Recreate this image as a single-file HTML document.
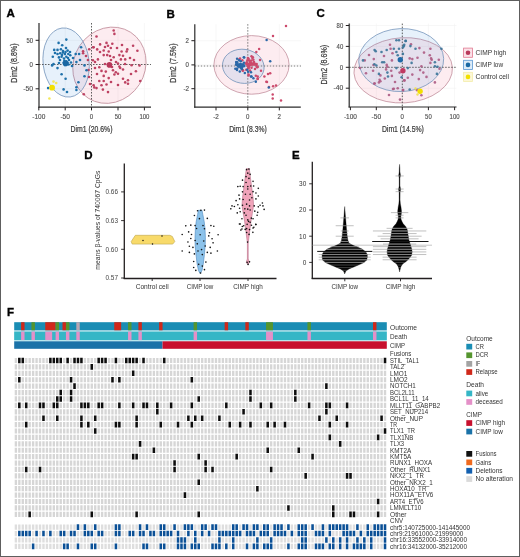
<!DOCTYPE html>
<html><head><meta charset="utf-8"><style>
html,body{margin:0;padding:0;background:#fff;}
svg{display:block;font-family:"Liberation Sans", sans-serif;will-change:transform;}
</style></head><body>
<svg width="520" height="557" viewBox="0 0 520 557">
<rect width="520" height="557" fill="#fff"/>
<text x="6.60" y="16.80" font-size="11.5" fill="#000" text-anchor="start" font-weight="bold" stroke="#000" stroke-width="0.35">A</text>
<text x="166.50" y="17.80" font-size="11.5" fill="#000" text-anchor="start" font-weight="bold" stroke="#000" stroke-width="0.35">B</text>
<text x="316.40" y="16.60" font-size="11.5" fill="#000" text-anchor="start" font-weight="bold" stroke="#000" stroke-width="0.35">C</text>
<text x="84.20" y="158.70" font-size="11.5" fill="#000" text-anchor="start" font-weight="bold" stroke="#000" stroke-width="0.35">D</text>
<text x="292.10" y="158.70" font-size="11.5" fill="#000" text-anchor="start" font-weight="bold" stroke="#000" stroke-width="0.35">E</text>
<text x="6.90" y="315.80" font-size="11.5" fill="#000" text-anchor="start" font-weight="bold" stroke="#000" stroke-width="0.35">F</text>
<line x1="38.80" y1="23.00" x2="38.80" y2="107.20" stroke="#f1f1f1" stroke-width="0.6"/>
<line x1="65.20" y1="23.00" x2="65.20" y2="107.20" stroke="#f1f1f1" stroke-width="0.6"/>
<line x1="91.50" y1="23.00" x2="91.50" y2="107.20" stroke="#f1f1f1" stroke-width="0.6"/>
<line x1="118.00" y1="23.00" x2="118.00" y2="107.20" stroke="#f1f1f1" stroke-width="0.6"/>
<line x1="144.40" y1="23.00" x2="144.40" y2="107.20" stroke="#f1f1f1" stroke-width="0.6"/>
<line x1="39.00" y1="40.30" x2="151.00" y2="40.30" stroke="#f1f1f1" stroke-width="0.6"/>
<line x1="39.00" y1="64.50" x2="151.00" y2="64.50" stroke="#f1f1f1" stroke-width="0.6"/>
<line x1="39.00" y1="88.80" x2="151.00" y2="88.80" stroke="#f1f1f1" stroke-width="0.6"/>
<ellipse cx="109.43" cy="65.24" rx="35.56" ry="39.18" transform="rotate(32.9 109.43 65.24)" fill="#ec5078" fill-opacity="0.11" stroke="#bf8a98" stroke-width="0.75"/>
<ellipse cx="66.09" cy="62.5" rx="22.99" ry="34.72" transform="rotate(-6.8 66.09 62.5)" fill="#3c8cdc" fill-opacity="0.12" stroke="#7090b8" stroke-width="0.75"/>
<line x1="39.00" y1="64.50" x2="151.00" y2="64.50" stroke="#3a3a3a" stroke-width="0.8" stroke-dasharray="1.5 1.5"/>
<line x1="91.50" y1="23.00" x2="91.50" y2="107.20" stroke="#3a3a3a" stroke-width="0.8" stroke-dasharray="1.5 1.5"/>
<circle cx="113.70" cy="30.50" r="1.30" fill="#bd4262"/>
<circle cx="114.40" cy="33.90" r="1.30" fill="#bd4262"/>
<circle cx="96.50" cy="36.50" r="1.30" fill="#bd4262"/>
<circle cx="106.50" cy="42.90" r="1.30" fill="#bd4262"/>
<circle cx="112.30" cy="43.70" r="1.30" fill="#bd4262"/>
<circle cx="100.10" cy="44.40" r="1.30" fill="#bd4262"/>
<circle cx="108.00" cy="45.80" r="1.30" fill="#bd4262"/>
<circle cx="110.80" cy="48.00" r="1.30" fill="#bd4262"/>
<circle cx="133.10" cy="45.80" r="1.30" fill="#bd4262"/>
<circle cx="93.60" cy="47.20" r="1.30" fill="#bd4262"/>
<circle cx="97.20" cy="49.40" r="1.30" fill="#bd4262"/>
<circle cx="103.70" cy="50.50" r="1.30" fill="#bd4262"/>
<circle cx="127.30" cy="49.40" r="1.30" fill="#bd4262"/>
<circle cx="126.60" cy="51.50" r="1.30" fill="#bd4262"/>
<circle cx="137.40" cy="50.80" r="1.30" fill="#bd4262"/>
<circle cx="108.70" cy="51.50" r="1.30" fill="#bd4262"/>
<circle cx="121.60" cy="51.50" r="1.30" fill="#bd4262"/>
<circle cx="103.70" cy="55.10" r="1.30" fill="#bd4262"/>
<circle cx="107.20" cy="55.10" r="1.30" fill="#bd4262"/>
<circle cx="119.40" cy="55.10" r="1.30" fill="#bd4262"/>
<circle cx="123.00" cy="55.80" r="1.30" fill="#bd4262"/>
<circle cx="113.70" cy="57.30" r="1.30" fill="#bd4262"/>
<circle cx="97.90" cy="59.40" r="1.30" fill="#bd4262"/>
<circle cx="120.90" cy="59.40" r="1.30" fill="#bd4262"/>
<circle cx="125.20" cy="59.40" r="1.30" fill="#bd4262"/>
<circle cx="92.90" cy="60.20" r="1.30" fill="#bd4262"/>
<circle cx="118.00" cy="63.50" r="1.30" fill="#bd4262"/>
<circle cx="131.60" cy="65.20" r="1.30" fill="#bd4262"/>
<circle cx="139.50" cy="65.50" r="1.30" fill="#bd4262"/>
<circle cx="119.40" cy="66.60" r="1.30" fill="#bd4262"/>
<circle cx="99.30" cy="67.30" r="1.30" fill="#bd4262"/>
<circle cx="95.00" cy="68.00" r="1.30" fill="#bd4262"/>
<circle cx="120.20" cy="68.00" r="1.30" fill="#bd4262"/>
<circle cx="123.00" cy="69.50" r="1.30" fill="#bd4262"/>
<circle cx="113.00" cy="70.20" r="1.30" fill="#bd4262"/>
<circle cx="101.50" cy="70.90" r="1.30" fill="#bd4262"/>
<circle cx="105.80" cy="71.60" r="1.30" fill="#bd4262"/>
<circle cx="135.90" cy="71.20" r="1.30" fill="#bd4262"/>
<circle cx="115.80" cy="72.30" r="1.30" fill="#bd4262"/>
<circle cx="118.00" cy="73.80" r="1.30" fill="#bd4262"/>
<circle cx="114.40" cy="74.50" r="1.30" fill="#bd4262"/>
<circle cx="103.70" cy="75.90" r="1.30" fill="#bd4262"/>
<circle cx="108.70" cy="78.10" r="1.30" fill="#bd4262"/>
<circle cx="123.00" cy="78.80" r="1.30" fill="#bd4262"/>
<circle cx="128.00" cy="80.20" r="1.30" fill="#bd4262"/>
<circle cx="140.20" cy="81.00" r="1.30" fill="#bd4262"/>
<circle cx="99.30" cy="81.00" r="1.30" fill="#bd4262"/>
<circle cx="103.70" cy="81.00" r="1.30" fill="#bd4262"/>
<circle cx="125.20" cy="82.40" r="1.30" fill="#bd4262"/>
<circle cx="128.00" cy="83.80" r="1.30" fill="#bd4262"/>
<circle cx="93.60" cy="85.30" r="1.30" fill="#bd4262"/>
<circle cx="101.50" cy="85.30" r="1.30" fill="#bd4262"/>
<circle cx="106.50" cy="84.50" r="1.30" fill="#bd4262"/>
<circle cx="94.30" cy="87.40" r="1.30" fill="#bd4262"/>
<circle cx="96.50" cy="88.10" r="1.30" fill="#bd4262"/>
<circle cx="102.90" cy="89.60" r="1.30" fill="#bd4262"/>
<circle cx="108.00" cy="92.10" r="1.30" fill="#bd4262"/>
<circle cx="83.10" cy="51.30" r="1.30" fill="#bd4262"/>
<circle cx="83.10" cy="53.30" r="1.30" fill="#bd4262"/>
<circle cx="87.90" cy="60.00" r="1.30" fill="#bd4262"/>
<circle cx="89.20" cy="49.30" r="1.30" fill="#bd4262"/>
<circle cx="93.20" cy="47.20" r="1.30" fill="#bd4262"/>
<circle cx="88.50" cy="70.00" r="1.30" fill="#bd4262"/>
<circle cx="86.00" cy="56.00" r="1.30" fill="#bd4262"/>
<circle cx="89.00" cy="77.00" r="1.30" fill="#bd4262"/>
<circle cx="95.00" cy="62.00" r="1.30" fill="#bd4262"/>
<circle cx="111.00" cy="60.00" r="1.30" fill="#bd4262"/>
<circle cx="116.00" cy="62.00" r="1.30" fill="#bd4262"/>
<circle cx="105.00" cy="64.00" r="1.30" fill="#bd4262"/>
<circle cx="112.00" cy="67.00" r="1.30" fill="#bd4262"/>
<circle cx="110.00" cy="56.00" r="1.30" fill="#bd4262"/>
<circle cx="125.00" cy="64.00" r="1.30" fill="#bd4262"/>
<circle cx="130.00" cy="58.00" r="1.30" fill="#bd4262"/>
<circle cx="117.00" cy="48.00" r="1.30" fill="#bd4262"/>
<circle cx="122.00" cy="45.00" r="1.30" fill="#bd4262"/>
<circle cx="100.00" cy="52.00" r="1.30" fill="#bd4262"/>
<circle cx="97.00" cy="74.00" r="1.30" fill="#bd4262"/>
<circle cx="111.00" cy="82.00" r="1.30" fill="#bd4262"/>
<circle cx="118.00" cy="85.00" r="1.30" fill="#bd4262"/>
<circle cx="131.00" cy="74.00" r="1.30" fill="#bd4262"/>
<circle cx="134.00" cy="60.00" r="1.30" fill="#bd4262"/>
<circle cx="105.00" cy="47.00" r="1.30" fill="#bd4262"/>
<circle cx="90.00" cy="84.00" r="1.30" fill="#bd4262"/>
<circle cx="83.80" cy="94.30" r="1.30" fill="#bd4262"/>
<circle cx="66.30" cy="39.60" r="1.30" fill="#1f71aa"/>
<circle cx="58.60" cy="42.90" r="1.30" fill="#1f71aa"/>
<circle cx="62.20" cy="45.20" r="1.30" fill="#1f71aa"/>
<circle cx="54.20" cy="49.90" r="1.30" fill="#1f71aa"/>
<circle cx="57.50" cy="49.90" r="1.30" fill="#1f71aa"/>
<circle cx="60.90" cy="49.30" r="1.30" fill="#1f71aa"/>
<circle cx="67.60" cy="50.60" r="1.30" fill="#1f71aa"/>
<circle cx="57.50" cy="54.00" r="1.30" fill="#1f71aa"/>
<circle cx="60.20" cy="53.30" r="1.30" fill="#1f71aa"/>
<circle cx="62.90" cy="52.60" r="1.30" fill="#1f71aa"/>
<circle cx="64.90" cy="54.00" r="1.30" fill="#1f71aa"/>
<circle cx="68.30" cy="54.00" r="1.30" fill="#1f71aa"/>
<circle cx="70.30" cy="55.30" r="1.30" fill="#1f71aa"/>
<circle cx="52.80" cy="56.70" r="1.30" fill="#1f71aa"/>
<circle cx="58.90" cy="57.40" r="1.30" fill="#1f71aa"/>
<circle cx="61.60" cy="56.70" r="1.30" fill="#1f71aa"/>
<circle cx="66.30" cy="56.70" r="1.30" fill="#1f71aa"/>
<circle cx="75.70" cy="54.00" r="1.30" fill="#1f71aa"/>
<circle cx="79.10" cy="54.00" r="1.30" fill="#1f71aa"/>
<circle cx="81.10" cy="47.20" r="1.30" fill="#1f71aa"/>
<circle cx="64.30" cy="60.70" r="1.30" fill="#1f71aa"/>
<circle cx="66.30" cy="61.40" r="1.30" fill="#1f71aa"/>
<circle cx="67.60" cy="62.70" r="1.30" fill="#1f71aa"/>
<circle cx="63.60" cy="62.70" r="1.30" fill="#1f71aa"/>
<circle cx="71.00" cy="62.50" r="1.30" fill="#1f71aa"/>
<circle cx="76.40" cy="62.10" r="1.30" fill="#1f71aa"/>
<circle cx="53.50" cy="64.10" r="1.30" fill="#1f71aa"/>
<circle cx="52.10" cy="65.40" r="1.30" fill="#1f71aa"/>
<circle cx="57.50" cy="68.10" r="1.30" fill="#1f71aa"/>
<circle cx="84.50" cy="65.40" r="1.30" fill="#1f71aa"/>
<circle cx="86.50" cy="70.20" r="1.30" fill="#1f71aa"/>
<circle cx="61.60" cy="74.20" r="1.30" fill="#1f71aa"/>
<circle cx="84.50" cy="76.20" r="1.30" fill="#1f71aa"/>
<circle cx="65.60" cy="78.70" r="1.30" fill="#1f71aa"/>
<circle cx="78.40" cy="82.30" r="1.30" fill="#1f71aa"/>
<circle cx="48.10" cy="88.10" r="1.30" fill="#1f71aa"/>
<circle cx="63.60" cy="89.40" r="1.30" fill="#1f71aa"/>
<circle cx="67.00" cy="92.00" r="1.30" fill="#1f71aa"/>
<circle cx="76.40" cy="87.30" r="1.30" fill="#1f71aa"/>
<circle cx="76.40" cy="90.00" r="1.30" fill="#1f71aa"/>
<circle cx="63.00" cy="51.00" r="1.30" fill="#1f71aa"/>
<circle cx="65.50" cy="52.00" r="1.30" fill="#1f71aa"/>
<circle cx="68.00" cy="58.00" r="1.30" fill="#1f71aa"/>
<circle cx="64.00" cy="58.50" r="1.30" fill="#1f71aa"/>
<circle cx="60.00" cy="60.00" r="1.30" fill="#1f71aa"/>
<circle cx="69.00" cy="60.00" r="1.30" fill="#1f71aa"/>
<circle cx="62.00" cy="55.00" r="1.30" fill="#1f71aa"/>
<circle cx="66.00" cy="48.00" r="1.30" fill="#1f71aa"/>
<circle cx="70.00" cy="52.00" r="1.30" fill="#1f71aa"/>
<circle cx="73.00" cy="58.00" r="1.30" fill="#1f71aa"/>
<circle cx="55.00" cy="53.00" r="1.30" fill="#1f71aa"/>
<circle cx="59.00" cy="63.00" r="1.30" fill="#1f71aa"/>
<circle cx="68.50" cy="64.50" r="1.30" fill="#1f71aa"/>
<circle cx="65.00" cy="65.00" r="1.30" fill="#1f71aa"/>
<circle cx="72.00" cy="66.00" r="1.30" fill="#1f71aa"/>
<circle cx="80.00" cy="60.00" r="1.30" fill="#1f71aa"/>
<circle cx="109.40" cy="64.90" r="2.80" fill="#b8385a"/>
<circle cx="65.60" cy="63.40" r="2.80" fill="#1a68a3"/>
<circle cx="53.50" cy="81.60" r="1.30" fill="#f3e85a"/>
<circle cx="56.20" cy="83.00" r="1.30" fill="#f3e85a"/>
<circle cx="49.40" cy="98.50" r="1.30" fill="#f3e85a"/>
<circle cx="52.10" cy="87.70" r="2.90" fill="#f2e000"/>
<line x1="39.00" y1="23.00" x2="39.00" y2="107.80" stroke="#2b2b2b" stroke-width="1.2"/>
<line x1="38.40" y1="107.20" x2="151.00" y2="107.20" stroke="#2b2b2b" stroke-width="1.2"/>
<line x1="38.80" y1="107.20" x2="38.80" y2="110.40" stroke="#231f20" stroke-width="1.0"/>
<text x="38.80" y="119.00" font-size="7.0" fill="#505050" text-anchor="middle" textLength="13.00" lengthAdjust="spacingAndGlyphs" stroke="#505050" stroke-width="0.15">-100</text>
<line x1="65.20" y1="107.20" x2="65.20" y2="110.40" stroke="#231f20" stroke-width="1.0"/>
<text x="65.20" y="119.00" font-size="7.0" fill="#505050" text-anchor="middle" textLength="9.60" lengthAdjust="spacingAndGlyphs" stroke="#505050" stroke-width="0.15">-50</text>
<line x1="91.50" y1="107.20" x2="91.50" y2="110.40" stroke="#231f20" stroke-width="1.0"/>
<text x="91.50" y="119.00" font-size="7.0" fill="#505050" text-anchor="middle" textLength="3.40" lengthAdjust="spacingAndGlyphs" stroke="#505050" stroke-width="0.15">0</text>
<line x1="118.00" y1="107.20" x2="118.00" y2="110.40" stroke="#231f20" stroke-width="1.0"/>
<text x="118.00" y="119.00" font-size="7.0" fill="#505050" text-anchor="middle" textLength="6.60" lengthAdjust="spacingAndGlyphs" stroke="#505050" stroke-width="0.15">50</text>
<line x1="144.40" y1="107.20" x2="144.40" y2="110.40" stroke="#231f20" stroke-width="1.0"/>
<text x="144.40" y="119.00" font-size="7.0" fill="#505050" text-anchor="middle" textLength="10.00" lengthAdjust="spacingAndGlyphs" stroke="#505050" stroke-width="0.15">100</text>
<line x1="35.60" y1="40.30" x2="39.00" y2="40.30" stroke="#231f20" stroke-width="1.0"/>
<text x="33.00" y="42.50" font-size="7.0" fill="#505050" text-anchor="end" textLength="6.60" lengthAdjust="spacingAndGlyphs" stroke="#505050" stroke-width="0.15">50</text>
<line x1="35.60" y1="64.50" x2="39.00" y2="64.50" stroke="#231f20" stroke-width="1.0"/>
<text x="33.00" y="66.70" font-size="7.0" fill="#505050" text-anchor="end" textLength="3.40" lengthAdjust="spacingAndGlyphs" stroke="#505050" stroke-width="0.15">0</text>
<line x1="35.60" y1="88.80" x2="39.00" y2="88.80" stroke="#231f20" stroke-width="1.0"/>
<text x="33.00" y="91.00" font-size="7.0" fill="#505050" text-anchor="end" textLength="9.80" lengthAdjust="spacingAndGlyphs" stroke="#505050" stroke-width="0.15">-50</text>
<text x="91.50" y="131.60" font-size="8.8" fill="#3a3a3a" text-anchor="middle" textLength="42.00" lengthAdjust="spacingAndGlyphs" stroke="#3a3a3a" stroke-width="0.22">Dim1 (20.6%)</text>
<text x="17.00" y="63.10" font-size="8.8" fill="#3a3a3a" text-anchor="middle" textLength="39.20" lengthAdjust="spacingAndGlyphs" transform="rotate(-90 17.00 63.10)" stroke="#3a3a3a" stroke-width="0.22">Dim2 (8.8%)</text>
<line x1="216.00" y1="24.20" x2="216.00" y2="107.20" stroke="#f1f1f1" stroke-width="0.6"/>
<line x1="247.80" y1="24.20" x2="247.80" y2="107.20" stroke="#f1f1f1" stroke-width="0.6"/>
<line x1="279.30" y1="24.20" x2="279.30" y2="107.20" stroke="#f1f1f1" stroke-width="0.6"/>
<line x1="194.80" y1="40.70" x2="300.80" y2="40.70" stroke="#f1f1f1" stroke-width="0.6"/>
<line x1="194.80" y1="64.90" x2="300.80" y2="64.90" stroke="#f1f1f1" stroke-width="0.6"/>
<line x1="194.80" y1="88.70" x2="300.80" y2="88.70" stroke="#f1f1f1" stroke-width="0.6"/>
<ellipse cx="251.5" cy="64.9" rx="37.6" ry="29.3" fill="#ec5078" fill-opacity="0.11" stroke="#bf8a98" stroke-width="0.75"/>
<ellipse cx="243.3" cy="66.3" rx="20.9" ry="17.0" transform="rotate(9 243.3 66.3)" fill="#3c8cdc" fill-opacity="0.12" stroke="#7090b8" stroke-width="0.75"/>
<line x1="194.80" y1="66.00" x2="301.00" y2="66.00" stroke="#6a6a6a" stroke-width="0.9" stroke-dasharray="1.4 1.6"/>
<line x1="247.80" y1="24.20" x2="247.80" y2="107.20" stroke="#6a6a6a" stroke-width="0.9" stroke-dasharray="1.4 1.6"/>
<circle cx="286.00" cy="26.00" r="1.25" fill="#cc4a6c"/>
<circle cx="273.00" cy="36.00" r="1.25" fill="#cc4a6c"/>
<circle cx="259.10" cy="49.10" r="1.25" fill="#cc4a6c"/>
<circle cx="256.30" cy="52.00" r="1.25" fill="#cc4a6c"/>
<circle cx="252.90" cy="57.30" r="1.25" fill="#cc4a6c"/>
<circle cx="248.60" cy="58.80" r="1.25" fill="#cc4a6c"/>
<circle cx="239.40" cy="59.20" r="1.25" fill="#cc4a6c"/>
<circle cx="256.70" cy="64.00" r="1.25" fill="#cc4a6c"/>
<circle cx="257.70" cy="66.90" r="1.25" fill="#cc4a6c"/>
<circle cx="261.00" cy="70.80" r="1.25" fill="#cc4a6c"/>
<circle cx="270.20" cy="73.20" r="1.25" fill="#cc4a6c"/>
<circle cx="264.40" cy="76.50" r="1.25" fill="#cc4a6c"/>
<circle cx="266.30" cy="81.80" r="1.25" fill="#cc4a6c"/>
<circle cx="257.70" cy="76.50" r="1.25" fill="#cc4a6c"/>
<circle cx="257.70" cy="78.50" r="1.25" fill="#cc4a6c"/>
<circle cx="248.60" cy="75.60" r="1.25" fill="#cc4a6c"/>
<circle cx="242.80" cy="70.80" r="1.25" fill="#cc4a6c"/>
<circle cx="246.20" cy="69.80" r="1.25" fill="#cc4a6c"/>
<circle cx="273.10" cy="86.20" r="1.25" fill="#cc4a6c"/>
<circle cx="267.00" cy="82.00" r="1.25" fill="#cc4a6c"/>
<circle cx="272.70" cy="94.50" r="1.25" fill="#cc4a6c"/>
<circle cx="272.70" cy="98.50" r="1.25" fill="#cc4a6c"/>
<circle cx="281.00" cy="100.60" r="1.25" fill="#cc4a6c"/>
<circle cx="276.00" cy="85.60" r="1.25" fill="#cc4a6c"/>
<circle cx="269.00" cy="87.00" r="1.25" fill="#cc4a6c"/>
<circle cx="268.00" cy="74.00" r="1.25" fill="#cc4a6c"/>
<circle cx="260.00" cy="60.00" r="1.25" fill="#cc4a6c"/>
<circle cx="240.00" cy="58.50" r="1.25" fill="#cc4a6c"/>
<circle cx="242.30" cy="60.20" r="1.25" fill="#cc4a6c"/>
<circle cx="247.80" cy="58.00" r="1.25" fill="#cc4a6c"/>
<circle cx="251.50" cy="56.20" r="1.25" fill="#cc4a6c"/>
<circle cx="253.40" cy="59.80" r="1.25" fill="#cc4a6c"/>
<circle cx="252.40" cy="58.00" r="1.25" fill="#cc4a6c"/>
<circle cx="248.50" cy="74.60" r="1.25" fill="#cc4a6c"/>
<circle cx="256.50" cy="65.40" r="1.25" fill="#cc4a6c"/>
<circle cx="257.00" cy="67.20" r="1.25" fill="#cc4a6c"/>
<circle cx="255.80" cy="75.80" r="1.25" fill="#cc4a6c"/>
<circle cx="257.70" cy="79.00" r="1.25" fill="#cc4a6c"/>
<circle cx="243.00" cy="70.30" r="1.25" fill="#cc4a6c"/>
<circle cx="254.00" cy="62.00" r="1.25" fill="#cc4a6c"/>
<circle cx="255.00" cy="69.00" r="1.25" fill="#cc4a6c"/>
<circle cx="250.00" cy="70.50" r="1.25" fill="#cc4a6c"/>
<circle cx="246.74" cy="62.36" r="1.25" fill="#cc4a6c"/>
<circle cx="251.54" cy="60.53" r="1.25" fill="#cc4a6c"/>
<circle cx="249.43" cy="60.59" r="1.25" fill="#cc4a6c"/>
<circle cx="252.66" cy="64.52" r="1.25" fill="#cc4a6c"/>
<circle cx="253.33" cy="63.39" r="1.25" fill="#cc4a6c"/>
<circle cx="250.84" cy="63.74" r="1.25" fill="#cc4a6c"/>
<circle cx="247.88" cy="64.43" r="1.25" fill="#cc4a6c"/>
<circle cx="246.53" cy="63.63" r="1.25" fill="#cc4a6c"/>
<circle cx="251.61" cy="64.29" r="1.25" fill="#cc4a6c"/>
<circle cx="248.73" cy="67.70" r="1.25" fill="#cc4a6c"/>
<circle cx="249.95" cy="63.26" r="1.25" fill="#cc4a6c"/>
<circle cx="250.21" cy="63.36" r="1.25" fill="#cc4a6c"/>
<circle cx="248.80" cy="63.64" r="1.25" fill="#cc4a6c"/>
<circle cx="255.07" cy="64.24" r="1.25" fill="#cc4a6c"/>
<circle cx="250.26" cy="65.28" r="1.25" fill="#cc4a6c"/>
<circle cx="255.04" cy="63.84" r="1.25" fill="#cc4a6c"/>
<circle cx="248.18" cy="68.16" r="1.25" fill="#cc4a6c"/>
<circle cx="246.00" cy="63.61" r="1.25" fill="#cc4a6c"/>
<circle cx="251.53" cy="67.85" r="1.25" fill="#cc4a6c"/>
<circle cx="247.33" cy="60.32" r="1.25" fill="#cc4a6c"/>
<circle cx="251.52" cy="63.37" r="1.25" fill="#cc4a6c"/>
<circle cx="248.79" cy="64.94" r="1.25" fill="#cc4a6c"/>
<circle cx="250.38" cy="64.67" r="1.25" fill="#cc4a6c"/>
<circle cx="248.68" cy="66.26" r="1.25" fill="#cc4a6c"/>
<circle cx="253.71" cy="64.25" r="1.25" fill="#cc4a6c"/>
<circle cx="248.63" cy="65.37" r="1.25" fill="#cc4a6c"/>
<circle cx="251.04" cy="62.54" r="1.25" fill="#cc4a6c"/>
<circle cx="248.60" cy="65.88" r="1.25" fill="#cc4a6c"/>
<circle cx="249.55" cy="63.67" r="1.25" fill="#cc4a6c"/>
<circle cx="250.35" cy="64.15" r="1.25" fill="#cc4a6c"/>
<circle cx="249.79" cy="61.11" r="1.25" fill="#cc4a6c"/>
<circle cx="254.35" cy="64.52" r="1.25" fill="#cc4a6c"/>
<circle cx="247.52" cy="65.77" r="1.25" fill="#cc4a6c"/>
<circle cx="250.60" cy="64.23" r="1.25" fill="#cc4a6c"/>
<circle cx="266.60" cy="40.00" r="1.25" fill="#2b68a8"/>
<circle cx="243.80" cy="57.30" r="1.25" fill="#2b68a8"/>
<circle cx="270.20" cy="61.30" r="1.25" fill="#2b68a8"/>
<circle cx="255.80" cy="81.80" r="1.25" fill="#2b68a8"/>
<circle cx="253.40" cy="78.30" r="1.25" fill="#2b68a8"/>
<circle cx="251.00" cy="76.50" r="1.25" fill="#2b68a8"/>
<circle cx="251.00" cy="72.20" r="1.25" fill="#2b68a8"/>
<circle cx="248.10" cy="71.70" r="1.25" fill="#2b68a8"/>
<circle cx="244.80" cy="73.00" r="1.25" fill="#2b68a8"/>
<circle cx="239.80" cy="71.50" r="1.25" fill="#2b68a8"/>
<circle cx="268.80" cy="87.60" r="1.25" fill="#2b68a8"/>
<circle cx="244.20" cy="57.40" r="1.25" fill="#2b68a8"/>
<circle cx="247.20" cy="69.70" r="1.25" fill="#2b68a8"/>
<circle cx="251.50" cy="76.50" r="1.25" fill="#2b68a8"/>
<circle cx="242.00" cy="69.00" r="1.25" fill="#2b68a8"/>
<circle cx="237.00" cy="70.00" r="1.25" fill="#2b68a8"/>
<circle cx="241.70" cy="69.10" r="1.25" fill="#2b68a8"/>
<circle cx="240.71" cy="67.81" r="1.25" fill="#2b68a8"/>
<circle cx="243.91" cy="62.86" r="1.25" fill="#2b68a8"/>
<circle cx="238.55" cy="66.27" r="1.25" fill="#2b68a8"/>
<circle cx="236.18" cy="64.29" r="1.25" fill="#2b68a8"/>
<circle cx="242.19" cy="66.78" r="1.25" fill="#2b68a8"/>
<circle cx="240.76" cy="61.20" r="1.25" fill="#2b68a8"/>
<circle cx="244.30" cy="65.85" r="1.25" fill="#2b68a8"/>
<circle cx="241.13" cy="65.74" r="1.25" fill="#2b68a8"/>
<circle cx="236.17" cy="62.07" r="1.25" fill="#2b68a8"/>
<circle cx="237.17" cy="68.44" r="1.25" fill="#2b68a8"/>
<circle cx="237.94" cy="64.34" r="1.25" fill="#2b68a8"/>
<circle cx="239.09" cy="65.88" r="1.25" fill="#2b68a8"/>
<circle cx="240.60" cy="65.31" r="1.25" fill="#2b68a8"/>
<circle cx="237.08" cy="58.84" r="1.25" fill="#2b68a8"/>
<circle cx="239.93" cy="65.31" r="1.25" fill="#2b68a8"/>
<circle cx="242.06" cy="64.60" r="1.25" fill="#2b68a8"/>
<circle cx="238.38" cy="65.58" r="1.25" fill="#2b68a8"/>
<circle cx="236.49" cy="62.82" r="1.25" fill="#2b68a8"/>
<circle cx="237.59" cy="65.35" r="1.25" fill="#2b68a8"/>
<circle cx="243.78" cy="66.25" r="1.25" fill="#2b68a8"/>
<circle cx="241.88" cy="65.25" r="1.25" fill="#2b68a8"/>
<circle cx="240.16" cy="63.95" r="1.25" fill="#2b68a8"/>
<circle cx="239.04" cy="60.18" r="1.25" fill="#2b68a8"/>
<circle cx="237.19" cy="62.35" r="1.25" fill="#2b68a8"/>
<circle cx="241.27" cy="66.06" r="1.25" fill="#2b68a8"/>
<circle cx="241.88" cy="67.76" r="1.25" fill="#2b68a8"/>
<circle cx="238.99" cy="66.81" r="1.25" fill="#2b68a8"/>
<circle cx="243.51" cy="64.78" r="1.25" fill="#2b68a8"/>
<circle cx="241.77" cy="64.49" r="1.25" fill="#2b68a8"/>
<circle cx="236.37" cy="65.03" r="1.25" fill="#2b68a8"/>
<circle cx="237.96" cy="65.01" r="1.25" fill="#2b68a8"/>
<circle cx="238.67" cy="65.41" r="1.25" fill="#2b68a8"/>
<circle cx="235.33" cy="68.76" r="1.25" fill="#2b68a8"/>
<line x1="194.80" y1="24.20" x2="194.80" y2="107.80" stroke="#2b2b2b" stroke-width="1.2"/>
<line x1="194.20" y1="107.20" x2="300.80" y2="107.20" stroke="#2b2b2b" stroke-width="1.2"/>
<line x1="216.00" y1="107.20" x2="216.00" y2="110.40" stroke="#231f20" stroke-width="1.0"/>
<text x="216.00" y="119.00" font-size="7.0" fill="#505050" text-anchor="middle" textLength="5.60" lengthAdjust="spacingAndGlyphs" stroke="#505050" stroke-width="0.15">-2</text>
<line x1="247.80" y1="107.20" x2="247.80" y2="110.40" stroke="#231f20" stroke-width="1.0"/>
<text x="247.80" y="119.00" font-size="7.0" fill="#505050" text-anchor="middle" textLength="3.40" lengthAdjust="spacingAndGlyphs" stroke="#505050" stroke-width="0.15">0</text>
<line x1="279.30" y1="107.20" x2="279.30" y2="110.40" stroke="#231f20" stroke-width="1.0"/>
<text x="279.30" y="119.00" font-size="7.0" fill="#505050" text-anchor="middle" textLength="3.40" lengthAdjust="spacingAndGlyphs" stroke="#505050" stroke-width="0.15">2</text>
<line x1="191.40" y1="40.70" x2="194.80" y2="40.70" stroke="#231f20" stroke-width="1.0"/>
<text x="189.00" y="42.90" font-size="7.0" fill="#505050" text-anchor="end" textLength="3.40" lengthAdjust="spacingAndGlyphs" stroke="#505050" stroke-width="0.15">2</text>
<line x1="191.40" y1="64.90" x2="194.80" y2="64.90" stroke="#231f20" stroke-width="1.0"/>
<text x="189.00" y="67.10" font-size="7.0" fill="#505050" text-anchor="end" textLength="3.40" lengthAdjust="spacingAndGlyphs" stroke="#505050" stroke-width="0.15">0</text>
<line x1="191.40" y1="88.70" x2="194.80" y2="88.70" stroke="#231f20" stroke-width="1.0"/>
<text x="189.00" y="90.90" font-size="7.0" fill="#505050" text-anchor="end" textLength="5.60" lengthAdjust="spacingAndGlyphs" stroke="#505050" stroke-width="0.15">-2</text>
<text x="248.00" y="132.20" font-size="8.8" fill="#3a3a3a" text-anchor="middle" textLength="37.60" lengthAdjust="spacingAndGlyphs" stroke="#3a3a3a" stroke-width="0.22">Dim1 (8.3%)</text>
<text x="176.00" y="63.10" font-size="8.8" fill="#3a3a3a" text-anchor="middle" textLength="39.20" lengthAdjust="spacingAndGlyphs" transform="rotate(-90 176.00 63.10)" stroke="#3a3a3a" stroke-width="0.22">Dim2 (7.5%)</text>
<line x1="350.40" y1="23.60" x2="350.40" y2="107.00" stroke="#f1f1f1" stroke-width="0.6"/>
<line x1="376.30" y1="23.60" x2="376.30" y2="107.00" stroke="#f1f1f1" stroke-width="0.6"/>
<line x1="402.30" y1="23.60" x2="402.30" y2="107.00" stroke="#f1f1f1" stroke-width="0.6"/>
<line x1="428.40" y1="23.60" x2="428.40" y2="107.00" stroke="#f1f1f1" stroke-width="0.6"/>
<line x1="454.60" y1="23.60" x2="454.60" y2="107.00" stroke="#f1f1f1" stroke-width="0.6"/>
<line x1="349.20" y1="25.50" x2="456.50" y2="25.50" stroke="#f1f1f1" stroke-width="0.6"/>
<line x1="349.20" y1="46.40" x2="456.50" y2="46.40" stroke="#f1f1f1" stroke-width="0.6"/>
<line x1="349.20" y1="67.30" x2="456.50" y2="67.30" stroke="#f1f1f1" stroke-width="0.6"/>
<line x1="349.20" y1="88.20" x2="456.50" y2="88.20" stroke="#f1f1f1" stroke-width="0.6"/>
<ellipse cx="403.2" cy="70.3" rx="49.3" ry="32.6" transform="rotate(-3.3 403.2 70.3)" fill="#ec5078" fill-opacity="0.11" stroke="#bf8a98" stroke-width="0.75"/>
<ellipse cx="401.2" cy="60.1" rx="42.5" ry="31.5" transform="rotate(-2.3 401.2 60.1)" fill="#3c8cdc" fill-opacity="0.12" stroke="#7090b8" stroke-width="0.75"/>
<line x1="349.20" y1="67.30" x2="456.50" y2="67.30" stroke="#3a3a3a" stroke-width="0.8" stroke-dasharray="1.5 1.5"/>
<line x1="402.30" y1="23.60" x2="402.30" y2="107.00" stroke="#3a3a3a" stroke-width="0.8" stroke-dasharray="1.5 1.5"/>
<circle cx="390.00" cy="44.80" r="1.30" fill="#ad5c84" fill-opacity="0.9"/>
<circle cx="390.60" cy="48.70" r="1.30" fill="#ad5c84" fill-opacity="0.9"/>
<circle cx="392.50" cy="53.20" r="1.30" fill="#ad5c84" fill-opacity="0.9"/>
<circle cx="364.70" cy="60.40" r="1.30" fill="#ad5c84" fill-opacity="0.9"/>
<circle cx="373.80" cy="59.10" r="1.30" fill="#ad5c84" fill-opacity="0.9"/>
<circle cx="391.90" cy="60.40" r="1.30" fill="#ad5c84" fill-opacity="0.9"/>
<circle cx="386.70" cy="64.90" r="1.30" fill="#ad5c84" fill-opacity="0.9"/>
<circle cx="387.40" cy="66.80" r="1.30" fill="#ad5c84" fill-opacity="0.9"/>
<circle cx="373.10" cy="70.70" r="1.30" fill="#ad5c84" fill-opacity="0.9"/>
<circle cx="386.10" cy="69.40" r="1.30" fill="#ad5c84" fill-opacity="0.9"/>
<circle cx="391.20" cy="70.70" r="1.30" fill="#ad5c84" fill-opacity="0.9"/>
<circle cx="399.60" cy="72.60" r="1.30" fill="#ad5c84" fill-opacity="0.9"/>
<circle cx="391.90" cy="75.90" r="1.30" fill="#ad5c84" fill-opacity="0.9"/>
<circle cx="379.60" cy="79.80" r="1.30" fill="#ad5c84" fill-opacity="0.9"/>
<circle cx="378.90" cy="82.40" r="1.30" fill="#ad5c84" fill-opacity="0.9"/>
<circle cx="384.80" cy="78.50" r="1.30" fill="#ad5c84" fill-opacity="0.9"/>
<circle cx="374.40" cy="83.60" r="1.30" fill="#ad5c84" fill-opacity="0.9"/>
<circle cx="404.20" cy="80.40" r="1.30" fill="#ad5c84" fill-opacity="0.9"/>
<circle cx="397.70" cy="88.20" r="1.30" fill="#ad5c84" fill-opacity="0.9"/>
<circle cx="402.90" cy="90.10" r="1.30" fill="#ad5c84" fill-opacity="0.9"/>
<circle cx="393.80" cy="88.80" r="1.30" fill="#ad5c84" fill-opacity="0.9"/>
<circle cx="366.00" cy="73.30" r="1.30" fill="#ad5c84" fill-opacity="0.9"/>
<circle cx="411.00" cy="44.20" r="1.30" fill="#ad5c84" fill-opacity="0.9"/>
<circle cx="419.40" cy="48.10" r="1.30" fill="#ad5c84" fill-opacity="0.9"/>
<circle cx="430.40" cy="48.70" r="1.30" fill="#ad5c84" fill-opacity="0.9"/>
<circle cx="424.00" cy="52.60" r="1.30" fill="#ad5c84" fill-opacity="0.9"/>
<circle cx="429.80" cy="55.20" r="1.30" fill="#ad5c84" fill-opacity="0.9"/>
<circle cx="409.70" cy="58.40" r="1.30" fill="#ad5c84" fill-opacity="0.9"/>
<circle cx="412.30" cy="59.10" r="1.30" fill="#ad5c84" fill-opacity="0.9"/>
<circle cx="417.50" cy="57.80" r="1.30" fill="#ad5c84" fill-opacity="0.9"/>
<circle cx="431.10" cy="58.40" r="1.30" fill="#ad5c84" fill-opacity="0.9"/>
<circle cx="431.70" cy="59.70" r="1.30" fill="#ad5c84" fill-opacity="0.9"/>
<circle cx="438.80" cy="59.70" r="1.30" fill="#ad5c84" fill-opacity="0.9"/>
<circle cx="430.40" cy="62.90" r="1.30" fill="#ad5c84" fill-opacity="0.9"/>
<circle cx="421.40" cy="66.20" r="1.30" fill="#ad5c84" fill-opacity="0.9"/>
<circle cx="439.50" cy="68.80" r="1.30" fill="#ad5c84" fill-opacity="0.9"/>
<circle cx="420.10" cy="70.10" r="1.30" fill="#ad5c84" fill-opacity="0.9"/>
<circle cx="423.30" cy="72.60" r="1.30" fill="#ad5c84" fill-opacity="0.9"/>
<circle cx="412.30" cy="74.60" r="1.30" fill="#ad5c84" fill-opacity="0.9"/>
<circle cx="407.80" cy="77.80" r="1.30" fill="#ad5c84" fill-opacity="0.9"/>
<circle cx="418.80" cy="79.10" r="1.30" fill="#ad5c84" fill-opacity="0.9"/>
<circle cx="426.50" cy="76.90" r="1.30" fill="#ad5c84" fill-opacity="0.9"/>
<circle cx="434.90" cy="82.40" r="1.30" fill="#ad5c84" fill-opacity="0.9"/>
<circle cx="404.50" cy="80.40" r="1.30" fill="#ad5c84" fill-opacity="0.9"/>
<circle cx="416.80" cy="90.10" r="1.30" fill="#ad5c84" fill-opacity="0.9"/>
<circle cx="421.40" cy="95.30" r="1.30" fill="#ad5c84" fill-opacity="0.9"/>
<circle cx="403.20" cy="90.10" r="1.30" fill="#ad5c84" fill-opacity="0.9"/>
<circle cx="373.50" cy="65.00" r="1.30" fill="#ad5c84" fill-opacity="0.9"/>
<circle cx="380.40" cy="75.40" r="1.30" fill="#ad5c84" fill-opacity="0.9"/>
<circle cx="374.60" cy="83.50" r="1.30" fill="#ad5c84" fill-opacity="0.9"/>
<circle cx="380.40" cy="81.20" r="1.30" fill="#ad5c84" fill-opacity="0.9"/>
<circle cx="400.00" cy="99.60" r="1.30" fill="#ad5c84" fill-opacity="0.9"/>
<circle cx="393.00" cy="89.00" r="1.30" fill="#ad5c84" fill-opacity="0.9"/>
<circle cx="369.00" cy="55.00" r="1.30" fill="#ad5c84" fill-opacity="0.9"/>
<circle cx="384.00" cy="56.00" r="1.30" fill="#ad5c84" fill-opacity="0.9"/>
<circle cx="360.00" cy="68.00" r="1.30" fill="#ad5c84" fill-opacity="0.9"/>
<circle cx="395.00" cy="82.00" r="1.30" fill="#ad5c84" fill-opacity="0.9"/>
<circle cx="389.00" cy="95.00" r="1.30" fill="#ad5c84" fill-opacity="0.9"/>
<circle cx="396.40" cy="40.30" r="1.30" fill="#3a7498" fill-opacity="0.9"/>
<circle cx="399.00" cy="40.30" r="1.30" fill="#3a7498" fill-opacity="0.9"/>
<circle cx="405.50" cy="41.00" r="1.30" fill="#3a7498" fill-opacity="0.9"/>
<circle cx="404.20" cy="44.80" r="1.30" fill="#3a7498" fill-opacity="0.9"/>
<circle cx="393.80" cy="48.70" r="1.30" fill="#3a7498" fill-opacity="0.9"/>
<circle cx="399.00" cy="48.70" r="1.30" fill="#3a7498" fill-opacity="0.9"/>
<circle cx="402.90" cy="47.40" r="1.30" fill="#3a7498" fill-opacity="0.9"/>
<circle cx="386.70" cy="50.00" r="1.30" fill="#3a7498" fill-opacity="0.9"/>
<circle cx="375.70" cy="51.30" r="1.30" fill="#3a7498" fill-opacity="0.9"/>
<circle cx="381.50" cy="52.00" r="1.30" fill="#3a7498" fill-opacity="0.9"/>
<circle cx="396.40" cy="52.00" r="1.30" fill="#3a7498" fill-opacity="0.9"/>
<circle cx="397.70" cy="55.20" r="1.30" fill="#3a7498" fill-opacity="0.9"/>
<circle cx="402.90" cy="53.90" r="1.30" fill="#3a7498" fill-opacity="0.9"/>
<circle cx="382.20" cy="62.30" r="1.30" fill="#3a7498" fill-opacity="0.9"/>
<circle cx="384.10" cy="62.30" r="1.30" fill="#3a7498" fill-opacity="0.9"/>
<circle cx="374.40" cy="64.20" r="1.30" fill="#3a7498" fill-opacity="0.9"/>
<circle cx="376.40" cy="65.50" r="1.30" fill="#3a7498" fill-opacity="0.9"/>
<circle cx="378.90" cy="73.90" r="1.30" fill="#3a7498" fill-opacity="0.9"/>
<circle cx="387.40" cy="72.60" r="1.30" fill="#3a7498" fill-opacity="0.9"/>
<circle cx="401.60" cy="77.20" r="1.30" fill="#3a7498" fill-opacity="0.9"/>
<circle cx="405.80" cy="40.90" r="1.30" fill="#3a7498" fill-opacity="0.9"/>
<circle cx="410.40" cy="46.10" r="1.30" fill="#3a7498" fill-opacity="0.9"/>
<circle cx="403.90" cy="46.10" r="1.30" fill="#3a7498" fill-opacity="0.9"/>
<circle cx="415.50" cy="48.70" r="1.30" fill="#3a7498" fill-opacity="0.9"/>
<circle cx="441.40" cy="48.70" r="1.30" fill="#3a7498" fill-opacity="0.9"/>
<circle cx="434.90" cy="62.30" r="1.30" fill="#3a7498" fill-opacity="0.9"/>
<circle cx="411.60" cy="62.90" r="1.30" fill="#3a7498" fill-opacity="0.9"/>
<circle cx="434.90" cy="66.20" r="1.30" fill="#3a7498" fill-opacity="0.9"/>
<circle cx="437.50" cy="66.80" r="1.30" fill="#3a7498" fill-opacity="0.9"/>
<circle cx="436.90" cy="73.90" r="1.30" fill="#3a7498" fill-opacity="0.9"/>
<circle cx="409.70" cy="89.50" r="1.30" fill="#3a7498" fill-opacity="0.9"/>
<circle cx="363.00" cy="60.40" r="1.30" fill="#3a7498" fill-opacity="0.9"/>
<circle cx="374.60" cy="50.00" r="1.30" fill="#3a7498" fill-opacity="0.9"/>
<circle cx="396.40" cy="68.10" r="1.30" fill="#3a7498" fill-opacity="0.9"/>
<circle cx="388.00" cy="76.50" r="1.30" fill="#3a7498" fill-opacity="0.9"/>
<circle cx="407.80" cy="68.10" r="1.30" fill="#3a7498" fill-opacity="0.9"/>
<circle cx="400.30" cy="59.70" r="2.70" fill="#1f6aa8"/>
<circle cx="402.90" cy="70.70" r="2.70" fill="#c03a62"/>
<circle cx="420.10" cy="91.20" r="2.70" fill="#f2e000"/>
<circle cx="415.50" cy="88.50" r="1.20" fill="#efe060"/>
<circle cx="417.50" cy="94.50" r="1.20" fill="#efe060"/>
<line x1="349.20" y1="23.60" x2="349.20" y2="107.60" stroke="#2b2b2b" stroke-width="1.2"/>
<line x1="348.60" y1="107.00" x2="456.50" y2="107.00" stroke="#2b2b2b" stroke-width="1.2"/>
<line x1="350.40" y1="107.00" x2="350.40" y2="110.20" stroke="#231f20" stroke-width="1.0"/>
<text x="350.40" y="119.00" font-size="7.0" fill="#505050" text-anchor="middle" textLength="13.00" lengthAdjust="spacingAndGlyphs" stroke="#505050" stroke-width="0.15">-100</text>
<line x1="376.30" y1="107.00" x2="376.30" y2="110.20" stroke="#231f20" stroke-width="1.0"/>
<text x="376.30" y="119.00" font-size="7.0" fill="#505050" text-anchor="middle" textLength="9.60" lengthAdjust="spacingAndGlyphs" stroke="#505050" stroke-width="0.15">-50</text>
<line x1="402.30" y1="107.00" x2="402.30" y2="110.20" stroke="#231f20" stroke-width="1.0"/>
<text x="402.30" y="119.00" font-size="7.0" fill="#505050" text-anchor="middle" textLength="3.40" lengthAdjust="spacingAndGlyphs" stroke="#505050" stroke-width="0.15">0</text>
<line x1="428.40" y1="107.00" x2="428.40" y2="110.20" stroke="#231f20" stroke-width="1.0"/>
<text x="428.40" y="119.00" font-size="7.0" fill="#505050" text-anchor="middle" textLength="6.60" lengthAdjust="spacingAndGlyphs" stroke="#505050" stroke-width="0.15">50</text>
<line x1="454.60" y1="107.00" x2="454.60" y2="110.20" stroke="#231f20" stroke-width="1.0"/>
<text x="454.60" y="119.00" font-size="7.0" fill="#505050" text-anchor="middle" textLength="10.00" lengthAdjust="spacingAndGlyphs" stroke="#505050" stroke-width="0.15">100</text>
<line x1="345.80" y1="25.50" x2="349.20" y2="25.50" stroke="#231f20" stroke-width="1.0"/>
<text x="343.20" y="27.70" font-size="7.0" fill="#505050" text-anchor="end" textLength="6.60" lengthAdjust="spacingAndGlyphs" stroke="#505050" stroke-width="0.15">80</text>
<line x1="345.80" y1="46.40" x2="349.20" y2="46.40" stroke="#231f20" stroke-width="1.0"/>
<text x="343.20" y="48.60" font-size="7.0" fill="#505050" text-anchor="end" textLength="6.60" lengthAdjust="spacingAndGlyphs" stroke="#505050" stroke-width="0.15">40</text>
<line x1="345.80" y1="67.30" x2="349.20" y2="67.30" stroke="#231f20" stroke-width="1.0"/>
<text x="343.20" y="69.50" font-size="7.0" fill="#505050" text-anchor="end" textLength="3.40" lengthAdjust="spacingAndGlyphs" stroke="#505050" stroke-width="0.15">0</text>
<line x1="345.80" y1="88.20" x2="349.20" y2="88.20" stroke="#231f20" stroke-width="1.0"/>
<text x="343.20" y="90.40" font-size="7.0" fill="#505050" text-anchor="end" textLength="9.80" lengthAdjust="spacingAndGlyphs" stroke="#505050" stroke-width="0.15">-40</text>
<text x="402.90" y="131.60" font-size="8.8" fill="#3a3a3a" text-anchor="middle" textLength="42.00" lengthAdjust="spacingAndGlyphs" stroke="#3a3a3a" stroke-width="0.22">Dim1 (14.5%)</text>
<text x="327.20" y="64.60" font-size="8.8" fill="#3a3a3a" text-anchor="middle" textLength="39.60" lengthAdjust="spacingAndGlyphs" transform="rotate(-90 327.20 64.60)" stroke="#3a3a3a" stroke-width="0.22">Dim2 (8.6%)</text>
<rect x="463.60" y="48.10" width="8.80" height="9.20" fill="#fbe1e8" stroke="#e07890" stroke-width="0.8"/>
<circle cx="468.00" cy="52.70" r="2.30" fill="#b8385a"/>
<text x="475.60" y="55.10" font-size="7.2" fill="#333" text-anchor="start" textLength="30.70" lengthAdjust="spacingAndGlyphs">CIMP high</text>
<rect x="463.60" y="60.30" width="8.80" height="9.20" fill="#dcebf8" stroke="#5a96d0" stroke-width="0.8"/>
<circle cx="468.00" cy="64.90" r="2.30" fill="#1a68a3"/>
<text x="475.60" y="67.30" font-size="7.2" fill="#333" text-anchor="start" textLength="27.50" lengthAdjust="spacingAndGlyphs">CIMP low</text>
<rect x="463.60" y="72.30" width="8.80" height="9.20" fill="#fcf7d6" stroke="#f3ecaa" stroke-width="0.8"/>
<circle cx="468.00" cy="76.90" r="2.30" fill="#f2e000"/>
<text x="475.60" y="79.30" font-size="7.2" fill="#333" text-anchor="start" textLength="33.40" lengthAdjust="spacingAndGlyphs">Control cell</text>
<line x1="124.30" y1="163.50" x2="124.30" y2="279.10" stroke="#231f20" stroke-width="1.3"/>
<line x1="123.70" y1="278.50" x2="276.50" y2="278.50" stroke="#231f20" stroke-width="1.3"/>
<line x1="121.10" y1="191.90" x2="124.30" y2="191.90" stroke="#231f20" stroke-width="0.9"/>
<text x="118.00" y="194.20" font-size="6.5" fill="#444" text-anchor="end" textLength="12.60" lengthAdjust="spacingAndGlyphs">0.66</text>
<line x1="121.10" y1="220.60" x2="124.30" y2="220.60" stroke="#231f20" stroke-width="0.9"/>
<text x="118.00" y="222.90" font-size="6.5" fill="#444" text-anchor="end" textLength="12.60" lengthAdjust="spacingAndGlyphs">0.63</text>
<line x1="121.10" y1="249.30" x2="124.30" y2="249.30" stroke="#231f20" stroke-width="0.9"/>
<text x="118.00" y="251.60" font-size="6.5" fill="#444" text-anchor="end" textLength="12.60" lengthAdjust="spacingAndGlyphs">0.60</text>
<line x1="121.10" y1="278.00" x2="124.30" y2="278.00" stroke="#231f20" stroke-width="0.9"/>
<text x="118.00" y="280.30" font-size="6.5" fill="#444" text-anchor="end" textLength="12.60" lengthAdjust="spacingAndGlyphs">0.57</text>
<line x1="152.20" y1="278.00" x2="152.20" y2="281.00" stroke="#231f20" stroke-width="0.9"/>
<text x="152.20" y="289.40" font-size="7.2" fill="#333" text-anchor="middle" textLength="33.00" lengthAdjust="spacingAndGlyphs">Control cell</text>
<line x1="200.00" y1="278.00" x2="200.00" y2="281.00" stroke="#231f20" stroke-width="0.9"/>
<text x="200.00" y="289.40" font-size="7.2" fill="#333" text-anchor="middle" textLength="26.50" lengthAdjust="spacingAndGlyphs">CIMP low</text>
<line x1="248.00" y1="278.00" x2="248.00" y2="281.00" stroke="#231f20" stroke-width="0.9"/>
<text x="248.00" y="289.40" font-size="7.2" fill="#333" text-anchor="middle" textLength="29.50" lengthAdjust="spacingAndGlyphs">CIMP high</text>
<text x="100.20" y="220.20" font-size="7.0" fill="#333" text-anchor="middle" textLength="99.00" lengthAdjust="spacingAndGlyphs" transform="rotate(-90 100.20 220.20)">means β-values of 740067 CpGs</text>
<path d="M135.3,235.3 L169.8,235.3 L172.3,236.4 L174.8,241.6 L172.7,244.1 L132.2,244.1 L131.2,241.6 Z" fill="#f8da6a" stroke="#bda44a" stroke-width="0.6" stroke-linejoin="round"/>
<circle cx="143.00" cy="240.50" r="0.75" fill="#111"/>
<circle cx="152.50" cy="244.00" r="0.75" fill="#111"/>
<circle cx="162.00" cy="236.00" r="0.75" fill="#111"/>
<polygon points="198.40,210.30 197.60,214.40 196.20,221.60 195.40,228.70 195.00,237.40 195.20,246.00 196.00,254.60 197.00,263.20 198.40,270.40 199.90,273.30 200.50,273.30 202.00,270.40 203.40,263.20 204.40,254.60 205.20,246.00 205.40,237.40 205.00,228.70 204.20,221.60 202.80,214.40 202.00,210.30" fill="#8cc2ea" stroke="#4a86bd" stroke-width="0.6" stroke-linejoin="round"/>
<polygon points="246.30,168.70 245.30,176.50 244.00,186.80 242.60,197.10 242.00,205.40 243.30,213.60 244.70,221.90 245.80,230.10 246.80,238.40 247.40,242.50 247.40,259.00 246.60,261.00 246.40,262.50 247.50,264.10 248.10,264.10 249.20,262.50 249.00,261.00 248.20,259.00 248.20,242.50 248.80,238.40 249.80,230.10 250.90,221.90 252.30,213.60 253.60,205.40 253.00,197.10 251.60,186.80 250.30,176.50 249.30,168.70" fill="#f0a4ba" stroke="#b86f88" stroke-width="0.6" stroke-linejoin="round"/>
<circle cx="197.56" cy="210.78" r="0.82" fill="#111"/>
<circle cx="200.86" cy="210.34" r="0.82" fill="#111"/>
<circle cx="204.45" cy="210.06" r="0.82" fill="#111"/>
<circle cx="194.40" cy="215.52" r="0.82" fill="#111"/>
<circle cx="207.33" cy="218.39" r="0.82" fill="#111"/>
<circle cx="199.43" cy="218.68" r="0.82" fill="#111"/>
<circle cx="185.78" cy="225.86" r="0.82" fill="#111"/>
<circle cx="190.80" cy="225.14" r="0.82" fill="#111"/>
<circle cx="195.11" cy="225.57" r="0.82" fill="#111"/>
<circle cx="203.02" cy="225.57" r="0.82" fill="#111"/>
<circle cx="210.92" cy="225.57" r="0.82" fill="#111"/>
<circle cx="213.79" cy="226.29" r="0.82" fill="#111"/>
<circle cx="196.55" cy="228.45" r="0.82" fill="#111"/>
<circle cx="204.45" cy="228.74" r="0.82" fill="#111"/>
<circle cx="188.65" cy="231.90" r="0.82" fill="#111"/>
<circle cx="209.48" cy="232.76" r="0.82" fill="#111"/>
<circle cx="182.18" cy="234.48" r="0.82" fill="#111"/>
<circle cx="191.52" cy="234.48" r="0.82" fill="#111"/>
<circle cx="200.14" cy="234.77" r="0.82" fill="#111"/>
<circle cx="218.10" cy="234.77" r="0.82" fill="#111"/>
<circle cx="208.76" cy="235.92" r="0.82" fill="#111"/>
<circle cx="190.80" cy="238.51" r="0.82" fill="#111"/>
<circle cx="212.07" cy="238.79" r="0.82" fill="#111"/>
<circle cx="187.93" cy="241.95" r="0.82" fill="#111"/>
<circle cx="195.11" cy="240.52" r="0.82" fill="#111"/>
<circle cx="203.74" cy="240.95" r="0.82" fill="#111"/>
<circle cx="213.07" cy="242.82" r="0.82" fill="#111"/>
<circle cx="197.27" cy="243.82" r="0.82" fill="#111"/>
<circle cx="205.17" cy="245.98" r="0.82" fill="#111"/>
<circle cx="189.37" cy="246.26" r="0.82" fill="#111"/>
<circle cx="192.96" cy="247.41" r="0.82" fill="#111"/>
<circle cx="210.20" cy="247.41" r="0.82" fill="#111"/>
<circle cx="201.58" cy="249.57" r="0.82" fill="#111"/>
<circle cx="182.18" cy="251.01" r="0.82" fill="#111"/>
<circle cx="197.99" cy="251.01" r="0.82" fill="#111"/>
<circle cx="217.39" cy="251.01" r="0.82" fill="#111"/>
<circle cx="189.37" cy="252.44" r="0.82" fill="#111"/>
<circle cx="207.33" cy="252.44" r="0.82" fill="#111"/>
<circle cx="210.92" cy="253.16" r="0.82" fill="#111"/>
<circle cx="194.40" cy="253.88" r="0.82" fill="#111"/>
<circle cx="202.30" cy="254.60" r="0.82" fill="#111"/>
<circle cx="193.68" cy="261.49" r="0.82" fill="#111"/>
<circle cx="205.89" cy="262.07" r="0.82" fill="#111"/>
<circle cx="198.71" cy="264.37" r="0.82" fill="#111"/>
<circle cx="202.30" cy="266.09" r="0.82" fill="#111"/>
<circle cx="193.68" cy="267.53" r="0.82" fill="#111"/>
<circle cx="195.83" cy="270.40" r="0.82" fill="#111"/>
<circle cx="204.45" cy="269.68" r="0.82" fill="#111"/>
<circle cx="200.57" cy="272.99" r="0.82" fill="#111"/>
<circle cx="246.61" cy="169.67" r="0.82" fill="#111"/>
<circle cx="248.95" cy="169.09" r="0.82" fill="#111"/>
<circle cx="247.78" cy="173.18" r="0.82" fill="#111"/>
<circle cx="250.12" cy="174.35" r="0.82" fill="#111"/>
<circle cx="246.03" cy="176.68" r="0.82" fill="#111"/>
<circle cx="248.95" cy="178.43" r="0.82" fill="#111"/>
<circle cx="242.52" cy="180.19" r="0.82" fill="#111"/>
<circle cx="253.04" cy="181.36" r="0.82" fill="#111"/>
<circle cx="246.03" cy="182.52" r="0.82" fill="#111"/>
<circle cx="237.85" cy="186.61" r="0.82" fill="#111"/>
<circle cx="240.19" cy="186.26" r="0.82" fill="#111"/>
<circle cx="243.11" cy="186.61" r="0.82" fill="#111"/>
<circle cx="247.78" cy="186.61" r="0.82" fill="#111"/>
<circle cx="250.70" cy="186.03" r="0.82" fill="#111"/>
<circle cx="253.62" cy="186.03" r="0.82" fill="#111"/>
<circle cx="258.29" cy="188.36" r="0.82" fill="#111"/>
<circle cx="247.78" cy="188.95" r="0.82" fill="#111"/>
<circle cx="242.52" cy="191.87" r="0.82" fill="#111"/>
<circle cx="253.04" cy="191.64" r="0.82" fill="#111"/>
<circle cx="255.96" cy="193.04" r="0.82" fill="#111"/>
<circle cx="239.02" cy="195.14" r="0.82" fill="#111"/>
<circle cx="245.44" cy="194.21" r="0.82" fill="#111"/>
<circle cx="250.12" cy="194.21" r="0.82" fill="#111"/>
<circle cx="258.29" cy="195.96" r="0.82" fill="#111"/>
<circle cx="239.60" cy="198.88" r="0.82" fill="#111"/>
<circle cx="243.11" cy="199.46" r="0.82" fill="#111"/>
<circle cx="249.53" cy="200.05" r="0.82" fill="#111"/>
<circle cx="255.96" cy="198.88" r="0.82" fill="#111"/>
<circle cx="236.10" cy="200.63" r="0.82" fill="#111"/>
<circle cx="251.87" cy="197.71" r="0.82" fill="#111"/>
<circle cx="246.61" cy="204.14" r="0.82" fill="#111"/>
<circle cx="262.38" cy="202.97" r="0.82" fill="#111"/>
<circle cx="237.85" cy="204.72" r="0.82" fill="#111"/>
<circle cx="242.52" cy="205.30" r="0.82" fill="#111"/>
<circle cx="232.01" cy="205.89" r="0.82" fill="#111"/>
<circle cx="234.35" cy="206.47" r="0.82" fill="#111"/>
<circle cx="249.53" cy="205.89" r="0.82" fill="#111"/>
<circle cx="254.21" cy="205.89" r="0.82" fill="#111"/>
<circle cx="260.05" cy="205.30" r="0.82" fill="#111"/>
<circle cx="262.97" cy="205.89" r="0.82" fill="#111"/>
<circle cx="230.84" cy="208.81" r="0.82" fill="#111"/>
<circle cx="239.60" cy="208.22" r="0.82" fill="#111"/>
<circle cx="244.86" cy="208.81" r="0.82" fill="#111"/>
<circle cx="247.78" cy="209.16" r="0.82" fill="#111"/>
<circle cx="258.29" cy="206.82" r="0.82" fill="#111"/>
<circle cx="264.14" cy="209.39" r="0.82" fill="#111"/>
<circle cx="250.12" cy="209.98" r="0.82" fill="#111"/>
<circle cx="237.27" cy="212.90" r="0.82" fill="#111"/>
<circle cx="240.19" cy="211.73" r="0.82" fill="#111"/>
<circle cx="244.28" cy="212.90" r="0.82" fill="#111"/>
<circle cx="254.79" cy="211.14" r="0.82" fill="#111"/>
<circle cx="257.71" cy="212.31" r="0.82" fill="#111"/>
<circle cx="257.13" cy="215.23" r="0.82" fill="#111"/>
<circle cx="246.03" cy="215.23" r="0.82" fill="#111"/>
<circle cx="251.29" cy="218.15" r="0.82" fill="#111"/>
<circle cx="253.04" cy="218.74" r="0.82" fill="#111"/>
<circle cx="241.94" cy="218.74" r="0.82" fill="#111"/>
<circle cx="247.78" cy="219.91" r="0.82" fill="#111"/>
<circle cx="240.19" cy="224.00" r="0.82" fill="#111"/>
<circle cx="243.69" cy="225.75" r="0.82" fill="#111"/>
<circle cx="250.12" cy="222.24" r="0.82" fill="#111"/>
<circle cx="255.96" cy="224.58" r="0.82" fill="#111"/>
<circle cx="246.61" cy="228.67" r="0.82" fill="#111"/>
<circle cx="253.04" cy="228.08" r="0.82" fill="#111"/>
<circle cx="241.94" cy="229.02" r="0.82" fill="#111"/>
<circle cx="248.56" cy="221.44" r="0.82" fill="#111"/>
<circle cx="239.42" cy="224.04" r="0.82" fill="#111"/>
<circle cx="255.77" cy="224.33" r="0.82" fill="#111"/>
<circle cx="242.31" cy="226.54" r="0.82" fill="#111"/>
<circle cx="247.12" cy="224.33" r="0.82" fill="#111"/>
<circle cx="251.44" cy="225.29" r="0.82" fill="#111"/>
<circle cx="253.85" cy="227.21" r="0.82" fill="#111"/>
<circle cx="240.87" cy="230.10" r="0.82" fill="#111"/>
<circle cx="245.19" cy="229.42" r="0.82" fill="#111"/>
<circle cx="249.52" cy="229.62" r="0.82" fill="#111"/>
<circle cx="252.88" cy="232.31" r="0.82" fill="#111"/>
<circle cx="246.63" cy="232.50" r="0.82" fill="#111"/>
<circle cx="249.04" cy="234.42" r="0.82" fill="#111"/>
<circle cx="247.60" cy="242.12" r="0.82" fill="#111"/>
<circle cx="247.12" cy="262.31" r="0.82" fill="#111"/>
<circle cx="249.52" cy="261.83" r="0.82" fill="#111"/>
<circle cx="248.08" cy="264.42" r="0.82" fill="#111"/>
<line x1="312.30" y1="161.80" x2="312.30" y2="279.10" stroke="#231f20" stroke-width="1.3"/>
<line x1="311.70" y1="278.50" x2="432.00" y2="278.50" stroke="#231f20" stroke-width="1.3"/>
<line x1="309.20" y1="262.40" x2="312.30" y2="262.40" stroke="#231f20" stroke-width="0.9"/>
<text x="306.30" y="264.70" font-size="6.6" fill="#333" text-anchor="end" textLength="3.60" lengthAdjust="spacingAndGlyphs">0</text>
<line x1="309.20" y1="236.20" x2="312.30" y2="236.20" stroke="#231f20" stroke-width="0.9"/>
<text x="306.30" y="238.50" font-size="6.6" fill="#333" text-anchor="end" textLength="7.20" lengthAdjust="spacingAndGlyphs">10</text>
<line x1="309.20" y1="210.00" x2="312.30" y2="210.00" stroke="#231f20" stroke-width="0.9"/>
<text x="306.30" y="212.30" font-size="6.6" fill="#333" text-anchor="end" textLength="7.20" lengthAdjust="spacingAndGlyphs">20</text>
<line x1="309.20" y1="183.80" x2="312.30" y2="183.80" stroke="#231f20" stroke-width="0.9"/>
<text x="306.30" y="186.10" font-size="6.6" fill="#333" text-anchor="end" textLength="7.20" lengthAdjust="spacingAndGlyphs">30</text>
<line x1="344.80" y1="278.30" x2="344.80" y2="281.30" stroke="#231f20" stroke-width="0.9"/>
<text x="344.80" y="288.90" font-size="7.2" fill="#333" text-anchor="middle" textLength="26.50" lengthAdjust="spacingAndGlyphs">CIMP low</text>
<line x1="400.50" y1="278.30" x2="400.50" y2="281.30" stroke="#231f20" stroke-width="0.9"/>
<text x="400.50" y="288.90" font-size="7.2" fill="#333" text-anchor="middle" textLength="29.50" lengthAdjust="spacingAndGlyphs">CIMP high</text>
<defs><clipPath id="cbL"><polygon points="344.70,206.50 344.10,214.30 343.50,221.50 342.90,228.70 342.20,235.90 341.50,240.20 340.50,243.00 338.20,244.50 333.20,246.60 327.80,248.80 323.90,251.60 322.10,254.50 322.10,257.40 322.80,260.30 326.40,263.10 333.20,266.00 340.30,268.90 343.50,271.00 344.70,273.90 344.70,273.90 345.90,271.00 349.10,268.90 356.20,266.00 363.00,263.10 366.60,260.30 367.30,257.40 367.30,254.50 365.50,251.60 361.60,248.80 356.20,246.60 351.20,244.50 348.90,243.00 347.90,240.20 347.20,235.90 346.50,228.70 345.90,221.50 345.30,214.30 344.70,206.50"/></clipPath><clipPath id="cbH"><polygon points="399.60,164.30 399.30,168.00 399.20,172.00 398.70,175.20 399.20,178.00 399.20,186.00 398.50,189.50 399.10,192.00 399.15,200.00 398.80,204.00 398.20,207.00 397.70,211.00 397.90,214.00 398.40,217.00 398.10,219.30 397.20,221.50 396.00,223.70 393.50,226.50 392.00,229.40 391.30,233.80 390.40,239.50 389.10,243.80 387.70,248.20 387.00,251.80 387.70,255.40 389.90,258.30 392.70,261.20 396.60,264.00 398.40,266.90 399.30,270.50 399.60,272.00 399.60,272.00 399.90,270.50 400.80,266.90 402.60,264.00 406.50,261.20 409.30,258.30 411.50,255.40 412.20,251.80 411.50,248.20 410.10,243.80 408.80,239.50 407.90,233.80 407.20,229.40 405.70,226.50 403.20,223.70 402.00,221.50 401.10,219.30 400.80,217.00 401.30,214.00 401.50,211.00 401.00,207.00 400.40,204.00 400.05,200.00 400.10,192.00 400.70,189.50 400.00,186.00 400.00,178.00 400.50,175.20 400.00,172.00 399.90,168.00 399.60,164.30"/></clipPath></defs>
<line x1="312.30" y1="245.20" x2="432.00" y2="245.20" stroke="#a0a0a0" stroke-width="0.6"/>
<polygon points="344.70,206.50 344.10,214.30 343.50,221.50 342.90,228.70 342.20,235.90 341.50,240.20 340.50,243.00 338.20,244.50 333.20,246.60 327.80,248.80 323.90,251.60 322.10,254.50 322.10,257.40 322.80,260.30 326.40,263.10 333.20,266.00 340.30,268.90 343.50,271.00 344.70,273.90 344.70,273.90 345.90,271.00 349.10,268.90 356.20,266.00 363.00,263.10 366.60,260.30 367.30,257.40 367.30,254.50 365.50,251.60 361.60,248.80 356.20,246.60 351.20,244.50 348.90,243.00 347.90,240.20 347.20,235.90 346.50,228.70 345.90,221.50 345.30,214.30 344.70,206.50" fill="#000" stroke="#000" stroke-width="0.3" stroke-linejoin="round"/>
<polygon points="399.60,164.30 399.30,168.00 399.20,172.00 398.70,175.20 399.20,178.00 399.20,186.00 398.50,189.50 399.10,192.00 399.15,200.00 398.80,204.00 398.20,207.00 397.70,211.00 397.90,214.00 398.40,217.00 398.10,219.30 397.20,221.50 396.00,223.70 393.50,226.50 392.00,229.40 391.30,233.80 390.40,239.50 389.10,243.80 387.70,248.20 387.00,251.80 387.70,255.40 389.90,258.30 392.70,261.20 396.60,264.00 398.40,266.90 399.30,270.50 399.60,272.00 399.60,272.00 399.90,270.50 400.80,266.90 402.60,264.00 406.50,261.20 409.30,258.30 411.50,255.40 412.20,251.80 411.50,248.20 410.10,243.80 408.80,239.50 407.90,233.80 407.20,229.40 405.70,226.50 403.20,223.70 402.00,221.50 401.10,219.30 400.80,217.00 401.30,214.00 401.50,211.00 401.00,207.00 400.40,204.00 400.05,200.00 400.10,192.00 400.70,189.50 400.00,186.00 400.00,178.00 400.50,175.20 400.00,172.00 399.90,168.00 399.60,164.30" fill="#000" stroke="#000" stroke-width="0.3" stroke-linejoin="round"/>
<line x1="324.70" y1="262.40" x2="364.70" y2="262.40" stroke="#808080" stroke-width="0.5"/>
<line x1="318.70" y1="259.78" x2="370.70" y2="259.78" stroke="#808080" stroke-width="0.5"/>
<line x1="318.70" y1="257.16" x2="370.70" y2="257.16" stroke="#808080" stroke-width="0.5"/>
<line x1="318.70" y1="254.54" x2="370.70" y2="254.54" stroke="#808080" stroke-width="0.5"/>
<line x1="322.70" y1="251.92" x2="366.70" y2="251.92" stroke="#808080" stroke-width="0.5"/>
<line x1="326.70" y1="249.30" x2="362.70" y2="249.30" stroke="#808080" stroke-width="0.5"/>
<line x1="330.70" y1="246.68" x2="358.70" y2="246.68" stroke="#808080" stroke-width="0.5"/>
<line x1="338.70" y1="244.06" x2="350.70" y2="244.06" stroke="#808080" stroke-width="0.5"/>
<line x1="340.70" y1="241.44" x2="348.70" y2="241.44" stroke="#808080" stroke-width="0.5"/>
<line x1="341.70" y1="238.82" x2="347.70" y2="238.82" stroke="#808080" stroke-width="0.5"/>
<line x1="335.70" y1="236.20" x2="353.70" y2="236.20" stroke="#808080" stroke-width="0.5"/>
<line x1="341.70" y1="233.58" x2="347.70" y2="233.58" stroke="#808080" stroke-width="0.5"/>
<line x1="340.70" y1="230.96" x2="348.70" y2="230.96" stroke="#808080" stroke-width="0.5"/>
<line x1="335.70" y1="225.72" x2="353.70" y2="225.72" stroke="#808080" stroke-width="0.5"/>
<line x1="340.40" y1="217.86" x2="349.00" y2="217.86" stroke="#808080" stroke-width="0.5"/>
<g clip-path="url(#cbL)"><line x1="314.70" y1="262.40" x2="374.70" y2="262.40" stroke="#a8a8a8" stroke-width="0.4"/><line x1="314.70" y1="259.78" x2="374.70" y2="259.78" stroke="#a8a8a8" stroke-width="0.4"/><line x1="314.70" y1="257.16" x2="374.70" y2="257.16" stroke="#a8a8a8" stroke-width="0.4"/><line x1="314.70" y1="254.54" x2="374.70" y2="254.54" stroke="#a8a8a8" stroke-width="0.4"/><line x1="314.70" y1="251.92" x2="374.70" y2="251.92" stroke="#a8a8a8" stroke-width="0.4"/><line x1="314.70" y1="249.30" x2="374.70" y2="249.30" stroke="#a8a8a8" stroke-width="0.4"/><line x1="314.70" y1="246.68" x2="374.70" y2="246.68" stroke="#a8a8a8" stroke-width="0.4"/><line x1="314.70" y1="244.06" x2="374.70" y2="244.06" stroke="#a8a8a8" stroke-width="0.4"/><line x1="314.70" y1="241.44" x2="374.70" y2="241.44" stroke="#a8a8a8" stroke-width="0.4"/><line x1="314.70" y1="238.82" x2="374.70" y2="238.82" stroke="#a8a8a8" stroke-width="0.4"/><line x1="314.70" y1="236.20" x2="374.70" y2="236.20" stroke="#a8a8a8" stroke-width="0.4"/><line x1="314.70" y1="233.58" x2="374.70" y2="233.58" stroke="#a8a8a8" stroke-width="0.4"/><line x1="314.70" y1="230.96" x2="374.70" y2="230.96" stroke="#a8a8a8" stroke-width="0.4"/><line x1="314.70" y1="225.72" x2="374.70" y2="225.72" stroke="#a8a8a8" stroke-width="0.4"/><line x1="314.70" y1="217.86" x2="374.70" y2="217.86" stroke="#a8a8a8" stroke-width="0.4"/><line x1="314.70" y1="272.88" x2="374.70" y2="272.88" stroke="#a8a8a8" stroke-width="0.4"/><line x1="314.70" y1="270.26" x2="374.70" y2="270.26" stroke="#a8a8a8" stroke-width="0.4"/><line x1="314.70" y1="267.64" x2="374.70" y2="267.64" stroke="#a8a8a8" stroke-width="0.4"/><line x1="314.70" y1="265.02" x2="374.70" y2="265.02" stroke="#a8a8a8" stroke-width="0.4"/><line x1="314.70" y1="262.40" x2="374.70" y2="262.40" stroke="#a8a8a8" stroke-width="0.4"/><line x1="314.70" y1="259.78" x2="374.70" y2="259.78" stroke="#a8a8a8" stroke-width="0.4"/><line x1="314.70" y1="257.16" x2="374.70" y2="257.16" stroke="#a8a8a8" stroke-width="0.4"/><line x1="314.70" y1="254.54" x2="374.70" y2="254.54" stroke="#a8a8a8" stroke-width="0.4"/><line x1="314.70" y1="251.92" x2="374.70" y2="251.92" stroke="#a8a8a8" stroke-width="0.4"/><line x1="314.70" y1="249.30" x2="374.70" y2="249.30" stroke="#a8a8a8" stroke-width="0.4"/><line x1="314.70" y1="246.68" x2="374.70" y2="246.68" stroke="#a8a8a8" stroke-width="0.4"/><line x1="314.70" y1="244.06" x2="374.70" y2="244.06" stroke="#a8a8a8" stroke-width="0.4"/><line x1="314.70" y1="241.44" x2="374.70" y2="241.44" stroke="#a8a8a8" stroke-width="0.4"/></g>
<line x1="382.60" y1="259.78" x2="416.60" y2="259.78" stroke="#808080" stroke-width="0.5"/>
<line x1="382.60" y1="257.16" x2="416.60" y2="257.16" stroke="#808080" stroke-width="0.5"/>
<line x1="372.90" y1="254.54" x2="426.30" y2="254.54" stroke="#808080" stroke-width="0.5"/>
<line x1="372.90" y1="251.92" x2="426.30" y2="251.92" stroke="#808080" stroke-width="0.5"/>
<line x1="372.90" y1="249.30" x2="426.30" y2="249.30" stroke="#808080" stroke-width="0.5"/>
<line x1="372.90" y1="246.68" x2="426.30" y2="246.68" stroke="#808080" stroke-width="0.5"/>
<line x1="383.00" y1="244.06" x2="416.20" y2="244.06" stroke="#808080" stroke-width="0.5"/>
<line x1="380.60" y1="238.82" x2="418.60" y2="238.82" stroke="#808080" stroke-width="0.5"/>
<line x1="377.60" y1="236.20" x2="421.60" y2="236.20" stroke="#808080" stroke-width="0.5"/>
<line x1="382.60" y1="233.58" x2="416.60" y2="233.58" stroke="#808080" stroke-width="0.5"/>
<line x1="372.90" y1="230.96" x2="426.30" y2="230.96" stroke="#808080" stroke-width="0.5"/>
<line x1="386.60" y1="228.34" x2="412.60" y2="228.34" stroke="#808080" stroke-width="0.5"/>
<line x1="395.60" y1="217.86" x2="403.60" y2="217.86" stroke="#808080" stroke-width="0.5"/>
<line x1="395.60" y1="215.24" x2="403.60" y2="215.24" stroke="#808080" stroke-width="0.5"/>
<line x1="390.90" y1="212.62" x2="408.30" y2="212.62" stroke="#808080" stroke-width="0.5"/>
<line x1="395.60" y1="191.66" x2="403.60" y2="191.66" stroke="#808080" stroke-width="0.5"/>
<line x1="395.60" y1="189.04" x2="403.60" y2="189.04" stroke="#808080" stroke-width="0.5"/>
<line x1="395.50" y1="175.94" x2="403.70" y2="175.94" stroke="#808080" stroke-width="0.5"/>
<g clip-path="url(#cbH)"><line x1="369.60" y1="259.78" x2="429.60" y2="259.78" stroke="#a8a8a8" stroke-width="0.4"/><line x1="369.60" y1="257.16" x2="429.60" y2="257.16" stroke="#a8a8a8" stroke-width="0.4"/><line x1="369.60" y1="254.54" x2="429.60" y2="254.54" stroke="#a8a8a8" stroke-width="0.4"/><line x1="369.60" y1="251.92" x2="429.60" y2="251.92" stroke="#a8a8a8" stroke-width="0.4"/><line x1="369.60" y1="249.30" x2="429.60" y2="249.30" stroke="#a8a8a8" stroke-width="0.4"/><line x1="369.60" y1="246.68" x2="429.60" y2="246.68" stroke="#a8a8a8" stroke-width="0.4"/><line x1="369.60" y1="244.06" x2="429.60" y2="244.06" stroke="#a8a8a8" stroke-width="0.4"/><line x1="369.60" y1="238.82" x2="429.60" y2="238.82" stroke="#a8a8a8" stroke-width="0.4"/><line x1="369.60" y1="236.20" x2="429.60" y2="236.20" stroke="#a8a8a8" stroke-width="0.4"/><line x1="369.60" y1="233.58" x2="429.60" y2="233.58" stroke="#a8a8a8" stroke-width="0.4"/><line x1="369.60" y1="230.96" x2="429.60" y2="230.96" stroke="#a8a8a8" stroke-width="0.4"/><line x1="369.60" y1="228.34" x2="429.60" y2="228.34" stroke="#a8a8a8" stroke-width="0.4"/><line x1="369.60" y1="217.86" x2="429.60" y2="217.86" stroke="#a8a8a8" stroke-width="0.4"/><line x1="369.60" y1="215.24" x2="429.60" y2="215.24" stroke="#a8a8a8" stroke-width="0.4"/><line x1="369.60" y1="212.62" x2="429.60" y2="212.62" stroke="#a8a8a8" stroke-width="0.4"/><line x1="369.60" y1="191.66" x2="429.60" y2="191.66" stroke="#a8a8a8" stroke-width="0.4"/><line x1="369.60" y1="189.04" x2="429.60" y2="189.04" stroke="#a8a8a8" stroke-width="0.4"/><line x1="369.60" y1="175.94" x2="429.60" y2="175.94" stroke="#a8a8a8" stroke-width="0.4"/><line x1="369.60" y1="272.88" x2="429.60" y2="272.88" stroke="#a8a8a8" stroke-width="0.4"/><line x1="369.60" y1="270.26" x2="429.60" y2="270.26" stroke="#a8a8a8" stroke-width="0.4"/><line x1="369.60" y1="267.64" x2="429.60" y2="267.64" stroke="#a8a8a8" stroke-width="0.4"/><line x1="369.60" y1="265.02" x2="429.60" y2="265.02" stroke="#a8a8a8" stroke-width="0.4"/><line x1="369.60" y1="262.40" x2="429.60" y2="262.40" stroke="#a8a8a8" stroke-width="0.4"/><line x1="369.60" y1="259.78" x2="429.60" y2="259.78" stroke="#a8a8a8" stroke-width="0.4"/><line x1="369.60" y1="257.16" x2="429.60" y2="257.16" stroke="#a8a8a8" stroke-width="0.4"/><line x1="369.60" y1="254.54" x2="429.60" y2="254.54" stroke="#a8a8a8" stroke-width="0.4"/><line x1="369.60" y1="251.92" x2="429.60" y2="251.92" stroke="#a8a8a8" stroke-width="0.4"/><line x1="369.60" y1="249.30" x2="429.60" y2="249.30" stroke="#a8a8a8" stroke-width="0.4"/><line x1="369.60" y1="246.68" x2="429.60" y2="246.68" stroke="#a8a8a8" stroke-width="0.4"/><line x1="369.60" y1="244.06" x2="429.60" y2="244.06" stroke="#a8a8a8" stroke-width="0.4"/><line x1="369.60" y1="241.44" x2="429.60" y2="241.44" stroke="#a8a8a8" stroke-width="0.4"/><line x1="369.60" y1="238.82" x2="429.60" y2="238.82" stroke="#a8a8a8" stroke-width="0.4"/><line x1="369.60" y1="236.20" x2="429.60" y2="236.20" stroke="#a8a8a8" stroke-width="0.4"/><line x1="369.60" y1="233.58" x2="429.60" y2="233.58" stroke="#a8a8a8" stroke-width="0.4"/><line x1="369.60" y1="230.96" x2="429.60" y2="230.96" stroke="#a8a8a8" stroke-width="0.4"/><line x1="369.60" y1="228.34" x2="429.60" y2="228.34" stroke="#a8a8a8" stroke-width="0.4"/></g>
<line x1="317.20" y1="251.40" x2="372.30" y2="251.40" stroke="#151515" stroke-width="1.0"/>
<line x1="372.20" y1="241.50" x2="428.50" y2="241.50" stroke="#151515" stroke-width="1.0"/>
<rect x="14.20" y="330.20" width="372.60" height="11.20" fill="#c6ecf2"/>
<rect x="14.20" y="322.20" width="372.60" height="8.10" fill="#1a8db4"/>
<rect x="21.10" y="322.20" width="3.45" height="8.10" fill="#d0281a"/>
<rect x="45.25" y="322.20" width="10.35" height="8.10" fill="#d0281a"/>
<rect x="62.50" y="322.20" width="3.45" height="8.10" fill="#d0281a"/>
<rect x="114.25" y="322.20" width="6.90" height="8.10" fill="#d0281a"/>
<rect x="138.40" y="322.20" width="3.45" height="8.10" fill="#d0281a"/>
<rect x="159.10" y="322.20" width="3.45" height="8.10" fill="#d0281a"/>
<rect x="224.65" y="322.20" width="3.45" height="8.10" fill="#d0281a"/>
<rect x="245.35" y="322.20" width="3.45" height="8.10" fill="#d0281a"/>
<rect x="373.00" y="322.20" width="3.45" height="8.10" fill="#d0281a"/>
<rect x="31.45" y="322.20" width="3.45" height="8.10" fill="#55952e"/>
<rect x="55.60" y="322.20" width="3.45" height="8.10" fill="#55952e"/>
<rect x="65.95" y="322.20" width="3.45" height="8.10" fill="#55952e"/>
<rect x="128.05" y="322.20" width="3.45" height="8.10" fill="#55952e"/>
<rect x="193.60" y="322.20" width="3.45" height="8.10" fill="#55952e"/>
<rect x="266.05" y="322.20" width="6.90" height="8.10" fill="#55952e"/>
<rect x="307.45" y="322.20" width="3.45" height="8.10" fill="#55952e"/>
<rect x="76.30" y="322.20" width="3.45" height="8.10" fill="#b9a6b2"/>
<rect x="14.20" y="331.60" width="372.60" height="8.50" fill="#35b6c6"/>
<rect x="21.10" y="331.60" width="3.45" height="8.50" fill="#e490c8"/>
<rect x="31.45" y="331.60" width="3.45" height="8.50" fill="#e490c8"/>
<rect x="45.25" y="331.60" width="6.90" height="8.50" fill="#e490c8"/>
<rect x="55.60" y="331.60" width="3.45" height="8.50" fill="#e490c8"/>
<rect x="65.95" y="331.60" width="3.45" height="8.50" fill="#e490c8"/>
<rect x="76.30" y="331.60" width="3.45" height="8.50" fill="#e490c8"/>
<rect x="128.05" y="331.60" width="3.45" height="8.50" fill="#e490c8"/>
<rect x="138.40" y="331.60" width="3.45" height="8.50" fill="#e490c8"/>
<rect x="193.60" y="331.60" width="3.45" height="8.50" fill="#e490c8"/>
<rect x="266.05" y="331.60" width="6.90" height="8.50" fill="#e490c8"/>
<rect x="307.45" y="331.60" width="3.45" height="8.50" fill="#e490c8"/>
<rect x="373.00" y="331.60" width="3.45" height="8.50" fill="#e490c8"/>
<rect x="14.20" y="341.30" width="148.35" height="7.50" fill="#1a72a8"/>
<rect x="162.55" y="341.30" width="224.25" height="7.50" fill="#c8102e"/>
<path fill="#d6d6d6" d="M14.70 357.90h2.35v5.2h-2.35zM25.05 357.90h2.35v5.2h-2.35zM28.50 357.90h2.35v5.2h-2.35zM31.95 357.90h2.35v5.2h-2.35zM35.40 357.90h2.35v5.2h-2.35zM38.85 357.90h2.35v5.2h-2.35zM42.30 357.90h2.35v5.2h-2.35zM45.75 357.90h2.35v5.2h-2.35zM63.00 357.90h2.35v5.2h-2.35zM69.90 357.90h2.35v5.2h-2.35zM83.70 357.90h2.35v5.2h-2.35zM87.15 357.90h2.35v5.2h-2.35zM90.60 357.90h2.35v5.2h-2.35zM94.05 357.90h2.35v5.2h-2.35zM107.85 357.90h2.35v5.2h-2.35zM111.30 357.90h2.35v5.2h-2.35zM118.20 357.90h2.35v5.2h-2.35zM121.65 357.90h2.35v5.2h-2.35zM138.90 357.90h2.35v5.2h-2.35zM145.80 357.90h2.35v5.2h-2.35zM149.25 357.90h2.35v5.2h-2.35zM152.70 357.90h2.35v5.2h-2.35zM156.15 357.90h2.35v5.2h-2.35zM159.60 357.90h2.35v5.2h-2.35zM166.50 357.90h2.35v5.2h-2.35zM169.95 357.90h2.35v5.2h-2.35zM173.40 357.90h2.35v5.2h-2.35zM176.85 357.90h2.35v5.2h-2.35zM180.30 357.90h2.35v5.2h-2.35zM183.75 357.90h2.35v5.2h-2.35zM187.20 357.90h2.35v5.2h-2.35zM190.65 357.90h2.35v5.2h-2.35zM194.10 357.90h2.35v5.2h-2.35zM197.55 357.90h2.35v5.2h-2.35zM201.00 357.90h2.35v5.2h-2.35zM204.45 357.90h2.35v5.2h-2.35zM207.90 357.90h2.35v5.2h-2.35zM211.35 357.90h2.35v5.2h-2.35zM214.80 357.90h2.35v5.2h-2.35zM218.25 357.90h2.35v5.2h-2.35zM221.70 357.90h2.35v5.2h-2.35zM225.15 357.90h2.35v5.2h-2.35zM228.60 357.90h2.35v5.2h-2.35zM232.05 357.90h2.35v5.2h-2.35zM235.50 357.90h2.35v5.2h-2.35zM238.95 357.90h2.35v5.2h-2.35zM242.40 357.90h2.35v5.2h-2.35zM245.85 357.90h2.35v5.2h-2.35zM249.30 357.90h2.35v5.2h-2.35zM252.75 357.90h2.35v5.2h-2.35zM256.20 357.90h2.35v5.2h-2.35zM259.65 357.90h2.35v5.2h-2.35zM263.10 357.90h2.35v5.2h-2.35zM266.55 357.90h2.35v5.2h-2.35zM270.00 357.90h2.35v5.2h-2.35zM273.45 357.90h2.35v5.2h-2.35zM276.90 357.90h2.35v5.2h-2.35zM280.35 357.90h2.35v5.2h-2.35zM283.80 357.90h2.35v5.2h-2.35zM287.25 357.90h2.35v5.2h-2.35zM290.70 357.90h2.35v5.2h-2.35zM294.15 357.90h2.35v5.2h-2.35zM297.60 357.90h2.35v5.2h-2.35zM301.05 357.90h2.35v5.2h-2.35zM304.50 357.90h2.35v5.2h-2.35zM307.95 357.90h2.35v5.2h-2.35zM311.40 357.90h2.35v5.2h-2.35zM314.85 357.90h2.35v5.2h-2.35zM318.30 357.90h2.35v5.2h-2.35zM321.75 357.90h2.35v5.2h-2.35zM325.20 357.90h2.35v5.2h-2.35zM328.65 357.90h2.35v5.2h-2.35zM332.10 357.90h2.35v5.2h-2.35zM335.55 357.90h2.35v5.2h-2.35zM339.00 357.90h2.35v5.2h-2.35zM342.45 357.90h2.35v5.2h-2.35zM345.90 357.90h2.35v5.2h-2.35zM349.35 357.90h2.35v5.2h-2.35zM352.80 357.90h2.35v5.2h-2.35zM356.25 357.90h2.35v5.2h-2.35zM359.70 357.90h2.35v5.2h-2.35zM363.15 357.90h2.35v5.2h-2.35zM366.60 357.90h2.35v5.2h-2.35zM370.05 357.90h2.35v5.2h-2.35zM373.50 357.90h2.35v5.2h-2.35zM376.95 357.90h2.35v5.2h-2.35zM380.40 357.90h2.35v5.2h-2.35zM14.70 364.31h2.35v5.2h-2.35zM18.15 364.31h2.35v5.2h-2.35zM21.60 364.31h2.35v5.2h-2.35zM25.05 364.31h2.35v5.2h-2.35zM28.50 364.31h2.35v5.2h-2.35zM31.95 364.31h2.35v5.2h-2.35zM35.40 364.31h2.35v5.2h-2.35zM38.85 364.31h2.35v5.2h-2.35zM42.30 364.31h2.35v5.2h-2.35zM45.75 364.31h2.35v5.2h-2.35zM49.20 364.31h2.35v5.2h-2.35zM52.65 364.31h2.35v5.2h-2.35zM56.10 364.31h2.35v5.2h-2.35zM59.55 364.31h2.35v5.2h-2.35zM63.00 364.31h2.35v5.2h-2.35zM66.45 364.31h2.35v5.2h-2.35zM69.90 364.31h2.35v5.2h-2.35zM73.35 364.31h2.35v5.2h-2.35zM76.80 364.31h2.35v5.2h-2.35zM80.25 364.31h2.35v5.2h-2.35zM83.70 364.31h2.35v5.2h-2.35zM87.15 364.31h2.35v5.2h-2.35zM94.05 364.31h2.35v5.2h-2.35zM97.50 364.31h2.35v5.2h-2.35zM100.95 364.31h2.35v5.2h-2.35zM104.40 364.31h2.35v5.2h-2.35zM107.85 364.31h2.35v5.2h-2.35zM111.30 364.31h2.35v5.2h-2.35zM114.75 364.31h2.35v5.2h-2.35zM118.20 364.31h2.35v5.2h-2.35zM121.65 364.31h2.35v5.2h-2.35zM125.10 364.31h2.35v5.2h-2.35zM128.55 364.31h2.35v5.2h-2.35zM132.00 364.31h2.35v5.2h-2.35zM135.45 364.31h2.35v5.2h-2.35zM138.90 364.31h2.35v5.2h-2.35zM142.35 364.31h2.35v5.2h-2.35zM145.80 364.31h2.35v5.2h-2.35zM149.25 364.31h2.35v5.2h-2.35zM152.70 364.31h2.35v5.2h-2.35zM156.15 364.31h2.35v5.2h-2.35zM159.60 364.31h2.35v5.2h-2.35zM163.05 364.31h2.35v5.2h-2.35zM166.50 364.31h2.35v5.2h-2.35zM169.95 364.31h2.35v5.2h-2.35zM173.40 364.31h2.35v5.2h-2.35zM176.85 364.31h2.35v5.2h-2.35zM180.30 364.31h2.35v5.2h-2.35zM183.75 364.31h2.35v5.2h-2.35zM187.20 364.31h2.35v5.2h-2.35zM190.65 364.31h2.35v5.2h-2.35zM194.10 364.31h2.35v5.2h-2.35zM197.55 364.31h2.35v5.2h-2.35zM201.00 364.31h2.35v5.2h-2.35zM204.45 364.31h2.35v5.2h-2.35zM207.90 364.31h2.35v5.2h-2.35zM211.35 364.31h2.35v5.2h-2.35zM214.80 364.31h2.35v5.2h-2.35zM218.25 364.31h2.35v5.2h-2.35zM221.70 364.31h2.35v5.2h-2.35zM225.15 364.31h2.35v5.2h-2.35zM228.60 364.31h2.35v5.2h-2.35zM232.05 364.31h2.35v5.2h-2.35zM235.50 364.31h2.35v5.2h-2.35zM238.95 364.31h2.35v5.2h-2.35zM242.40 364.31h2.35v5.2h-2.35zM245.85 364.31h2.35v5.2h-2.35zM249.30 364.31h2.35v5.2h-2.35zM252.75 364.31h2.35v5.2h-2.35zM256.20 364.31h2.35v5.2h-2.35zM259.65 364.31h2.35v5.2h-2.35zM263.10 364.31h2.35v5.2h-2.35zM266.55 364.31h2.35v5.2h-2.35zM270.00 364.31h2.35v5.2h-2.35zM273.45 364.31h2.35v5.2h-2.35zM276.90 364.31h2.35v5.2h-2.35zM280.35 364.31h2.35v5.2h-2.35zM283.80 364.31h2.35v5.2h-2.35zM287.25 364.31h2.35v5.2h-2.35zM290.70 364.31h2.35v5.2h-2.35zM294.15 364.31h2.35v5.2h-2.35zM297.60 364.31h2.35v5.2h-2.35zM301.05 364.31h2.35v5.2h-2.35zM304.50 364.31h2.35v5.2h-2.35zM307.95 364.31h2.35v5.2h-2.35zM311.40 364.31h2.35v5.2h-2.35zM314.85 364.31h2.35v5.2h-2.35zM318.30 364.31h2.35v5.2h-2.35zM321.75 364.31h2.35v5.2h-2.35zM325.20 364.31h2.35v5.2h-2.35zM328.65 364.31h2.35v5.2h-2.35zM332.10 364.31h2.35v5.2h-2.35zM335.55 364.31h2.35v5.2h-2.35zM339.00 364.31h2.35v5.2h-2.35zM342.45 364.31h2.35v5.2h-2.35zM345.90 364.31h2.35v5.2h-2.35zM349.35 364.31h2.35v5.2h-2.35zM352.80 364.31h2.35v5.2h-2.35zM356.25 364.31h2.35v5.2h-2.35zM359.70 364.31h2.35v5.2h-2.35zM363.15 364.31h2.35v5.2h-2.35zM366.60 364.31h2.35v5.2h-2.35zM370.05 364.31h2.35v5.2h-2.35zM373.50 364.31h2.35v5.2h-2.35zM376.95 364.31h2.35v5.2h-2.35zM380.40 364.31h2.35v5.2h-2.35zM383.85 364.31h2.35v5.2h-2.35zM14.70 370.72h2.35v5.2h-2.35zM18.15 370.72h2.35v5.2h-2.35zM21.60 370.72h2.35v5.2h-2.35zM25.05 370.72h2.35v5.2h-2.35zM28.50 370.72h2.35v5.2h-2.35zM31.95 370.72h2.35v5.2h-2.35zM35.40 370.72h2.35v5.2h-2.35zM38.85 370.72h2.35v5.2h-2.35zM42.30 370.72h2.35v5.2h-2.35zM45.75 370.72h2.35v5.2h-2.35zM49.20 370.72h2.35v5.2h-2.35zM52.65 370.72h2.35v5.2h-2.35zM56.10 370.72h2.35v5.2h-2.35zM59.55 370.72h2.35v5.2h-2.35zM63.00 370.72h2.35v5.2h-2.35zM66.45 370.72h2.35v5.2h-2.35zM69.90 370.72h2.35v5.2h-2.35zM73.35 370.72h2.35v5.2h-2.35zM76.80 370.72h2.35v5.2h-2.35zM80.25 370.72h2.35v5.2h-2.35zM83.70 370.72h2.35v5.2h-2.35zM87.15 370.72h2.35v5.2h-2.35zM90.60 370.72h2.35v5.2h-2.35zM94.05 370.72h2.35v5.2h-2.35zM97.50 370.72h2.35v5.2h-2.35zM100.95 370.72h2.35v5.2h-2.35zM104.40 370.72h2.35v5.2h-2.35zM107.85 370.72h2.35v5.2h-2.35zM111.30 370.72h2.35v5.2h-2.35zM114.75 370.72h2.35v5.2h-2.35zM118.20 370.72h2.35v5.2h-2.35zM121.65 370.72h2.35v5.2h-2.35zM125.10 370.72h2.35v5.2h-2.35zM128.55 370.72h2.35v5.2h-2.35zM135.45 370.72h2.35v5.2h-2.35zM138.90 370.72h2.35v5.2h-2.35zM142.35 370.72h2.35v5.2h-2.35zM145.80 370.72h2.35v5.2h-2.35zM149.25 370.72h2.35v5.2h-2.35zM152.70 370.72h2.35v5.2h-2.35zM156.15 370.72h2.35v5.2h-2.35zM159.60 370.72h2.35v5.2h-2.35zM163.05 370.72h2.35v5.2h-2.35zM166.50 370.72h2.35v5.2h-2.35zM169.95 370.72h2.35v5.2h-2.35zM173.40 370.72h2.35v5.2h-2.35zM176.85 370.72h2.35v5.2h-2.35zM180.30 370.72h2.35v5.2h-2.35zM183.75 370.72h2.35v5.2h-2.35zM187.20 370.72h2.35v5.2h-2.35zM190.65 370.72h2.35v5.2h-2.35zM194.10 370.72h2.35v5.2h-2.35zM197.55 370.72h2.35v5.2h-2.35zM201.00 370.72h2.35v5.2h-2.35zM204.45 370.72h2.35v5.2h-2.35zM207.90 370.72h2.35v5.2h-2.35zM211.35 370.72h2.35v5.2h-2.35zM214.80 370.72h2.35v5.2h-2.35zM218.25 370.72h2.35v5.2h-2.35zM221.70 370.72h2.35v5.2h-2.35zM225.15 370.72h2.35v5.2h-2.35zM228.60 370.72h2.35v5.2h-2.35zM232.05 370.72h2.35v5.2h-2.35zM235.50 370.72h2.35v5.2h-2.35zM238.95 370.72h2.35v5.2h-2.35zM242.40 370.72h2.35v5.2h-2.35zM245.85 370.72h2.35v5.2h-2.35zM249.30 370.72h2.35v5.2h-2.35zM252.75 370.72h2.35v5.2h-2.35zM256.20 370.72h2.35v5.2h-2.35zM259.65 370.72h2.35v5.2h-2.35zM263.10 370.72h2.35v5.2h-2.35zM266.55 370.72h2.35v5.2h-2.35zM270.00 370.72h2.35v5.2h-2.35zM273.45 370.72h2.35v5.2h-2.35zM276.90 370.72h2.35v5.2h-2.35zM280.35 370.72h2.35v5.2h-2.35zM283.80 370.72h2.35v5.2h-2.35zM287.25 370.72h2.35v5.2h-2.35zM290.70 370.72h2.35v5.2h-2.35zM294.15 370.72h2.35v5.2h-2.35zM297.60 370.72h2.35v5.2h-2.35zM301.05 370.72h2.35v5.2h-2.35zM304.50 370.72h2.35v5.2h-2.35zM307.95 370.72h2.35v5.2h-2.35zM311.40 370.72h2.35v5.2h-2.35zM314.85 370.72h2.35v5.2h-2.35zM318.30 370.72h2.35v5.2h-2.35zM321.75 370.72h2.35v5.2h-2.35zM325.20 370.72h2.35v5.2h-2.35zM328.65 370.72h2.35v5.2h-2.35zM332.10 370.72h2.35v5.2h-2.35zM335.55 370.72h2.35v5.2h-2.35zM339.00 370.72h2.35v5.2h-2.35zM342.45 370.72h2.35v5.2h-2.35zM345.90 370.72h2.35v5.2h-2.35zM349.35 370.72h2.35v5.2h-2.35zM352.80 370.72h2.35v5.2h-2.35zM356.25 370.72h2.35v5.2h-2.35zM359.70 370.72h2.35v5.2h-2.35zM363.15 370.72h2.35v5.2h-2.35zM366.60 370.72h2.35v5.2h-2.35zM370.05 370.72h2.35v5.2h-2.35zM373.50 370.72h2.35v5.2h-2.35zM376.95 370.72h2.35v5.2h-2.35zM380.40 370.72h2.35v5.2h-2.35zM383.85 370.72h2.35v5.2h-2.35zM14.70 377.13h2.35v5.2h-2.35zM21.60 377.13h2.35v5.2h-2.35zM25.05 377.13h2.35v5.2h-2.35zM28.50 377.13h2.35v5.2h-2.35zM31.95 377.13h2.35v5.2h-2.35zM35.40 377.13h2.35v5.2h-2.35zM38.85 377.13h2.35v5.2h-2.35zM42.30 377.13h2.35v5.2h-2.35zM45.75 377.13h2.35v5.2h-2.35zM49.20 377.13h2.35v5.2h-2.35zM52.65 377.13h2.35v5.2h-2.35zM56.10 377.13h2.35v5.2h-2.35zM59.55 377.13h2.35v5.2h-2.35zM63.00 377.13h2.35v5.2h-2.35zM66.45 377.13h2.35v5.2h-2.35zM73.35 377.13h2.35v5.2h-2.35zM76.80 377.13h2.35v5.2h-2.35zM80.25 377.13h2.35v5.2h-2.35zM83.70 377.13h2.35v5.2h-2.35zM87.15 377.13h2.35v5.2h-2.35zM90.60 377.13h2.35v5.2h-2.35zM94.05 377.13h2.35v5.2h-2.35zM97.50 377.13h2.35v5.2h-2.35zM100.95 377.13h2.35v5.2h-2.35zM104.40 377.13h2.35v5.2h-2.35zM107.85 377.13h2.35v5.2h-2.35zM114.75 377.13h2.35v5.2h-2.35zM121.65 377.13h2.35v5.2h-2.35zM125.10 377.13h2.35v5.2h-2.35zM128.55 377.13h2.35v5.2h-2.35zM132.00 377.13h2.35v5.2h-2.35zM135.45 377.13h2.35v5.2h-2.35zM138.90 377.13h2.35v5.2h-2.35zM142.35 377.13h2.35v5.2h-2.35zM145.80 377.13h2.35v5.2h-2.35zM149.25 377.13h2.35v5.2h-2.35zM152.70 377.13h2.35v5.2h-2.35zM156.15 377.13h2.35v5.2h-2.35zM159.60 377.13h2.35v5.2h-2.35zM163.05 377.13h2.35v5.2h-2.35zM166.50 377.13h2.35v5.2h-2.35zM169.95 377.13h2.35v5.2h-2.35zM173.40 377.13h2.35v5.2h-2.35zM176.85 377.13h2.35v5.2h-2.35zM180.30 377.13h2.35v5.2h-2.35zM183.75 377.13h2.35v5.2h-2.35zM187.20 377.13h2.35v5.2h-2.35zM194.10 377.13h2.35v5.2h-2.35zM197.55 377.13h2.35v5.2h-2.35zM201.00 377.13h2.35v5.2h-2.35zM204.45 377.13h2.35v5.2h-2.35zM207.90 377.13h2.35v5.2h-2.35zM211.35 377.13h2.35v5.2h-2.35zM214.80 377.13h2.35v5.2h-2.35zM218.25 377.13h2.35v5.2h-2.35zM221.70 377.13h2.35v5.2h-2.35zM225.15 377.13h2.35v5.2h-2.35zM228.60 377.13h2.35v5.2h-2.35zM232.05 377.13h2.35v5.2h-2.35zM235.50 377.13h2.35v5.2h-2.35zM238.95 377.13h2.35v5.2h-2.35zM242.40 377.13h2.35v5.2h-2.35zM245.85 377.13h2.35v5.2h-2.35zM249.30 377.13h2.35v5.2h-2.35zM252.75 377.13h2.35v5.2h-2.35zM256.20 377.13h2.35v5.2h-2.35zM259.65 377.13h2.35v5.2h-2.35zM263.10 377.13h2.35v5.2h-2.35zM266.55 377.13h2.35v5.2h-2.35zM270.00 377.13h2.35v5.2h-2.35zM273.45 377.13h2.35v5.2h-2.35zM276.90 377.13h2.35v5.2h-2.35zM280.35 377.13h2.35v5.2h-2.35zM283.80 377.13h2.35v5.2h-2.35zM287.25 377.13h2.35v5.2h-2.35zM290.70 377.13h2.35v5.2h-2.35zM294.15 377.13h2.35v5.2h-2.35zM297.60 377.13h2.35v5.2h-2.35zM301.05 377.13h2.35v5.2h-2.35zM304.50 377.13h2.35v5.2h-2.35zM307.95 377.13h2.35v5.2h-2.35zM311.40 377.13h2.35v5.2h-2.35zM314.85 377.13h2.35v5.2h-2.35zM318.30 377.13h2.35v5.2h-2.35zM321.75 377.13h2.35v5.2h-2.35zM325.20 377.13h2.35v5.2h-2.35zM328.65 377.13h2.35v5.2h-2.35zM332.10 377.13h2.35v5.2h-2.35zM335.55 377.13h2.35v5.2h-2.35zM339.00 377.13h2.35v5.2h-2.35zM342.45 377.13h2.35v5.2h-2.35zM345.90 377.13h2.35v5.2h-2.35zM349.35 377.13h2.35v5.2h-2.35zM352.80 377.13h2.35v5.2h-2.35zM356.25 377.13h2.35v5.2h-2.35zM359.70 377.13h2.35v5.2h-2.35zM363.15 377.13h2.35v5.2h-2.35zM366.60 377.13h2.35v5.2h-2.35zM370.05 377.13h2.35v5.2h-2.35zM373.50 377.13h2.35v5.2h-2.35zM376.95 377.13h2.35v5.2h-2.35zM380.40 377.13h2.35v5.2h-2.35zM383.85 377.13h2.35v5.2h-2.35zM14.70 383.54h2.35v5.2h-2.35zM18.15 383.54h2.35v5.2h-2.35zM21.60 383.54h2.35v5.2h-2.35zM25.05 383.54h2.35v5.2h-2.35zM28.50 383.54h2.35v5.2h-2.35zM31.95 383.54h2.35v5.2h-2.35zM35.40 383.54h2.35v5.2h-2.35zM38.85 383.54h2.35v5.2h-2.35zM42.30 383.54h2.35v5.2h-2.35zM45.75 383.54h2.35v5.2h-2.35zM49.20 383.54h2.35v5.2h-2.35zM52.65 383.54h2.35v5.2h-2.35zM56.10 383.54h2.35v5.2h-2.35zM59.55 383.54h2.35v5.2h-2.35zM63.00 383.54h2.35v5.2h-2.35zM66.45 383.54h2.35v5.2h-2.35zM69.90 383.54h2.35v5.2h-2.35zM76.80 383.54h2.35v5.2h-2.35zM80.25 383.54h2.35v5.2h-2.35zM83.70 383.54h2.35v5.2h-2.35zM87.15 383.54h2.35v5.2h-2.35zM90.60 383.54h2.35v5.2h-2.35zM94.05 383.54h2.35v5.2h-2.35zM97.50 383.54h2.35v5.2h-2.35zM100.95 383.54h2.35v5.2h-2.35zM104.40 383.54h2.35v5.2h-2.35zM107.85 383.54h2.35v5.2h-2.35zM111.30 383.54h2.35v5.2h-2.35zM114.75 383.54h2.35v5.2h-2.35zM118.20 383.54h2.35v5.2h-2.35zM121.65 383.54h2.35v5.2h-2.35zM125.10 383.54h2.35v5.2h-2.35zM128.55 383.54h2.35v5.2h-2.35zM132.00 383.54h2.35v5.2h-2.35zM135.45 383.54h2.35v5.2h-2.35zM138.90 383.54h2.35v5.2h-2.35zM142.35 383.54h2.35v5.2h-2.35zM145.80 383.54h2.35v5.2h-2.35zM149.25 383.54h2.35v5.2h-2.35zM152.70 383.54h2.35v5.2h-2.35zM156.15 383.54h2.35v5.2h-2.35zM159.60 383.54h2.35v5.2h-2.35zM163.05 383.54h2.35v5.2h-2.35zM166.50 383.54h2.35v5.2h-2.35zM169.95 383.54h2.35v5.2h-2.35zM173.40 383.54h2.35v5.2h-2.35zM176.85 383.54h2.35v5.2h-2.35zM180.30 383.54h2.35v5.2h-2.35zM183.75 383.54h2.35v5.2h-2.35zM187.20 383.54h2.35v5.2h-2.35zM190.65 383.54h2.35v5.2h-2.35zM194.10 383.54h2.35v5.2h-2.35zM197.55 383.54h2.35v5.2h-2.35zM201.00 383.54h2.35v5.2h-2.35zM204.45 383.54h2.35v5.2h-2.35zM207.90 383.54h2.35v5.2h-2.35zM211.35 383.54h2.35v5.2h-2.35zM214.80 383.54h2.35v5.2h-2.35zM218.25 383.54h2.35v5.2h-2.35zM221.70 383.54h2.35v5.2h-2.35zM225.15 383.54h2.35v5.2h-2.35zM228.60 383.54h2.35v5.2h-2.35zM232.05 383.54h2.35v5.2h-2.35zM235.50 383.54h2.35v5.2h-2.35zM238.95 383.54h2.35v5.2h-2.35zM242.40 383.54h2.35v5.2h-2.35zM245.85 383.54h2.35v5.2h-2.35zM249.30 383.54h2.35v5.2h-2.35zM252.75 383.54h2.35v5.2h-2.35zM256.20 383.54h2.35v5.2h-2.35zM259.65 383.54h2.35v5.2h-2.35zM263.10 383.54h2.35v5.2h-2.35zM266.55 383.54h2.35v5.2h-2.35zM270.00 383.54h2.35v5.2h-2.35zM273.45 383.54h2.35v5.2h-2.35zM276.90 383.54h2.35v5.2h-2.35zM280.35 383.54h2.35v5.2h-2.35zM283.80 383.54h2.35v5.2h-2.35zM287.25 383.54h2.35v5.2h-2.35zM290.70 383.54h2.35v5.2h-2.35zM294.15 383.54h2.35v5.2h-2.35zM297.60 383.54h2.35v5.2h-2.35zM301.05 383.54h2.35v5.2h-2.35zM304.50 383.54h2.35v5.2h-2.35zM307.95 383.54h2.35v5.2h-2.35zM311.40 383.54h2.35v5.2h-2.35zM314.85 383.54h2.35v5.2h-2.35zM318.30 383.54h2.35v5.2h-2.35zM321.75 383.54h2.35v5.2h-2.35zM328.65 383.54h2.35v5.2h-2.35zM332.10 383.54h2.35v5.2h-2.35zM335.55 383.54h2.35v5.2h-2.35zM339.00 383.54h2.35v5.2h-2.35zM342.45 383.54h2.35v5.2h-2.35zM345.90 383.54h2.35v5.2h-2.35zM349.35 383.54h2.35v5.2h-2.35zM352.80 383.54h2.35v5.2h-2.35zM356.25 383.54h2.35v5.2h-2.35zM359.70 383.54h2.35v5.2h-2.35zM363.15 383.54h2.35v5.2h-2.35zM366.60 383.54h2.35v5.2h-2.35zM370.05 383.54h2.35v5.2h-2.35zM373.50 383.54h2.35v5.2h-2.35zM376.95 383.54h2.35v5.2h-2.35zM380.40 383.54h2.35v5.2h-2.35zM383.85 383.54h2.35v5.2h-2.35zM14.70 389.95h2.35v5.2h-2.35zM18.15 389.95h2.35v5.2h-2.35zM21.60 389.95h2.35v5.2h-2.35zM25.05 389.95h2.35v5.2h-2.35zM28.50 389.95h2.35v5.2h-2.35zM31.95 389.95h2.35v5.2h-2.35zM35.40 389.95h2.35v5.2h-2.35zM38.85 389.95h2.35v5.2h-2.35zM42.30 389.95h2.35v5.2h-2.35zM45.75 389.95h2.35v5.2h-2.35zM49.20 389.95h2.35v5.2h-2.35zM52.65 389.95h2.35v5.2h-2.35zM56.10 389.95h2.35v5.2h-2.35zM63.00 389.95h2.35v5.2h-2.35zM66.45 389.95h2.35v5.2h-2.35zM73.35 389.95h2.35v5.2h-2.35zM76.80 389.95h2.35v5.2h-2.35zM80.25 389.95h2.35v5.2h-2.35zM83.70 389.95h2.35v5.2h-2.35zM87.15 389.95h2.35v5.2h-2.35zM90.60 389.95h2.35v5.2h-2.35zM94.05 389.95h2.35v5.2h-2.35zM97.50 389.95h2.35v5.2h-2.35zM100.95 389.95h2.35v5.2h-2.35zM104.40 389.95h2.35v5.2h-2.35zM107.85 389.95h2.35v5.2h-2.35zM111.30 389.95h2.35v5.2h-2.35zM114.75 389.95h2.35v5.2h-2.35zM118.20 389.95h2.35v5.2h-2.35zM121.65 389.95h2.35v5.2h-2.35zM125.10 389.95h2.35v5.2h-2.35zM128.55 389.95h2.35v5.2h-2.35zM132.00 389.95h2.35v5.2h-2.35zM135.45 389.95h2.35v5.2h-2.35zM138.90 389.95h2.35v5.2h-2.35zM142.35 389.95h2.35v5.2h-2.35zM145.80 389.95h2.35v5.2h-2.35zM149.25 389.95h2.35v5.2h-2.35zM152.70 389.95h2.35v5.2h-2.35zM156.15 389.95h2.35v5.2h-2.35zM159.60 389.95h2.35v5.2h-2.35zM163.05 389.95h2.35v5.2h-2.35zM166.50 389.95h2.35v5.2h-2.35zM169.95 389.95h2.35v5.2h-2.35zM173.40 389.95h2.35v5.2h-2.35zM176.85 389.95h2.35v5.2h-2.35zM180.30 389.95h2.35v5.2h-2.35zM183.75 389.95h2.35v5.2h-2.35zM187.20 389.95h2.35v5.2h-2.35zM190.65 389.95h2.35v5.2h-2.35zM194.10 389.95h2.35v5.2h-2.35zM197.55 389.95h2.35v5.2h-2.35zM201.00 389.95h2.35v5.2h-2.35zM204.45 389.95h2.35v5.2h-2.35zM207.90 389.95h2.35v5.2h-2.35zM211.35 389.95h2.35v5.2h-2.35zM214.80 389.95h2.35v5.2h-2.35zM218.25 389.95h2.35v5.2h-2.35zM221.70 389.95h2.35v5.2h-2.35zM225.15 389.95h2.35v5.2h-2.35zM228.60 389.95h2.35v5.2h-2.35zM232.05 389.95h2.35v5.2h-2.35zM235.50 389.95h2.35v5.2h-2.35zM238.95 389.95h2.35v5.2h-2.35zM242.40 389.95h2.35v5.2h-2.35zM245.85 389.95h2.35v5.2h-2.35zM252.75 389.95h2.35v5.2h-2.35zM256.20 389.95h2.35v5.2h-2.35zM259.65 389.95h2.35v5.2h-2.35zM263.10 389.95h2.35v5.2h-2.35zM266.55 389.95h2.35v5.2h-2.35zM270.00 389.95h2.35v5.2h-2.35zM273.45 389.95h2.35v5.2h-2.35zM276.90 389.95h2.35v5.2h-2.35zM280.35 389.95h2.35v5.2h-2.35zM283.80 389.95h2.35v5.2h-2.35zM287.25 389.95h2.35v5.2h-2.35zM290.70 389.95h2.35v5.2h-2.35zM297.60 389.95h2.35v5.2h-2.35zM301.05 389.95h2.35v5.2h-2.35zM304.50 389.95h2.35v5.2h-2.35zM307.95 389.95h2.35v5.2h-2.35zM311.40 389.95h2.35v5.2h-2.35zM314.85 389.95h2.35v5.2h-2.35zM318.30 389.95h2.35v5.2h-2.35zM321.75 389.95h2.35v5.2h-2.35zM325.20 389.95h2.35v5.2h-2.35zM328.65 389.95h2.35v5.2h-2.35zM332.10 389.95h2.35v5.2h-2.35zM335.55 389.95h2.35v5.2h-2.35zM339.00 389.95h2.35v5.2h-2.35zM342.45 389.95h2.35v5.2h-2.35zM345.90 389.95h2.35v5.2h-2.35zM349.35 389.95h2.35v5.2h-2.35zM352.80 389.95h2.35v5.2h-2.35zM356.25 389.95h2.35v5.2h-2.35zM359.70 389.95h2.35v5.2h-2.35zM363.15 389.95h2.35v5.2h-2.35zM366.60 389.95h2.35v5.2h-2.35zM370.05 389.95h2.35v5.2h-2.35zM373.50 389.95h2.35v5.2h-2.35zM376.95 389.95h2.35v5.2h-2.35zM380.40 389.95h2.35v5.2h-2.35zM383.85 389.95h2.35v5.2h-2.35zM14.70 396.36h2.35v5.2h-2.35zM18.15 396.36h2.35v5.2h-2.35zM21.60 396.36h2.35v5.2h-2.35zM25.05 396.36h2.35v5.2h-2.35zM28.50 396.36h2.35v5.2h-2.35zM31.95 396.36h2.35v5.2h-2.35zM35.40 396.36h2.35v5.2h-2.35zM38.85 396.36h2.35v5.2h-2.35zM42.30 396.36h2.35v5.2h-2.35zM45.75 396.36h2.35v5.2h-2.35zM49.20 396.36h2.35v5.2h-2.35zM52.65 396.36h2.35v5.2h-2.35zM63.00 396.36h2.35v5.2h-2.35zM66.45 396.36h2.35v5.2h-2.35zM73.35 396.36h2.35v5.2h-2.35zM76.80 396.36h2.35v5.2h-2.35zM80.25 396.36h2.35v5.2h-2.35zM83.70 396.36h2.35v5.2h-2.35zM87.15 396.36h2.35v5.2h-2.35zM90.60 396.36h2.35v5.2h-2.35zM94.05 396.36h2.35v5.2h-2.35zM97.50 396.36h2.35v5.2h-2.35zM100.95 396.36h2.35v5.2h-2.35zM104.40 396.36h2.35v5.2h-2.35zM107.85 396.36h2.35v5.2h-2.35zM111.30 396.36h2.35v5.2h-2.35zM114.75 396.36h2.35v5.2h-2.35zM118.20 396.36h2.35v5.2h-2.35zM121.65 396.36h2.35v5.2h-2.35zM125.10 396.36h2.35v5.2h-2.35zM128.55 396.36h2.35v5.2h-2.35zM132.00 396.36h2.35v5.2h-2.35zM135.45 396.36h2.35v5.2h-2.35zM138.90 396.36h2.35v5.2h-2.35zM142.35 396.36h2.35v5.2h-2.35zM145.80 396.36h2.35v5.2h-2.35zM149.25 396.36h2.35v5.2h-2.35zM152.70 396.36h2.35v5.2h-2.35zM156.15 396.36h2.35v5.2h-2.35zM159.60 396.36h2.35v5.2h-2.35zM163.05 396.36h2.35v5.2h-2.35zM166.50 396.36h2.35v5.2h-2.35zM169.95 396.36h2.35v5.2h-2.35zM173.40 396.36h2.35v5.2h-2.35zM176.85 396.36h2.35v5.2h-2.35zM180.30 396.36h2.35v5.2h-2.35zM183.75 396.36h2.35v5.2h-2.35zM187.20 396.36h2.35v5.2h-2.35zM190.65 396.36h2.35v5.2h-2.35zM194.10 396.36h2.35v5.2h-2.35zM201.00 396.36h2.35v5.2h-2.35zM204.45 396.36h2.35v5.2h-2.35zM207.90 396.36h2.35v5.2h-2.35zM211.35 396.36h2.35v5.2h-2.35zM214.80 396.36h2.35v5.2h-2.35zM218.25 396.36h2.35v5.2h-2.35zM221.70 396.36h2.35v5.2h-2.35zM225.15 396.36h2.35v5.2h-2.35zM228.60 396.36h2.35v5.2h-2.35zM232.05 396.36h2.35v5.2h-2.35zM235.50 396.36h2.35v5.2h-2.35zM238.95 396.36h2.35v5.2h-2.35zM242.40 396.36h2.35v5.2h-2.35zM245.85 396.36h2.35v5.2h-2.35zM252.75 396.36h2.35v5.2h-2.35zM256.20 396.36h2.35v5.2h-2.35zM259.65 396.36h2.35v5.2h-2.35zM263.10 396.36h2.35v5.2h-2.35zM266.55 396.36h2.35v5.2h-2.35zM270.00 396.36h2.35v5.2h-2.35zM273.45 396.36h2.35v5.2h-2.35zM276.90 396.36h2.35v5.2h-2.35zM280.35 396.36h2.35v5.2h-2.35zM283.80 396.36h2.35v5.2h-2.35zM287.25 396.36h2.35v5.2h-2.35zM290.70 396.36h2.35v5.2h-2.35zM297.60 396.36h2.35v5.2h-2.35zM301.05 396.36h2.35v5.2h-2.35zM304.50 396.36h2.35v5.2h-2.35zM307.95 396.36h2.35v5.2h-2.35zM311.40 396.36h2.35v5.2h-2.35zM314.85 396.36h2.35v5.2h-2.35zM318.30 396.36h2.35v5.2h-2.35zM321.75 396.36h2.35v5.2h-2.35zM325.20 396.36h2.35v5.2h-2.35zM328.65 396.36h2.35v5.2h-2.35zM332.10 396.36h2.35v5.2h-2.35zM335.55 396.36h2.35v5.2h-2.35zM339.00 396.36h2.35v5.2h-2.35zM342.45 396.36h2.35v5.2h-2.35zM345.90 396.36h2.35v5.2h-2.35zM349.35 396.36h2.35v5.2h-2.35zM352.80 396.36h2.35v5.2h-2.35zM356.25 396.36h2.35v5.2h-2.35zM359.70 396.36h2.35v5.2h-2.35zM363.15 396.36h2.35v5.2h-2.35zM366.60 396.36h2.35v5.2h-2.35zM370.05 396.36h2.35v5.2h-2.35zM373.50 396.36h2.35v5.2h-2.35zM376.95 396.36h2.35v5.2h-2.35zM380.40 396.36h2.35v5.2h-2.35zM383.85 396.36h2.35v5.2h-2.35zM14.70 402.77h2.35v5.2h-2.35zM21.60 402.77h2.35v5.2h-2.35zM28.50 402.77h2.35v5.2h-2.35zM31.95 402.77h2.35v5.2h-2.35zM35.40 402.77h2.35v5.2h-2.35zM45.75 402.77h2.35v5.2h-2.35zM49.20 402.77h2.35v5.2h-2.35zM59.55 402.77h2.35v5.2h-2.35zM63.00 402.77h2.35v5.2h-2.35zM66.45 402.77h2.35v5.2h-2.35zM69.90 402.77h2.35v5.2h-2.35zM73.35 402.77h2.35v5.2h-2.35zM76.80 402.77h2.35v5.2h-2.35zM90.60 402.77h2.35v5.2h-2.35zM94.05 402.77h2.35v5.2h-2.35zM104.40 402.77h2.35v5.2h-2.35zM107.85 402.77h2.35v5.2h-2.35zM111.30 402.77h2.35v5.2h-2.35zM114.75 402.77h2.35v5.2h-2.35zM121.65 402.77h2.35v5.2h-2.35zM125.10 402.77h2.35v5.2h-2.35zM128.55 402.77h2.35v5.2h-2.35zM135.45 402.77h2.35v5.2h-2.35zM138.90 402.77h2.35v5.2h-2.35zM149.25 402.77h2.35v5.2h-2.35zM152.70 402.77h2.35v5.2h-2.35zM159.60 402.77h2.35v5.2h-2.35zM163.05 402.77h2.35v5.2h-2.35zM166.50 402.77h2.35v5.2h-2.35zM173.40 402.77h2.35v5.2h-2.35zM176.85 402.77h2.35v5.2h-2.35zM180.30 402.77h2.35v5.2h-2.35zM183.75 402.77h2.35v5.2h-2.35zM187.20 402.77h2.35v5.2h-2.35zM194.10 402.77h2.35v5.2h-2.35zM197.55 402.77h2.35v5.2h-2.35zM201.00 402.77h2.35v5.2h-2.35zM204.45 402.77h2.35v5.2h-2.35zM207.90 402.77h2.35v5.2h-2.35zM211.35 402.77h2.35v5.2h-2.35zM214.80 402.77h2.35v5.2h-2.35zM218.25 402.77h2.35v5.2h-2.35zM221.70 402.77h2.35v5.2h-2.35zM228.60 402.77h2.35v5.2h-2.35zM232.05 402.77h2.35v5.2h-2.35zM235.50 402.77h2.35v5.2h-2.35zM238.95 402.77h2.35v5.2h-2.35zM242.40 402.77h2.35v5.2h-2.35zM245.85 402.77h2.35v5.2h-2.35zM249.30 402.77h2.35v5.2h-2.35zM252.75 402.77h2.35v5.2h-2.35zM256.20 402.77h2.35v5.2h-2.35zM263.10 402.77h2.35v5.2h-2.35zM266.55 402.77h2.35v5.2h-2.35zM273.45 402.77h2.35v5.2h-2.35zM276.90 402.77h2.35v5.2h-2.35zM280.35 402.77h2.35v5.2h-2.35zM283.80 402.77h2.35v5.2h-2.35zM287.25 402.77h2.35v5.2h-2.35zM290.70 402.77h2.35v5.2h-2.35zM294.15 402.77h2.35v5.2h-2.35zM297.60 402.77h2.35v5.2h-2.35zM301.05 402.77h2.35v5.2h-2.35zM304.50 402.77h2.35v5.2h-2.35zM311.40 402.77h2.35v5.2h-2.35zM314.85 402.77h2.35v5.2h-2.35zM318.30 402.77h2.35v5.2h-2.35zM321.75 402.77h2.35v5.2h-2.35zM332.10 402.77h2.35v5.2h-2.35zM335.55 402.77h2.35v5.2h-2.35zM339.00 402.77h2.35v5.2h-2.35zM342.45 402.77h2.35v5.2h-2.35zM349.35 402.77h2.35v5.2h-2.35zM352.80 402.77h2.35v5.2h-2.35zM356.25 402.77h2.35v5.2h-2.35zM359.70 402.77h2.35v5.2h-2.35zM363.15 402.77h2.35v5.2h-2.35zM366.60 402.77h2.35v5.2h-2.35zM370.05 402.77h2.35v5.2h-2.35zM373.50 402.77h2.35v5.2h-2.35zM376.95 402.77h2.35v5.2h-2.35zM380.40 402.77h2.35v5.2h-2.35zM383.85 402.77h2.35v5.2h-2.35zM14.70 409.18h2.35v5.2h-2.35zM18.15 409.18h2.35v5.2h-2.35zM21.60 409.18h2.35v5.2h-2.35zM25.05 409.18h2.35v5.2h-2.35zM28.50 409.18h2.35v5.2h-2.35zM31.95 409.18h2.35v5.2h-2.35zM35.40 409.18h2.35v5.2h-2.35zM38.85 409.18h2.35v5.2h-2.35zM42.30 409.18h2.35v5.2h-2.35zM45.75 409.18h2.35v5.2h-2.35zM49.20 409.18h2.35v5.2h-2.35zM52.65 409.18h2.35v5.2h-2.35zM56.10 409.18h2.35v5.2h-2.35zM59.55 409.18h2.35v5.2h-2.35zM63.00 409.18h2.35v5.2h-2.35zM66.45 409.18h2.35v5.2h-2.35zM69.90 409.18h2.35v5.2h-2.35zM73.35 409.18h2.35v5.2h-2.35zM76.80 409.18h2.35v5.2h-2.35zM80.25 409.18h2.35v5.2h-2.35zM83.70 409.18h2.35v5.2h-2.35zM87.15 409.18h2.35v5.2h-2.35zM90.60 409.18h2.35v5.2h-2.35zM94.05 409.18h2.35v5.2h-2.35zM97.50 409.18h2.35v5.2h-2.35zM100.95 409.18h2.35v5.2h-2.35zM104.40 409.18h2.35v5.2h-2.35zM107.85 409.18h2.35v5.2h-2.35zM111.30 409.18h2.35v5.2h-2.35zM114.75 409.18h2.35v5.2h-2.35zM118.20 409.18h2.35v5.2h-2.35zM121.65 409.18h2.35v5.2h-2.35zM125.10 409.18h2.35v5.2h-2.35zM128.55 409.18h2.35v5.2h-2.35zM132.00 409.18h2.35v5.2h-2.35zM135.45 409.18h2.35v5.2h-2.35zM138.90 409.18h2.35v5.2h-2.35zM142.35 409.18h2.35v5.2h-2.35zM145.80 409.18h2.35v5.2h-2.35zM149.25 409.18h2.35v5.2h-2.35zM152.70 409.18h2.35v5.2h-2.35zM159.60 409.18h2.35v5.2h-2.35zM163.05 409.18h2.35v5.2h-2.35zM166.50 409.18h2.35v5.2h-2.35zM169.95 409.18h2.35v5.2h-2.35zM173.40 409.18h2.35v5.2h-2.35zM176.85 409.18h2.35v5.2h-2.35zM180.30 409.18h2.35v5.2h-2.35zM183.75 409.18h2.35v5.2h-2.35zM187.20 409.18h2.35v5.2h-2.35zM190.65 409.18h2.35v5.2h-2.35zM194.10 409.18h2.35v5.2h-2.35zM197.55 409.18h2.35v5.2h-2.35zM201.00 409.18h2.35v5.2h-2.35zM204.45 409.18h2.35v5.2h-2.35zM207.90 409.18h2.35v5.2h-2.35zM211.35 409.18h2.35v5.2h-2.35zM214.80 409.18h2.35v5.2h-2.35zM218.25 409.18h2.35v5.2h-2.35zM221.70 409.18h2.35v5.2h-2.35zM225.15 409.18h2.35v5.2h-2.35zM228.60 409.18h2.35v5.2h-2.35zM232.05 409.18h2.35v5.2h-2.35zM235.50 409.18h2.35v5.2h-2.35zM238.95 409.18h2.35v5.2h-2.35zM245.85 409.18h2.35v5.2h-2.35zM249.30 409.18h2.35v5.2h-2.35zM252.75 409.18h2.35v5.2h-2.35zM256.20 409.18h2.35v5.2h-2.35zM259.65 409.18h2.35v5.2h-2.35zM263.10 409.18h2.35v5.2h-2.35zM266.55 409.18h2.35v5.2h-2.35zM270.00 409.18h2.35v5.2h-2.35zM273.45 409.18h2.35v5.2h-2.35zM276.90 409.18h2.35v5.2h-2.35zM280.35 409.18h2.35v5.2h-2.35zM283.80 409.18h2.35v5.2h-2.35zM287.25 409.18h2.35v5.2h-2.35zM290.70 409.18h2.35v5.2h-2.35zM294.15 409.18h2.35v5.2h-2.35zM297.60 409.18h2.35v5.2h-2.35zM301.05 409.18h2.35v5.2h-2.35zM304.50 409.18h2.35v5.2h-2.35zM307.95 409.18h2.35v5.2h-2.35zM311.40 409.18h2.35v5.2h-2.35zM314.85 409.18h2.35v5.2h-2.35zM318.30 409.18h2.35v5.2h-2.35zM321.75 409.18h2.35v5.2h-2.35zM328.65 409.18h2.35v5.2h-2.35zM332.10 409.18h2.35v5.2h-2.35zM335.55 409.18h2.35v5.2h-2.35zM339.00 409.18h2.35v5.2h-2.35zM342.45 409.18h2.35v5.2h-2.35zM345.90 409.18h2.35v5.2h-2.35zM349.35 409.18h2.35v5.2h-2.35zM352.80 409.18h2.35v5.2h-2.35zM356.25 409.18h2.35v5.2h-2.35zM359.70 409.18h2.35v5.2h-2.35zM363.15 409.18h2.35v5.2h-2.35zM366.60 409.18h2.35v5.2h-2.35zM370.05 409.18h2.35v5.2h-2.35zM373.50 409.18h2.35v5.2h-2.35zM376.95 409.18h2.35v5.2h-2.35zM380.40 409.18h2.35v5.2h-2.35zM383.85 409.18h2.35v5.2h-2.35zM14.70 415.59h2.35v5.2h-2.35zM18.15 415.59h2.35v5.2h-2.35zM21.60 415.59h2.35v5.2h-2.35zM25.05 415.59h2.35v5.2h-2.35zM28.50 415.59h2.35v5.2h-2.35zM31.95 415.59h2.35v5.2h-2.35zM35.40 415.59h2.35v5.2h-2.35zM38.85 415.59h2.35v5.2h-2.35zM45.75 415.59h2.35v5.2h-2.35zM49.20 415.59h2.35v5.2h-2.35zM52.65 415.59h2.35v5.2h-2.35zM59.55 415.59h2.35v5.2h-2.35zM63.00 415.59h2.35v5.2h-2.35zM66.45 415.59h2.35v5.2h-2.35zM69.90 415.59h2.35v5.2h-2.35zM73.35 415.59h2.35v5.2h-2.35zM76.80 415.59h2.35v5.2h-2.35zM83.70 415.59h2.35v5.2h-2.35zM87.15 415.59h2.35v5.2h-2.35zM90.60 415.59h2.35v5.2h-2.35zM97.50 415.59h2.35v5.2h-2.35zM100.95 415.59h2.35v5.2h-2.35zM104.40 415.59h2.35v5.2h-2.35zM107.85 415.59h2.35v5.2h-2.35zM111.30 415.59h2.35v5.2h-2.35zM114.75 415.59h2.35v5.2h-2.35zM118.20 415.59h2.35v5.2h-2.35zM121.65 415.59h2.35v5.2h-2.35zM125.10 415.59h2.35v5.2h-2.35zM128.55 415.59h2.35v5.2h-2.35zM132.00 415.59h2.35v5.2h-2.35zM138.90 415.59h2.35v5.2h-2.35zM142.35 415.59h2.35v5.2h-2.35zM145.80 415.59h2.35v5.2h-2.35zM149.25 415.59h2.35v5.2h-2.35zM152.70 415.59h2.35v5.2h-2.35zM156.15 415.59h2.35v5.2h-2.35zM159.60 415.59h2.35v5.2h-2.35zM163.05 415.59h2.35v5.2h-2.35zM166.50 415.59h2.35v5.2h-2.35zM169.95 415.59h2.35v5.2h-2.35zM173.40 415.59h2.35v5.2h-2.35zM176.85 415.59h2.35v5.2h-2.35zM180.30 415.59h2.35v5.2h-2.35zM183.75 415.59h2.35v5.2h-2.35zM190.65 415.59h2.35v5.2h-2.35zM197.55 415.59h2.35v5.2h-2.35zM204.45 415.59h2.35v5.2h-2.35zM207.90 415.59h2.35v5.2h-2.35zM211.35 415.59h2.35v5.2h-2.35zM214.80 415.59h2.35v5.2h-2.35zM221.70 415.59h2.35v5.2h-2.35zM225.15 415.59h2.35v5.2h-2.35zM228.60 415.59h2.35v5.2h-2.35zM232.05 415.59h2.35v5.2h-2.35zM235.50 415.59h2.35v5.2h-2.35zM238.95 415.59h2.35v5.2h-2.35zM242.40 415.59h2.35v5.2h-2.35zM245.85 415.59h2.35v5.2h-2.35zM249.30 415.59h2.35v5.2h-2.35zM252.75 415.59h2.35v5.2h-2.35zM256.20 415.59h2.35v5.2h-2.35zM259.65 415.59h2.35v5.2h-2.35zM263.10 415.59h2.35v5.2h-2.35zM266.55 415.59h2.35v5.2h-2.35zM270.00 415.59h2.35v5.2h-2.35zM273.45 415.59h2.35v5.2h-2.35zM276.90 415.59h2.35v5.2h-2.35zM280.35 415.59h2.35v5.2h-2.35zM283.80 415.59h2.35v5.2h-2.35zM287.25 415.59h2.35v5.2h-2.35zM290.70 415.59h2.35v5.2h-2.35zM294.15 415.59h2.35v5.2h-2.35zM297.60 415.59h2.35v5.2h-2.35zM301.05 415.59h2.35v5.2h-2.35zM304.50 415.59h2.35v5.2h-2.35zM307.95 415.59h2.35v5.2h-2.35zM311.40 415.59h2.35v5.2h-2.35zM314.85 415.59h2.35v5.2h-2.35zM321.75 415.59h2.35v5.2h-2.35zM325.20 415.59h2.35v5.2h-2.35zM328.65 415.59h2.35v5.2h-2.35zM332.10 415.59h2.35v5.2h-2.35zM339.00 415.59h2.35v5.2h-2.35zM342.45 415.59h2.35v5.2h-2.35zM345.90 415.59h2.35v5.2h-2.35zM349.35 415.59h2.35v5.2h-2.35zM352.80 415.59h2.35v5.2h-2.35zM356.25 415.59h2.35v5.2h-2.35zM359.70 415.59h2.35v5.2h-2.35zM363.15 415.59h2.35v5.2h-2.35zM366.60 415.59h2.35v5.2h-2.35zM370.05 415.59h2.35v5.2h-2.35zM373.50 415.59h2.35v5.2h-2.35zM376.95 415.59h2.35v5.2h-2.35zM383.85 415.59h2.35v5.2h-2.35zM14.70 422.00h2.35v5.2h-2.35zM18.15 422.00h2.35v5.2h-2.35zM21.60 422.00h2.35v5.2h-2.35zM28.50 422.00h2.35v5.2h-2.35zM31.95 422.00h2.35v5.2h-2.35zM35.40 422.00h2.35v5.2h-2.35zM38.85 422.00h2.35v5.2h-2.35zM42.30 422.00h2.35v5.2h-2.35zM45.75 422.00h2.35v5.2h-2.35zM49.20 422.00h2.35v5.2h-2.35zM52.65 422.00h2.35v5.2h-2.35zM56.10 422.00h2.35v5.2h-2.35zM59.55 422.00h2.35v5.2h-2.35zM63.00 422.00h2.35v5.2h-2.35zM66.45 422.00h2.35v5.2h-2.35zM69.90 422.00h2.35v5.2h-2.35zM73.35 422.00h2.35v5.2h-2.35zM76.80 422.00h2.35v5.2h-2.35zM83.70 422.00h2.35v5.2h-2.35zM90.60 422.00h2.35v5.2h-2.35zM94.05 422.00h2.35v5.2h-2.35zM97.50 422.00h2.35v5.2h-2.35zM100.95 422.00h2.35v5.2h-2.35zM104.40 422.00h2.35v5.2h-2.35zM107.85 422.00h2.35v5.2h-2.35zM111.30 422.00h2.35v5.2h-2.35zM121.65 422.00h2.35v5.2h-2.35zM125.10 422.00h2.35v5.2h-2.35zM128.55 422.00h2.35v5.2h-2.35zM132.00 422.00h2.35v5.2h-2.35zM138.90 422.00h2.35v5.2h-2.35zM142.35 422.00h2.35v5.2h-2.35zM145.80 422.00h2.35v5.2h-2.35zM149.25 422.00h2.35v5.2h-2.35zM152.70 422.00h2.35v5.2h-2.35zM156.15 422.00h2.35v5.2h-2.35zM163.05 422.00h2.35v5.2h-2.35zM166.50 422.00h2.35v5.2h-2.35zM169.95 422.00h2.35v5.2h-2.35zM173.40 422.00h2.35v5.2h-2.35zM180.30 422.00h2.35v5.2h-2.35zM183.75 422.00h2.35v5.2h-2.35zM187.20 422.00h2.35v5.2h-2.35zM194.10 422.00h2.35v5.2h-2.35zM197.55 422.00h2.35v5.2h-2.35zM201.00 422.00h2.35v5.2h-2.35zM204.45 422.00h2.35v5.2h-2.35zM207.90 422.00h2.35v5.2h-2.35zM211.35 422.00h2.35v5.2h-2.35zM214.80 422.00h2.35v5.2h-2.35zM218.25 422.00h2.35v5.2h-2.35zM221.70 422.00h2.35v5.2h-2.35zM225.15 422.00h2.35v5.2h-2.35zM232.05 422.00h2.35v5.2h-2.35zM235.50 422.00h2.35v5.2h-2.35zM242.40 422.00h2.35v5.2h-2.35zM245.85 422.00h2.35v5.2h-2.35zM252.75 422.00h2.35v5.2h-2.35zM256.20 422.00h2.35v5.2h-2.35zM259.65 422.00h2.35v5.2h-2.35zM263.10 422.00h2.35v5.2h-2.35zM270.00 422.00h2.35v5.2h-2.35zM276.90 422.00h2.35v5.2h-2.35zM280.35 422.00h2.35v5.2h-2.35zM287.25 422.00h2.35v5.2h-2.35zM290.70 422.00h2.35v5.2h-2.35zM294.15 422.00h2.35v5.2h-2.35zM297.60 422.00h2.35v5.2h-2.35zM301.05 422.00h2.35v5.2h-2.35zM304.50 422.00h2.35v5.2h-2.35zM307.95 422.00h2.35v5.2h-2.35zM311.40 422.00h2.35v5.2h-2.35zM314.85 422.00h2.35v5.2h-2.35zM318.30 422.00h2.35v5.2h-2.35zM321.75 422.00h2.35v5.2h-2.35zM325.20 422.00h2.35v5.2h-2.35zM332.10 422.00h2.35v5.2h-2.35zM335.55 422.00h2.35v5.2h-2.35zM339.00 422.00h2.35v5.2h-2.35zM342.45 422.00h2.35v5.2h-2.35zM349.35 422.00h2.35v5.2h-2.35zM352.80 422.00h2.35v5.2h-2.35zM356.25 422.00h2.35v5.2h-2.35zM359.70 422.00h2.35v5.2h-2.35zM363.15 422.00h2.35v5.2h-2.35zM366.60 422.00h2.35v5.2h-2.35zM370.05 422.00h2.35v5.2h-2.35zM373.50 422.00h2.35v5.2h-2.35zM376.95 422.00h2.35v5.2h-2.35zM380.40 422.00h2.35v5.2h-2.35zM383.85 422.00h2.35v5.2h-2.35zM14.70 428.41h2.35v5.2h-2.35zM18.15 428.41h2.35v5.2h-2.35zM21.60 428.41h2.35v5.2h-2.35zM25.05 428.41h2.35v5.2h-2.35zM28.50 428.41h2.35v5.2h-2.35zM31.95 428.41h2.35v5.2h-2.35zM35.40 428.41h2.35v5.2h-2.35zM38.85 428.41h2.35v5.2h-2.35zM42.30 428.41h2.35v5.2h-2.35zM45.75 428.41h2.35v5.2h-2.35zM49.20 428.41h2.35v5.2h-2.35zM52.65 428.41h2.35v5.2h-2.35zM56.10 428.41h2.35v5.2h-2.35zM59.55 428.41h2.35v5.2h-2.35zM63.00 428.41h2.35v5.2h-2.35zM66.45 428.41h2.35v5.2h-2.35zM69.90 428.41h2.35v5.2h-2.35zM73.35 428.41h2.35v5.2h-2.35zM76.80 428.41h2.35v5.2h-2.35zM80.25 428.41h2.35v5.2h-2.35zM83.70 428.41h2.35v5.2h-2.35zM87.15 428.41h2.35v5.2h-2.35zM90.60 428.41h2.35v5.2h-2.35zM97.50 428.41h2.35v5.2h-2.35zM100.95 428.41h2.35v5.2h-2.35zM104.40 428.41h2.35v5.2h-2.35zM107.85 428.41h2.35v5.2h-2.35zM111.30 428.41h2.35v5.2h-2.35zM114.75 428.41h2.35v5.2h-2.35zM118.20 428.41h2.35v5.2h-2.35zM121.65 428.41h2.35v5.2h-2.35zM125.10 428.41h2.35v5.2h-2.35zM128.55 428.41h2.35v5.2h-2.35zM132.00 428.41h2.35v5.2h-2.35zM135.45 428.41h2.35v5.2h-2.35zM138.90 428.41h2.35v5.2h-2.35zM142.35 428.41h2.35v5.2h-2.35zM145.80 428.41h2.35v5.2h-2.35zM149.25 428.41h2.35v5.2h-2.35zM152.70 428.41h2.35v5.2h-2.35zM156.15 428.41h2.35v5.2h-2.35zM159.60 428.41h2.35v5.2h-2.35zM163.05 428.41h2.35v5.2h-2.35zM166.50 428.41h2.35v5.2h-2.35zM169.95 428.41h2.35v5.2h-2.35zM173.40 428.41h2.35v5.2h-2.35zM176.85 428.41h2.35v5.2h-2.35zM180.30 428.41h2.35v5.2h-2.35zM183.75 428.41h2.35v5.2h-2.35zM187.20 428.41h2.35v5.2h-2.35zM190.65 428.41h2.35v5.2h-2.35zM194.10 428.41h2.35v5.2h-2.35zM197.55 428.41h2.35v5.2h-2.35zM201.00 428.41h2.35v5.2h-2.35zM204.45 428.41h2.35v5.2h-2.35zM207.90 428.41h2.35v5.2h-2.35zM211.35 428.41h2.35v5.2h-2.35zM214.80 428.41h2.35v5.2h-2.35zM218.25 428.41h2.35v5.2h-2.35zM221.70 428.41h2.35v5.2h-2.35zM225.15 428.41h2.35v5.2h-2.35zM228.60 428.41h2.35v5.2h-2.35zM232.05 428.41h2.35v5.2h-2.35zM235.50 428.41h2.35v5.2h-2.35zM238.95 428.41h2.35v5.2h-2.35zM242.40 428.41h2.35v5.2h-2.35zM245.85 428.41h2.35v5.2h-2.35zM249.30 428.41h2.35v5.2h-2.35zM252.75 428.41h2.35v5.2h-2.35zM256.20 428.41h2.35v5.2h-2.35zM259.65 428.41h2.35v5.2h-2.35zM263.10 428.41h2.35v5.2h-2.35zM266.55 428.41h2.35v5.2h-2.35zM270.00 428.41h2.35v5.2h-2.35zM273.45 428.41h2.35v5.2h-2.35zM276.90 428.41h2.35v5.2h-2.35zM280.35 428.41h2.35v5.2h-2.35zM283.80 428.41h2.35v5.2h-2.35zM287.25 428.41h2.35v5.2h-2.35zM290.70 428.41h2.35v5.2h-2.35zM294.15 428.41h2.35v5.2h-2.35zM297.60 428.41h2.35v5.2h-2.35zM301.05 428.41h2.35v5.2h-2.35zM304.50 428.41h2.35v5.2h-2.35zM307.95 428.41h2.35v5.2h-2.35zM311.40 428.41h2.35v5.2h-2.35zM314.85 428.41h2.35v5.2h-2.35zM318.30 428.41h2.35v5.2h-2.35zM321.75 428.41h2.35v5.2h-2.35zM325.20 428.41h2.35v5.2h-2.35zM328.65 428.41h2.35v5.2h-2.35zM332.10 428.41h2.35v5.2h-2.35zM335.55 428.41h2.35v5.2h-2.35zM339.00 428.41h2.35v5.2h-2.35zM342.45 428.41h2.35v5.2h-2.35zM345.90 428.41h2.35v5.2h-2.35zM349.35 428.41h2.35v5.2h-2.35zM352.80 428.41h2.35v5.2h-2.35zM356.25 428.41h2.35v5.2h-2.35zM359.70 428.41h2.35v5.2h-2.35zM363.15 428.41h2.35v5.2h-2.35zM366.60 428.41h2.35v5.2h-2.35zM370.05 428.41h2.35v5.2h-2.35zM373.50 428.41h2.35v5.2h-2.35zM376.95 428.41h2.35v5.2h-2.35zM380.40 428.41h2.35v5.2h-2.35zM14.70 434.82h2.35v5.2h-2.35zM18.15 434.82h2.35v5.2h-2.35zM21.60 434.82h2.35v5.2h-2.35zM25.05 434.82h2.35v5.2h-2.35zM28.50 434.82h2.35v5.2h-2.35zM31.95 434.82h2.35v5.2h-2.35zM35.40 434.82h2.35v5.2h-2.35zM38.85 434.82h2.35v5.2h-2.35zM42.30 434.82h2.35v5.2h-2.35zM45.75 434.82h2.35v5.2h-2.35zM49.20 434.82h2.35v5.2h-2.35zM52.65 434.82h2.35v5.2h-2.35zM56.10 434.82h2.35v5.2h-2.35zM59.55 434.82h2.35v5.2h-2.35zM63.00 434.82h2.35v5.2h-2.35zM66.45 434.82h2.35v5.2h-2.35zM69.90 434.82h2.35v5.2h-2.35zM73.35 434.82h2.35v5.2h-2.35zM76.80 434.82h2.35v5.2h-2.35zM80.25 434.82h2.35v5.2h-2.35zM83.70 434.82h2.35v5.2h-2.35zM87.15 434.82h2.35v5.2h-2.35zM90.60 434.82h2.35v5.2h-2.35zM94.05 434.82h2.35v5.2h-2.35zM97.50 434.82h2.35v5.2h-2.35zM100.95 434.82h2.35v5.2h-2.35zM104.40 434.82h2.35v5.2h-2.35zM107.85 434.82h2.35v5.2h-2.35zM111.30 434.82h2.35v5.2h-2.35zM114.75 434.82h2.35v5.2h-2.35zM118.20 434.82h2.35v5.2h-2.35zM121.65 434.82h2.35v5.2h-2.35zM125.10 434.82h2.35v5.2h-2.35zM128.55 434.82h2.35v5.2h-2.35zM132.00 434.82h2.35v5.2h-2.35zM135.45 434.82h2.35v5.2h-2.35zM138.90 434.82h2.35v5.2h-2.35zM142.35 434.82h2.35v5.2h-2.35zM145.80 434.82h2.35v5.2h-2.35zM149.25 434.82h2.35v5.2h-2.35zM152.70 434.82h2.35v5.2h-2.35zM156.15 434.82h2.35v5.2h-2.35zM159.60 434.82h2.35v5.2h-2.35zM163.05 434.82h2.35v5.2h-2.35zM166.50 434.82h2.35v5.2h-2.35zM169.95 434.82h2.35v5.2h-2.35zM173.40 434.82h2.35v5.2h-2.35zM176.85 434.82h2.35v5.2h-2.35zM180.30 434.82h2.35v5.2h-2.35zM183.75 434.82h2.35v5.2h-2.35zM187.20 434.82h2.35v5.2h-2.35zM190.65 434.82h2.35v5.2h-2.35zM194.10 434.82h2.35v5.2h-2.35zM197.55 434.82h2.35v5.2h-2.35zM201.00 434.82h2.35v5.2h-2.35zM204.45 434.82h2.35v5.2h-2.35zM207.90 434.82h2.35v5.2h-2.35zM211.35 434.82h2.35v5.2h-2.35zM214.80 434.82h2.35v5.2h-2.35zM218.25 434.82h2.35v5.2h-2.35zM221.70 434.82h2.35v5.2h-2.35zM225.15 434.82h2.35v5.2h-2.35zM228.60 434.82h2.35v5.2h-2.35zM232.05 434.82h2.35v5.2h-2.35zM235.50 434.82h2.35v5.2h-2.35zM238.95 434.82h2.35v5.2h-2.35zM242.40 434.82h2.35v5.2h-2.35zM245.85 434.82h2.35v5.2h-2.35zM249.30 434.82h2.35v5.2h-2.35zM252.75 434.82h2.35v5.2h-2.35zM256.20 434.82h2.35v5.2h-2.35zM259.65 434.82h2.35v5.2h-2.35zM263.10 434.82h2.35v5.2h-2.35zM266.55 434.82h2.35v5.2h-2.35zM270.00 434.82h2.35v5.2h-2.35zM273.45 434.82h2.35v5.2h-2.35zM276.90 434.82h2.35v5.2h-2.35zM280.35 434.82h2.35v5.2h-2.35zM283.80 434.82h2.35v5.2h-2.35zM287.25 434.82h2.35v5.2h-2.35zM290.70 434.82h2.35v5.2h-2.35zM294.15 434.82h2.35v5.2h-2.35zM297.60 434.82h2.35v5.2h-2.35zM301.05 434.82h2.35v5.2h-2.35zM304.50 434.82h2.35v5.2h-2.35zM307.95 434.82h2.35v5.2h-2.35zM311.40 434.82h2.35v5.2h-2.35zM314.85 434.82h2.35v5.2h-2.35zM318.30 434.82h2.35v5.2h-2.35zM321.75 434.82h2.35v5.2h-2.35zM325.20 434.82h2.35v5.2h-2.35zM332.10 434.82h2.35v5.2h-2.35zM335.55 434.82h2.35v5.2h-2.35zM339.00 434.82h2.35v5.2h-2.35zM342.45 434.82h2.35v5.2h-2.35zM345.90 434.82h2.35v5.2h-2.35zM349.35 434.82h2.35v5.2h-2.35zM352.80 434.82h2.35v5.2h-2.35zM356.25 434.82h2.35v5.2h-2.35zM359.70 434.82h2.35v5.2h-2.35zM363.15 434.82h2.35v5.2h-2.35zM366.60 434.82h2.35v5.2h-2.35zM370.05 434.82h2.35v5.2h-2.35zM373.50 434.82h2.35v5.2h-2.35zM380.40 434.82h2.35v5.2h-2.35zM383.85 434.82h2.35v5.2h-2.35zM14.70 441.23h2.35v5.2h-2.35zM18.15 441.23h2.35v5.2h-2.35zM21.60 441.23h2.35v5.2h-2.35zM25.05 441.23h2.35v5.2h-2.35zM28.50 441.23h2.35v5.2h-2.35zM31.95 441.23h2.35v5.2h-2.35zM35.40 441.23h2.35v5.2h-2.35zM38.85 441.23h2.35v5.2h-2.35zM42.30 441.23h2.35v5.2h-2.35zM45.75 441.23h2.35v5.2h-2.35zM49.20 441.23h2.35v5.2h-2.35zM52.65 441.23h2.35v5.2h-2.35zM56.10 441.23h2.35v5.2h-2.35zM59.55 441.23h2.35v5.2h-2.35zM63.00 441.23h2.35v5.2h-2.35zM66.45 441.23h2.35v5.2h-2.35zM69.90 441.23h2.35v5.2h-2.35zM73.35 441.23h2.35v5.2h-2.35zM76.80 441.23h2.35v5.2h-2.35zM80.25 441.23h2.35v5.2h-2.35zM83.70 441.23h2.35v5.2h-2.35zM87.15 441.23h2.35v5.2h-2.35zM90.60 441.23h2.35v5.2h-2.35zM94.05 441.23h2.35v5.2h-2.35zM97.50 441.23h2.35v5.2h-2.35zM100.95 441.23h2.35v5.2h-2.35zM104.40 441.23h2.35v5.2h-2.35zM107.85 441.23h2.35v5.2h-2.35zM111.30 441.23h2.35v5.2h-2.35zM114.75 441.23h2.35v5.2h-2.35zM118.20 441.23h2.35v5.2h-2.35zM121.65 441.23h2.35v5.2h-2.35zM125.10 441.23h2.35v5.2h-2.35zM128.55 441.23h2.35v5.2h-2.35zM132.00 441.23h2.35v5.2h-2.35zM135.45 441.23h2.35v5.2h-2.35zM142.35 441.23h2.35v5.2h-2.35zM145.80 441.23h2.35v5.2h-2.35zM149.25 441.23h2.35v5.2h-2.35zM152.70 441.23h2.35v5.2h-2.35zM156.15 441.23h2.35v5.2h-2.35zM159.60 441.23h2.35v5.2h-2.35zM163.05 441.23h2.35v5.2h-2.35zM166.50 441.23h2.35v5.2h-2.35zM169.95 441.23h2.35v5.2h-2.35zM173.40 441.23h2.35v5.2h-2.35zM176.85 441.23h2.35v5.2h-2.35zM180.30 441.23h2.35v5.2h-2.35zM183.75 441.23h2.35v5.2h-2.35zM187.20 441.23h2.35v5.2h-2.35zM190.65 441.23h2.35v5.2h-2.35zM194.10 441.23h2.35v5.2h-2.35zM197.55 441.23h2.35v5.2h-2.35zM201.00 441.23h2.35v5.2h-2.35zM204.45 441.23h2.35v5.2h-2.35zM207.90 441.23h2.35v5.2h-2.35zM211.35 441.23h2.35v5.2h-2.35zM214.80 441.23h2.35v5.2h-2.35zM218.25 441.23h2.35v5.2h-2.35zM221.70 441.23h2.35v5.2h-2.35zM225.15 441.23h2.35v5.2h-2.35zM228.60 441.23h2.35v5.2h-2.35zM232.05 441.23h2.35v5.2h-2.35zM235.50 441.23h2.35v5.2h-2.35zM238.95 441.23h2.35v5.2h-2.35zM242.40 441.23h2.35v5.2h-2.35zM245.85 441.23h2.35v5.2h-2.35zM249.30 441.23h2.35v5.2h-2.35zM252.75 441.23h2.35v5.2h-2.35zM256.20 441.23h2.35v5.2h-2.35zM259.65 441.23h2.35v5.2h-2.35zM263.10 441.23h2.35v5.2h-2.35zM266.55 441.23h2.35v5.2h-2.35zM270.00 441.23h2.35v5.2h-2.35zM273.45 441.23h2.35v5.2h-2.35zM276.90 441.23h2.35v5.2h-2.35zM280.35 441.23h2.35v5.2h-2.35zM283.80 441.23h2.35v5.2h-2.35zM287.25 441.23h2.35v5.2h-2.35zM290.70 441.23h2.35v5.2h-2.35zM294.15 441.23h2.35v5.2h-2.35zM297.60 441.23h2.35v5.2h-2.35zM301.05 441.23h2.35v5.2h-2.35zM304.50 441.23h2.35v5.2h-2.35zM307.95 441.23h2.35v5.2h-2.35zM311.40 441.23h2.35v5.2h-2.35zM314.85 441.23h2.35v5.2h-2.35zM318.30 441.23h2.35v5.2h-2.35zM321.75 441.23h2.35v5.2h-2.35zM325.20 441.23h2.35v5.2h-2.35zM328.65 441.23h2.35v5.2h-2.35zM332.10 441.23h2.35v5.2h-2.35zM335.55 441.23h2.35v5.2h-2.35zM342.45 441.23h2.35v5.2h-2.35zM345.90 441.23h2.35v5.2h-2.35zM349.35 441.23h2.35v5.2h-2.35zM352.80 441.23h2.35v5.2h-2.35zM356.25 441.23h2.35v5.2h-2.35zM359.70 441.23h2.35v5.2h-2.35zM363.15 441.23h2.35v5.2h-2.35zM366.60 441.23h2.35v5.2h-2.35zM370.05 441.23h2.35v5.2h-2.35zM373.50 441.23h2.35v5.2h-2.35zM376.95 441.23h2.35v5.2h-2.35zM380.40 441.23h2.35v5.2h-2.35zM383.85 441.23h2.35v5.2h-2.35zM14.70 447.64h2.35v5.2h-2.35zM18.15 447.64h2.35v5.2h-2.35zM21.60 447.64h2.35v5.2h-2.35zM25.05 447.64h2.35v5.2h-2.35zM28.50 447.64h2.35v5.2h-2.35zM31.95 447.64h2.35v5.2h-2.35zM35.40 447.64h2.35v5.2h-2.35zM38.85 447.64h2.35v5.2h-2.35zM42.30 447.64h2.35v5.2h-2.35zM45.75 447.64h2.35v5.2h-2.35zM49.20 447.64h2.35v5.2h-2.35zM52.65 447.64h2.35v5.2h-2.35zM56.10 447.64h2.35v5.2h-2.35zM59.55 447.64h2.35v5.2h-2.35zM63.00 447.64h2.35v5.2h-2.35zM66.45 447.64h2.35v5.2h-2.35zM69.90 447.64h2.35v5.2h-2.35zM73.35 447.64h2.35v5.2h-2.35zM76.80 447.64h2.35v5.2h-2.35zM80.25 447.64h2.35v5.2h-2.35zM83.70 447.64h2.35v5.2h-2.35zM87.15 447.64h2.35v5.2h-2.35zM90.60 447.64h2.35v5.2h-2.35zM94.05 447.64h2.35v5.2h-2.35zM97.50 447.64h2.35v5.2h-2.35zM100.95 447.64h2.35v5.2h-2.35zM104.40 447.64h2.35v5.2h-2.35zM107.85 447.64h2.35v5.2h-2.35zM111.30 447.64h2.35v5.2h-2.35zM114.75 447.64h2.35v5.2h-2.35zM118.20 447.64h2.35v5.2h-2.35zM121.65 447.64h2.35v5.2h-2.35zM125.10 447.64h2.35v5.2h-2.35zM128.55 447.64h2.35v5.2h-2.35zM132.00 447.64h2.35v5.2h-2.35zM135.45 447.64h2.35v5.2h-2.35zM138.90 447.64h2.35v5.2h-2.35zM142.35 447.64h2.35v5.2h-2.35zM145.80 447.64h2.35v5.2h-2.35zM149.25 447.64h2.35v5.2h-2.35zM156.15 447.64h2.35v5.2h-2.35zM159.60 447.64h2.35v5.2h-2.35zM163.05 447.64h2.35v5.2h-2.35zM166.50 447.64h2.35v5.2h-2.35zM169.95 447.64h2.35v5.2h-2.35zM173.40 447.64h2.35v5.2h-2.35zM176.85 447.64h2.35v5.2h-2.35zM180.30 447.64h2.35v5.2h-2.35zM183.75 447.64h2.35v5.2h-2.35zM187.20 447.64h2.35v5.2h-2.35zM190.65 447.64h2.35v5.2h-2.35zM194.10 447.64h2.35v5.2h-2.35zM197.55 447.64h2.35v5.2h-2.35zM201.00 447.64h2.35v5.2h-2.35zM204.45 447.64h2.35v5.2h-2.35zM207.90 447.64h2.35v5.2h-2.35zM211.35 447.64h2.35v5.2h-2.35zM214.80 447.64h2.35v5.2h-2.35zM218.25 447.64h2.35v5.2h-2.35zM221.70 447.64h2.35v5.2h-2.35zM225.15 447.64h2.35v5.2h-2.35zM228.60 447.64h2.35v5.2h-2.35zM232.05 447.64h2.35v5.2h-2.35zM235.50 447.64h2.35v5.2h-2.35zM238.95 447.64h2.35v5.2h-2.35zM242.40 447.64h2.35v5.2h-2.35zM245.85 447.64h2.35v5.2h-2.35zM249.30 447.64h2.35v5.2h-2.35zM252.75 447.64h2.35v5.2h-2.35zM256.20 447.64h2.35v5.2h-2.35zM259.65 447.64h2.35v5.2h-2.35zM263.10 447.64h2.35v5.2h-2.35zM270.00 447.64h2.35v5.2h-2.35zM273.45 447.64h2.35v5.2h-2.35zM276.90 447.64h2.35v5.2h-2.35zM280.35 447.64h2.35v5.2h-2.35zM283.80 447.64h2.35v5.2h-2.35zM287.25 447.64h2.35v5.2h-2.35zM290.70 447.64h2.35v5.2h-2.35zM294.15 447.64h2.35v5.2h-2.35zM301.05 447.64h2.35v5.2h-2.35zM304.50 447.64h2.35v5.2h-2.35zM307.95 447.64h2.35v5.2h-2.35zM311.40 447.64h2.35v5.2h-2.35zM314.85 447.64h2.35v5.2h-2.35zM318.30 447.64h2.35v5.2h-2.35zM321.75 447.64h2.35v5.2h-2.35zM325.20 447.64h2.35v5.2h-2.35zM328.65 447.64h2.35v5.2h-2.35zM332.10 447.64h2.35v5.2h-2.35zM335.55 447.64h2.35v5.2h-2.35zM339.00 447.64h2.35v5.2h-2.35zM342.45 447.64h2.35v5.2h-2.35zM345.90 447.64h2.35v5.2h-2.35zM349.35 447.64h2.35v5.2h-2.35zM352.80 447.64h2.35v5.2h-2.35zM356.25 447.64h2.35v5.2h-2.35zM359.70 447.64h2.35v5.2h-2.35zM363.15 447.64h2.35v5.2h-2.35zM366.60 447.64h2.35v5.2h-2.35zM370.05 447.64h2.35v5.2h-2.35zM373.50 447.64h2.35v5.2h-2.35zM376.95 447.64h2.35v5.2h-2.35zM380.40 447.64h2.35v5.2h-2.35zM383.85 447.64h2.35v5.2h-2.35zM14.70 454.05h2.35v5.2h-2.35zM18.15 454.05h2.35v5.2h-2.35zM21.60 454.05h2.35v5.2h-2.35zM25.05 454.05h2.35v5.2h-2.35zM28.50 454.05h2.35v5.2h-2.35zM31.95 454.05h2.35v5.2h-2.35zM35.40 454.05h2.35v5.2h-2.35zM38.85 454.05h2.35v5.2h-2.35zM42.30 454.05h2.35v5.2h-2.35zM45.75 454.05h2.35v5.2h-2.35zM49.20 454.05h2.35v5.2h-2.35zM52.65 454.05h2.35v5.2h-2.35zM56.10 454.05h2.35v5.2h-2.35zM59.55 454.05h2.35v5.2h-2.35zM63.00 454.05h2.35v5.2h-2.35zM66.45 454.05h2.35v5.2h-2.35zM69.90 454.05h2.35v5.2h-2.35zM73.35 454.05h2.35v5.2h-2.35zM76.80 454.05h2.35v5.2h-2.35zM80.25 454.05h2.35v5.2h-2.35zM83.70 454.05h2.35v5.2h-2.35zM87.15 454.05h2.35v5.2h-2.35zM90.60 454.05h2.35v5.2h-2.35zM94.05 454.05h2.35v5.2h-2.35zM97.50 454.05h2.35v5.2h-2.35zM100.95 454.05h2.35v5.2h-2.35zM104.40 454.05h2.35v5.2h-2.35zM107.85 454.05h2.35v5.2h-2.35zM111.30 454.05h2.35v5.2h-2.35zM114.75 454.05h2.35v5.2h-2.35zM118.20 454.05h2.35v5.2h-2.35zM121.65 454.05h2.35v5.2h-2.35zM125.10 454.05h2.35v5.2h-2.35zM128.55 454.05h2.35v5.2h-2.35zM138.90 454.05h2.35v5.2h-2.35zM142.35 454.05h2.35v5.2h-2.35zM145.80 454.05h2.35v5.2h-2.35zM149.25 454.05h2.35v5.2h-2.35zM152.70 454.05h2.35v5.2h-2.35zM156.15 454.05h2.35v5.2h-2.35zM159.60 454.05h2.35v5.2h-2.35zM163.05 454.05h2.35v5.2h-2.35zM166.50 454.05h2.35v5.2h-2.35zM169.95 454.05h2.35v5.2h-2.35zM173.40 454.05h2.35v5.2h-2.35zM176.85 454.05h2.35v5.2h-2.35zM180.30 454.05h2.35v5.2h-2.35zM183.75 454.05h2.35v5.2h-2.35zM187.20 454.05h2.35v5.2h-2.35zM190.65 454.05h2.35v5.2h-2.35zM194.10 454.05h2.35v5.2h-2.35zM201.00 454.05h2.35v5.2h-2.35zM204.45 454.05h2.35v5.2h-2.35zM207.90 454.05h2.35v5.2h-2.35zM211.35 454.05h2.35v5.2h-2.35zM214.80 454.05h2.35v5.2h-2.35zM218.25 454.05h2.35v5.2h-2.35zM221.70 454.05h2.35v5.2h-2.35zM225.15 454.05h2.35v5.2h-2.35zM228.60 454.05h2.35v5.2h-2.35zM232.05 454.05h2.35v5.2h-2.35zM238.95 454.05h2.35v5.2h-2.35zM242.40 454.05h2.35v5.2h-2.35zM245.85 454.05h2.35v5.2h-2.35zM249.30 454.05h2.35v5.2h-2.35zM252.75 454.05h2.35v5.2h-2.35zM256.20 454.05h2.35v5.2h-2.35zM259.65 454.05h2.35v5.2h-2.35zM263.10 454.05h2.35v5.2h-2.35zM266.55 454.05h2.35v5.2h-2.35zM270.00 454.05h2.35v5.2h-2.35zM273.45 454.05h2.35v5.2h-2.35zM276.90 454.05h2.35v5.2h-2.35zM280.35 454.05h2.35v5.2h-2.35zM283.80 454.05h2.35v5.2h-2.35zM287.25 454.05h2.35v5.2h-2.35zM290.70 454.05h2.35v5.2h-2.35zM294.15 454.05h2.35v5.2h-2.35zM297.60 454.05h2.35v5.2h-2.35zM301.05 454.05h2.35v5.2h-2.35zM304.50 454.05h2.35v5.2h-2.35zM307.95 454.05h2.35v5.2h-2.35zM314.85 454.05h2.35v5.2h-2.35zM318.30 454.05h2.35v5.2h-2.35zM321.75 454.05h2.35v5.2h-2.35zM325.20 454.05h2.35v5.2h-2.35zM328.65 454.05h2.35v5.2h-2.35zM332.10 454.05h2.35v5.2h-2.35zM335.55 454.05h2.35v5.2h-2.35zM339.00 454.05h2.35v5.2h-2.35zM342.45 454.05h2.35v5.2h-2.35zM345.90 454.05h2.35v5.2h-2.35zM349.35 454.05h2.35v5.2h-2.35zM352.80 454.05h2.35v5.2h-2.35zM356.25 454.05h2.35v5.2h-2.35zM359.70 454.05h2.35v5.2h-2.35zM363.15 454.05h2.35v5.2h-2.35zM366.60 454.05h2.35v5.2h-2.35zM370.05 454.05h2.35v5.2h-2.35zM373.50 454.05h2.35v5.2h-2.35zM376.95 454.05h2.35v5.2h-2.35zM380.40 454.05h2.35v5.2h-2.35zM383.85 454.05h2.35v5.2h-2.35zM14.70 460.46h2.35v5.2h-2.35zM18.15 460.46h2.35v5.2h-2.35zM21.60 460.46h2.35v5.2h-2.35zM25.05 460.46h2.35v5.2h-2.35zM28.50 460.46h2.35v5.2h-2.35zM31.95 460.46h2.35v5.2h-2.35zM35.40 460.46h2.35v5.2h-2.35zM38.85 460.46h2.35v5.2h-2.35zM42.30 460.46h2.35v5.2h-2.35zM45.75 460.46h2.35v5.2h-2.35zM49.20 460.46h2.35v5.2h-2.35zM52.65 460.46h2.35v5.2h-2.35zM56.10 460.46h2.35v5.2h-2.35zM59.55 460.46h2.35v5.2h-2.35zM63.00 460.46h2.35v5.2h-2.35zM66.45 460.46h2.35v5.2h-2.35zM69.90 460.46h2.35v5.2h-2.35zM73.35 460.46h2.35v5.2h-2.35zM76.80 460.46h2.35v5.2h-2.35zM80.25 460.46h2.35v5.2h-2.35zM83.70 460.46h2.35v5.2h-2.35zM87.15 460.46h2.35v5.2h-2.35zM90.60 460.46h2.35v5.2h-2.35zM94.05 460.46h2.35v5.2h-2.35zM97.50 460.46h2.35v5.2h-2.35zM100.95 460.46h2.35v5.2h-2.35zM104.40 460.46h2.35v5.2h-2.35zM107.85 460.46h2.35v5.2h-2.35zM111.30 460.46h2.35v5.2h-2.35zM114.75 460.46h2.35v5.2h-2.35zM118.20 460.46h2.35v5.2h-2.35zM121.65 460.46h2.35v5.2h-2.35zM125.10 460.46h2.35v5.2h-2.35zM128.55 460.46h2.35v5.2h-2.35zM132.00 460.46h2.35v5.2h-2.35zM135.45 460.46h2.35v5.2h-2.35zM138.90 460.46h2.35v5.2h-2.35zM142.35 460.46h2.35v5.2h-2.35zM145.80 460.46h2.35v5.2h-2.35zM149.25 460.46h2.35v5.2h-2.35zM152.70 460.46h2.35v5.2h-2.35zM156.15 460.46h2.35v5.2h-2.35zM159.60 460.46h2.35v5.2h-2.35zM163.05 460.46h2.35v5.2h-2.35zM166.50 460.46h2.35v5.2h-2.35zM169.95 460.46h2.35v5.2h-2.35zM176.85 460.46h2.35v5.2h-2.35zM180.30 460.46h2.35v5.2h-2.35zM183.75 460.46h2.35v5.2h-2.35zM187.20 460.46h2.35v5.2h-2.35zM190.65 460.46h2.35v5.2h-2.35zM194.10 460.46h2.35v5.2h-2.35zM197.55 460.46h2.35v5.2h-2.35zM201.00 460.46h2.35v5.2h-2.35zM207.90 460.46h2.35v5.2h-2.35zM211.35 460.46h2.35v5.2h-2.35zM214.80 460.46h2.35v5.2h-2.35zM218.25 460.46h2.35v5.2h-2.35zM221.70 460.46h2.35v5.2h-2.35zM225.15 460.46h2.35v5.2h-2.35zM228.60 460.46h2.35v5.2h-2.35zM232.05 460.46h2.35v5.2h-2.35zM235.50 460.46h2.35v5.2h-2.35zM238.95 460.46h2.35v5.2h-2.35zM242.40 460.46h2.35v5.2h-2.35zM245.85 460.46h2.35v5.2h-2.35zM249.30 460.46h2.35v5.2h-2.35zM252.75 460.46h2.35v5.2h-2.35zM256.20 460.46h2.35v5.2h-2.35zM259.65 460.46h2.35v5.2h-2.35zM263.10 460.46h2.35v5.2h-2.35zM266.55 460.46h2.35v5.2h-2.35zM270.00 460.46h2.35v5.2h-2.35zM273.45 460.46h2.35v5.2h-2.35zM276.90 460.46h2.35v5.2h-2.35zM280.35 460.46h2.35v5.2h-2.35zM283.80 460.46h2.35v5.2h-2.35zM287.25 460.46h2.35v5.2h-2.35zM290.70 460.46h2.35v5.2h-2.35zM294.15 460.46h2.35v5.2h-2.35zM297.60 460.46h2.35v5.2h-2.35zM301.05 460.46h2.35v5.2h-2.35zM304.50 460.46h2.35v5.2h-2.35zM307.95 460.46h2.35v5.2h-2.35zM311.40 460.46h2.35v5.2h-2.35zM314.85 460.46h2.35v5.2h-2.35zM318.30 460.46h2.35v5.2h-2.35zM321.75 460.46h2.35v5.2h-2.35zM325.20 460.46h2.35v5.2h-2.35zM328.65 460.46h2.35v5.2h-2.35zM332.10 460.46h2.35v5.2h-2.35zM335.55 460.46h2.35v5.2h-2.35zM339.00 460.46h2.35v5.2h-2.35zM342.45 460.46h2.35v5.2h-2.35zM345.90 460.46h2.35v5.2h-2.35zM349.35 460.46h2.35v5.2h-2.35zM352.80 460.46h2.35v5.2h-2.35zM356.25 460.46h2.35v5.2h-2.35zM359.70 460.46h2.35v5.2h-2.35zM363.15 460.46h2.35v5.2h-2.35zM366.60 460.46h2.35v5.2h-2.35zM370.05 460.46h2.35v5.2h-2.35zM373.50 460.46h2.35v5.2h-2.35zM376.95 460.46h2.35v5.2h-2.35zM380.40 460.46h2.35v5.2h-2.35zM383.85 460.46h2.35v5.2h-2.35zM14.70 466.87h2.35v5.2h-2.35zM18.15 466.87h2.35v5.2h-2.35zM21.60 466.87h2.35v5.2h-2.35zM28.50 466.87h2.35v5.2h-2.35zM31.95 466.87h2.35v5.2h-2.35zM35.40 466.87h2.35v5.2h-2.35zM42.30 466.87h2.35v5.2h-2.35zM45.75 466.87h2.35v5.2h-2.35zM49.20 466.87h2.35v5.2h-2.35zM52.65 466.87h2.35v5.2h-2.35zM56.10 466.87h2.35v5.2h-2.35zM59.55 466.87h2.35v5.2h-2.35zM63.00 466.87h2.35v5.2h-2.35zM66.45 466.87h2.35v5.2h-2.35zM69.90 466.87h2.35v5.2h-2.35zM73.35 466.87h2.35v5.2h-2.35zM76.80 466.87h2.35v5.2h-2.35zM80.25 466.87h2.35v5.2h-2.35zM83.70 466.87h2.35v5.2h-2.35zM87.15 466.87h2.35v5.2h-2.35zM90.60 466.87h2.35v5.2h-2.35zM94.05 466.87h2.35v5.2h-2.35zM97.50 466.87h2.35v5.2h-2.35zM100.95 466.87h2.35v5.2h-2.35zM104.40 466.87h2.35v5.2h-2.35zM107.85 466.87h2.35v5.2h-2.35zM111.30 466.87h2.35v5.2h-2.35zM114.75 466.87h2.35v5.2h-2.35zM118.20 466.87h2.35v5.2h-2.35zM121.65 466.87h2.35v5.2h-2.35zM125.10 466.87h2.35v5.2h-2.35zM128.55 466.87h2.35v5.2h-2.35zM132.00 466.87h2.35v5.2h-2.35zM135.45 466.87h2.35v5.2h-2.35zM138.90 466.87h2.35v5.2h-2.35zM142.35 466.87h2.35v5.2h-2.35zM145.80 466.87h2.35v5.2h-2.35zM149.25 466.87h2.35v5.2h-2.35zM152.70 466.87h2.35v5.2h-2.35zM156.15 466.87h2.35v5.2h-2.35zM159.60 466.87h2.35v5.2h-2.35zM163.05 466.87h2.35v5.2h-2.35zM166.50 466.87h2.35v5.2h-2.35zM169.95 466.87h2.35v5.2h-2.35zM176.85 466.87h2.35v5.2h-2.35zM180.30 466.87h2.35v5.2h-2.35zM183.75 466.87h2.35v5.2h-2.35zM187.20 466.87h2.35v5.2h-2.35zM190.65 466.87h2.35v5.2h-2.35zM194.10 466.87h2.35v5.2h-2.35zM197.55 466.87h2.35v5.2h-2.35zM201.00 466.87h2.35v5.2h-2.35zM207.90 466.87h2.35v5.2h-2.35zM214.80 466.87h2.35v5.2h-2.35zM218.25 466.87h2.35v5.2h-2.35zM221.70 466.87h2.35v5.2h-2.35zM225.15 466.87h2.35v5.2h-2.35zM228.60 466.87h2.35v5.2h-2.35zM232.05 466.87h2.35v5.2h-2.35zM235.50 466.87h2.35v5.2h-2.35zM238.95 466.87h2.35v5.2h-2.35zM242.40 466.87h2.35v5.2h-2.35zM245.85 466.87h2.35v5.2h-2.35zM249.30 466.87h2.35v5.2h-2.35zM252.75 466.87h2.35v5.2h-2.35zM256.20 466.87h2.35v5.2h-2.35zM259.65 466.87h2.35v5.2h-2.35zM263.10 466.87h2.35v5.2h-2.35zM266.55 466.87h2.35v5.2h-2.35zM273.45 466.87h2.35v5.2h-2.35zM276.90 466.87h2.35v5.2h-2.35zM280.35 466.87h2.35v5.2h-2.35zM283.80 466.87h2.35v5.2h-2.35zM287.25 466.87h2.35v5.2h-2.35zM290.70 466.87h2.35v5.2h-2.35zM294.15 466.87h2.35v5.2h-2.35zM297.60 466.87h2.35v5.2h-2.35zM301.05 466.87h2.35v5.2h-2.35zM304.50 466.87h2.35v5.2h-2.35zM307.95 466.87h2.35v5.2h-2.35zM311.40 466.87h2.35v5.2h-2.35zM314.85 466.87h2.35v5.2h-2.35zM318.30 466.87h2.35v5.2h-2.35zM321.75 466.87h2.35v5.2h-2.35zM325.20 466.87h2.35v5.2h-2.35zM328.65 466.87h2.35v5.2h-2.35zM332.10 466.87h2.35v5.2h-2.35zM335.55 466.87h2.35v5.2h-2.35zM339.00 466.87h2.35v5.2h-2.35zM342.45 466.87h2.35v5.2h-2.35zM345.90 466.87h2.35v5.2h-2.35zM349.35 466.87h2.35v5.2h-2.35zM352.80 466.87h2.35v5.2h-2.35zM356.25 466.87h2.35v5.2h-2.35zM359.70 466.87h2.35v5.2h-2.35zM363.15 466.87h2.35v5.2h-2.35zM366.60 466.87h2.35v5.2h-2.35zM370.05 466.87h2.35v5.2h-2.35zM373.50 466.87h2.35v5.2h-2.35zM376.95 466.87h2.35v5.2h-2.35zM380.40 466.87h2.35v5.2h-2.35zM383.85 466.87h2.35v5.2h-2.35zM14.70 473.28h2.35v5.2h-2.35zM18.15 473.28h2.35v5.2h-2.35zM21.60 473.28h2.35v5.2h-2.35zM25.05 473.28h2.35v5.2h-2.35zM28.50 473.28h2.35v5.2h-2.35zM31.95 473.28h2.35v5.2h-2.35zM35.40 473.28h2.35v5.2h-2.35zM38.85 473.28h2.35v5.2h-2.35zM42.30 473.28h2.35v5.2h-2.35zM45.75 473.28h2.35v5.2h-2.35zM49.20 473.28h2.35v5.2h-2.35zM52.65 473.28h2.35v5.2h-2.35zM56.10 473.28h2.35v5.2h-2.35zM59.55 473.28h2.35v5.2h-2.35zM63.00 473.28h2.35v5.2h-2.35zM66.45 473.28h2.35v5.2h-2.35zM69.90 473.28h2.35v5.2h-2.35zM73.35 473.28h2.35v5.2h-2.35zM76.80 473.28h2.35v5.2h-2.35zM80.25 473.28h2.35v5.2h-2.35zM83.70 473.28h2.35v5.2h-2.35zM87.15 473.28h2.35v5.2h-2.35zM90.60 473.28h2.35v5.2h-2.35zM94.05 473.28h2.35v5.2h-2.35zM97.50 473.28h2.35v5.2h-2.35zM100.95 473.28h2.35v5.2h-2.35zM104.40 473.28h2.35v5.2h-2.35zM107.85 473.28h2.35v5.2h-2.35zM111.30 473.28h2.35v5.2h-2.35zM114.75 473.28h2.35v5.2h-2.35zM118.20 473.28h2.35v5.2h-2.35zM121.65 473.28h2.35v5.2h-2.35zM125.10 473.28h2.35v5.2h-2.35zM128.55 473.28h2.35v5.2h-2.35zM132.00 473.28h2.35v5.2h-2.35zM135.45 473.28h2.35v5.2h-2.35zM138.90 473.28h2.35v5.2h-2.35zM142.35 473.28h2.35v5.2h-2.35zM145.80 473.28h2.35v5.2h-2.35zM149.25 473.28h2.35v5.2h-2.35zM152.70 473.28h2.35v5.2h-2.35zM156.15 473.28h2.35v5.2h-2.35zM159.60 473.28h2.35v5.2h-2.35zM163.05 473.28h2.35v5.2h-2.35zM166.50 473.28h2.35v5.2h-2.35zM169.95 473.28h2.35v5.2h-2.35zM173.40 473.28h2.35v5.2h-2.35zM176.85 473.28h2.35v5.2h-2.35zM180.30 473.28h2.35v5.2h-2.35zM183.75 473.28h2.35v5.2h-2.35zM187.20 473.28h2.35v5.2h-2.35zM190.65 473.28h2.35v5.2h-2.35zM194.10 473.28h2.35v5.2h-2.35zM197.55 473.28h2.35v5.2h-2.35zM201.00 473.28h2.35v5.2h-2.35zM204.45 473.28h2.35v5.2h-2.35zM207.90 473.28h2.35v5.2h-2.35zM211.35 473.28h2.35v5.2h-2.35zM214.80 473.28h2.35v5.2h-2.35zM218.25 473.28h2.35v5.2h-2.35zM221.70 473.28h2.35v5.2h-2.35zM225.15 473.28h2.35v5.2h-2.35zM228.60 473.28h2.35v5.2h-2.35zM232.05 473.28h2.35v5.2h-2.35zM235.50 473.28h2.35v5.2h-2.35zM238.95 473.28h2.35v5.2h-2.35zM242.40 473.28h2.35v5.2h-2.35zM245.85 473.28h2.35v5.2h-2.35zM249.30 473.28h2.35v5.2h-2.35zM252.75 473.28h2.35v5.2h-2.35zM256.20 473.28h2.35v5.2h-2.35zM259.65 473.28h2.35v5.2h-2.35zM263.10 473.28h2.35v5.2h-2.35zM266.55 473.28h2.35v5.2h-2.35zM270.00 473.28h2.35v5.2h-2.35zM273.45 473.28h2.35v5.2h-2.35zM276.90 473.28h2.35v5.2h-2.35zM280.35 473.28h2.35v5.2h-2.35zM283.80 473.28h2.35v5.2h-2.35zM287.25 473.28h2.35v5.2h-2.35zM290.70 473.28h2.35v5.2h-2.35zM294.15 473.28h2.35v5.2h-2.35zM297.60 473.28h2.35v5.2h-2.35zM301.05 473.28h2.35v5.2h-2.35zM307.95 473.28h2.35v5.2h-2.35zM311.40 473.28h2.35v5.2h-2.35zM314.85 473.28h2.35v5.2h-2.35zM318.30 473.28h2.35v5.2h-2.35zM321.75 473.28h2.35v5.2h-2.35zM325.20 473.28h2.35v5.2h-2.35zM328.65 473.28h2.35v5.2h-2.35zM332.10 473.28h2.35v5.2h-2.35zM335.55 473.28h2.35v5.2h-2.35zM339.00 473.28h2.35v5.2h-2.35zM342.45 473.28h2.35v5.2h-2.35zM352.80 473.28h2.35v5.2h-2.35zM356.25 473.28h2.35v5.2h-2.35zM359.70 473.28h2.35v5.2h-2.35zM363.15 473.28h2.35v5.2h-2.35zM366.60 473.28h2.35v5.2h-2.35zM370.05 473.28h2.35v5.2h-2.35zM373.50 473.28h2.35v5.2h-2.35zM376.95 473.28h2.35v5.2h-2.35zM380.40 473.28h2.35v5.2h-2.35zM383.85 473.28h2.35v5.2h-2.35zM14.70 479.69h2.35v5.2h-2.35zM18.15 479.69h2.35v5.2h-2.35zM21.60 479.69h2.35v5.2h-2.35zM25.05 479.69h2.35v5.2h-2.35zM28.50 479.69h2.35v5.2h-2.35zM31.95 479.69h2.35v5.2h-2.35zM35.40 479.69h2.35v5.2h-2.35zM38.85 479.69h2.35v5.2h-2.35zM42.30 479.69h2.35v5.2h-2.35zM45.75 479.69h2.35v5.2h-2.35zM49.20 479.69h2.35v5.2h-2.35zM52.65 479.69h2.35v5.2h-2.35zM56.10 479.69h2.35v5.2h-2.35zM59.55 479.69h2.35v5.2h-2.35zM63.00 479.69h2.35v5.2h-2.35zM66.45 479.69h2.35v5.2h-2.35zM69.90 479.69h2.35v5.2h-2.35zM73.35 479.69h2.35v5.2h-2.35zM76.80 479.69h2.35v5.2h-2.35zM80.25 479.69h2.35v5.2h-2.35zM83.70 479.69h2.35v5.2h-2.35zM87.15 479.69h2.35v5.2h-2.35zM90.60 479.69h2.35v5.2h-2.35zM94.05 479.69h2.35v5.2h-2.35zM97.50 479.69h2.35v5.2h-2.35zM100.95 479.69h2.35v5.2h-2.35zM104.40 479.69h2.35v5.2h-2.35zM107.85 479.69h2.35v5.2h-2.35zM111.30 479.69h2.35v5.2h-2.35zM114.75 479.69h2.35v5.2h-2.35zM118.20 479.69h2.35v5.2h-2.35zM121.65 479.69h2.35v5.2h-2.35zM125.10 479.69h2.35v5.2h-2.35zM128.55 479.69h2.35v5.2h-2.35zM132.00 479.69h2.35v5.2h-2.35zM135.45 479.69h2.35v5.2h-2.35zM138.90 479.69h2.35v5.2h-2.35zM142.35 479.69h2.35v5.2h-2.35zM145.80 479.69h2.35v5.2h-2.35zM149.25 479.69h2.35v5.2h-2.35zM152.70 479.69h2.35v5.2h-2.35zM156.15 479.69h2.35v5.2h-2.35zM159.60 479.69h2.35v5.2h-2.35zM163.05 479.69h2.35v5.2h-2.35zM166.50 479.69h2.35v5.2h-2.35zM169.95 479.69h2.35v5.2h-2.35zM173.40 479.69h2.35v5.2h-2.35zM176.85 479.69h2.35v5.2h-2.35zM180.30 479.69h2.35v5.2h-2.35zM183.75 479.69h2.35v5.2h-2.35zM187.20 479.69h2.35v5.2h-2.35zM190.65 479.69h2.35v5.2h-2.35zM194.10 479.69h2.35v5.2h-2.35zM201.00 479.69h2.35v5.2h-2.35zM204.45 479.69h2.35v5.2h-2.35zM207.90 479.69h2.35v5.2h-2.35zM211.35 479.69h2.35v5.2h-2.35zM214.80 479.69h2.35v5.2h-2.35zM218.25 479.69h2.35v5.2h-2.35zM221.70 479.69h2.35v5.2h-2.35zM225.15 479.69h2.35v5.2h-2.35zM228.60 479.69h2.35v5.2h-2.35zM232.05 479.69h2.35v5.2h-2.35zM235.50 479.69h2.35v5.2h-2.35zM238.95 479.69h2.35v5.2h-2.35zM242.40 479.69h2.35v5.2h-2.35zM245.85 479.69h2.35v5.2h-2.35zM249.30 479.69h2.35v5.2h-2.35zM252.75 479.69h2.35v5.2h-2.35zM256.20 479.69h2.35v5.2h-2.35zM259.65 479.69h2.35v5.2h-2.35zM263.10 479.69h2.35v5.2h-2.35zM266.55 479.69h2.35v5.2h-2.35zM270.00 479.69h2.35v5.2h-2.35zM273.45 479.69h2.35v5.2h-2.35zM276.90 479.69h2.35v5.2h-2.35zM280.35 479.69h2.35v5.2h-2.35zM283.80 479.69h2.35v5.2h-2.35zM287.25 479.69h2.35v5.2h-2.35zM290.70 479.69h2.35v5.2h-2.35zM294.15 479.69h2.35v5.2h-2.35zM297.60 479.69h2.35v5.2h-2.35zM301.05 479.69h2.35v5.2h-2.35zM304.50 479.69h2.35v5.2h-2.35zM307.95 479.69h2.35v5.2h-2.35zM311.40 479.69h2.35v5.2h-2.35zM314.85 479.69h2.35v5.2h-2.35zM318.30 479.69h2.35v5.2h-2.35zM321.75 479.69h2.35v5.2h-2.35zM325.20 479.69h2.35v5.2h-2.35zM328.65 479.69h2.35v5.2h-2.35zM332.10 479.69h2.35v5.2h-2.35zM335.55 479.69h2.35v5.2h-2.35zM339.00 479.69h2.35v5.2h-2.35zM342.45 479.69h2.35v5.2h-2.35zM345.90 479.69h2.35v5.2h-2.35zM349.35 479.69h2.35v5.2h-2.35zM352.80 479.69h2.35v5.2h-2.35zM356.25 479.69h2.35v5.2h-2.35zM359.70 479.69h2.35v5.2h-2.35zM363.15 479.69h2.35v5.2h-2.35zM366.60 479.69h2.35v5.2h-2.35zM370.05 479.69h2.35v5.2h-2.35zM373.50 479.69h2.35v5.2h-2.35zM376.95 479.69h2.35v5.2h-2.35zM380.40 479.69h2.35v5.2h-2.35zM383.85 479.69h2.35v5.2h-2.35zM14.70 486.10h2.35v5.2h-2.35zM18.15 486.10h2.35v5.2h-2.35zM21.60 486.10h2.35v5.2h-2.35zM25.05 486.10h2.35v5.2h-2.35zM28.50 486.10h2.35v5.2h-2.35zM31.95 486.10h2.35v5.2h-2.35zM35.40 486.10h2.35v5.2h-2.35zM38.85 486.10h2.35v5.2h-2.35zM42.30 486.10h2.35v5.2h-2.35zM45.75 486.10h2.35v5.2h-2.35zM49.20 486.10h2.35v5.2h-2.35zM52.65 486.10h2.35v5.2h-2.35zM56.10 486.10h2.35v5.2h-2.35zM59.55 486.10h2.35v5.2h-2.35zM63.00 486.10h2.35v5.2h-2.35zM66.45 486.10h2.35v5.2h-2.35zM69.90 486.10h2.35v5.2h-2.35zM73.35 486.10h2.35v5.2h-2.35zM76.80 486.10h2.35v5.2h-2.35zM80.25 486.10h2.35v5.2h-2.35zM83.70 486.10h2.35v5.2h-2.35zM87.15 486.10h2.35v5.2h-2.35zM90.60 486.10h2.35v5.2h-2.35zM94.05 486.10h2.35v5.2h-2.35zM97.50 486.10h2.35v5.2h-2.35zM100.95 486.10h2.35v5.2h-2.35zM104.40 486.10h2.35v5.2h-2.35zM107.85 486.10h2.35v5.2h-2.35zM111.30 486.10h2.35v5.2h-2.35zM114.75 486.10h2.35v5.2h-2.35zM118.20 486.10h2.35v5.2h-2.35zM121.65 486.10h2.35v5.2h-2.35zM125.10 486.10h2.35v5.2h-2.35zM128.55 486.10h2.35v5.2h-2.35zM132.00 486.10h2.35v5.2h-2.35zM135.45 486.10h2.35v5.2h-2.35zM138.90 486.10h2.35v5.2h-2.35zM142.35 486.10h2.35v5.2h-2.35zM145.80 486.10h2.35v5.2h-2.35zM149.25 486.10h2.35v5.2h-2.35zM152.70 486.10h2.35v5.2h-2.35zM156.15 486.10h2.35v5.2h-2.35zM159.60 486.10h2.35v5.2h-2.35zM163.05 486.10h2.35v5.2h-2.35zM166.50 486.10h2.35v5.2h-2.35zM169.95 486.10h2.35v5.2h-2.35zM173.40 486.10h2.35v5.2h-2.35zM176.85 486.10h2.35v5.2h-2.35zM180.30 486.10h2.35v5.2h-2.35zM183.75 486.10h2.35v5.2h-2.35zM187.20 486.10h2.35v5.2h-2.35zM190.65 486.10h2.35v5.2h-2.35zM194.10 486.10h2.35v5.2h-2.35zM197.55 486.10h2.35v5.2h-2.35zM201.00 486.10h2.35v5.2h-2.35zM204.45 486.10h2.35v5.2h-2.35zM207.90 486.10h2.35v5.2h-2.35zM211.35 486.10h2.35v5.2h-2.35zM214.80 486.10h2.35v5.2h-2.35zM218.25 486.10h2.35v5.2h-2.35zM221.70 486.10h2.35v5.2h-2.35zM225.15 486.10h2.35v5.2h-2.35zM228.60 486.10h2.35v5.2h-2.35zM232.05 486.10h2.35v5.2h-2.35zM235.50 486.10h2.35v5.2h-2.35zM238.95 486.10h2.35v5.2h-2.35zM242.40 486.10h2.35v5.2h-2.35zM245.85 486.10h2.35v5.2h-2.35zM249.30 486.10h2.35v5.2h-2.35zM252.75 486.10h2.35v5.2h-2.35zM259.65 486.10h2.35v5.2h-2.35zM263.10 486.10h2.35v5.2h-2.35zM266.55 486.10h2.35v5.2h-2.35zM270.00 486.10h2.35v5.2h-2.35zM273.45 486.10h2.35v5.2h-2.35zM276.90 486.10h2.35v5.2h-2.35zM280.35 486.10h2.35v5.2h-2.35zM283.80 486.10h2.35v5.2h-2.35zM287.25 486.10h2.35v5.2h-2.35zM290.70 486.10h2.35v5.2h-2.35zM294.15 486.10h2.35v5.2h-2.35zM297.60 486.10h2.35v5.2h-2.35zM301.05 486.10h2.35v5.2h-2.35zM304.50 486.10h2.35v5.2h-2.35zM307.95 486.10h2.35v5.2h-2.35zM311.40 486.10h2.35v5.2h-2.35zM314.85 486.10h2.35v5.2h-2.35zM318.30 486.10h2.35v5.2h-2.35zM321.75 486.10h2.35v5.2h-2.35zM325.20 486.10h2.35v5.2h-2.35zM328.65 486.10h2.35v5.2h-2.35zM332.10 486.10h2.35v5.2h-2.35zM335.55 486.10h2.35v5.2h-2.35zM339.00 486.10h2.35v5.2h-2.35zM342.45 486.10h2.35v5.2h-2.35zM345.90 486.10h2.35v5.2h-2.35zM349.35 486.10h2.35v5.2h-2.35zM352.80 486.10h2.35v5.2h-2.35zM356.25 486.10h2.35v5.2h-2.35zM359.70 486.10h2.35v5.2h-2.35zM363.15 486.10h2.35v5.2h-2.35zM366.60 486.10h2.35v5.2h-2.35zM370.05 486.10h2.35v5.2h-2.35zM373.50 486.10h2.35v5.2h-2.35zM376.95 486.10h2.35v5.2h-2.35zM380.40 486.10h2.35v5.2h-2.35zM383.85 486.10h2.35v5.2h-2.35zM14.70 492.51h2.35v5.2h-2.35zM18.15 492.51h2.35v5.2h-2.35zM21.60 492.51h2.35v5.2h-2.35zM25.05 492.51h2.35v5.2h-2.35zM28.50 492.51h2.35v5.2h-2.35zM31.95 492.51h2.35v5.2h-2.35zM35.40 492.51h2.35v5.2h-2.35zM38.85 492.51h2.35v5.2h-2.35zM42.30 492.51h2.35v5.2h-2.35zM45.75 492.51h2.35v5.2h-2.35zM49.20 492.51h2.35v5.2h-2.35zM52.65 492.51h2.35v5.2h-2.35zM56.10 492.51h2.35v5.2h-2.35zM59.55 492.51h2.35v5.2h-2.35zM63.00 492.51h2.35v5.2h-2.35zM66.45 492.51h2.35v5.2h-2.35zM69.90 492.51h2.35v5.2h-2.35zM73.35 492.51h2.35v5.2h-2.35zM76.80 492.51h2.35v5.2h-2.35zM80.25 492.51h2.35v5.2h-2.35zM83.70 492.51h2.35v5.2h-2.35zM87.15 492.51h2.35v5.2h-2.35zM90.60 492.51h2.35v5.2h-2.35zM94.05 492.51h2.35v5.2h-2.35zM97.50 492.51h2.35v5.2h-2.35zM100.95 492.51h2.35v5.2h-2.35zM104.40 492.51h2.35v5.2h-2.35zM107.85 492.51h2.35v5.2h-2.35zM111.30 492.51h2.35v5.2h-2.35zM114.75 492.51h2.35v5.2h-2.35zM118.20 492.51h2.35v5.2h-2.35zM121.65 492.51h2.35v5.2h-2.35zM125.10 492.51h2.35v5.2h-2.35zM128.55 492.51h2.35v5.2h-2.35zM132.00 492.51h2.35v5.2h-2.35zM135.45 492.51h2.35v5.2h-2.35zM138.90 492.51h2.35v5.2h-2.35zM142.35 492.51h2.35v5.2h-2.35zM145.80 492.51h2.35v5.2h-2.35zM149.25 492.51h2.35v5.2h-2.35zM152.70 492.51h2.35v5.2h-2.35zM156.15 492.51h2.35v5.2h-2.35zM159.60 492.51h2.35v5.2h-2.35zM163.05 492.51h2.35v5.2h-2.35zM166.50 492.51h2.35v5.2h-2.35zM169.95 492.51h2.35v5.2h-2.35zM173.40 492.51h2.35v5.2h-2.35zM176.85 492.51h2.35v5.2h-2.35zM180.30 492.51h2.35v5.2h-2.35zM187.20 492.51h2.35v5.2h-2.35zM190.65 492.51h2.35v5.2h-2.35zM194.10 492.51h2.35v5.2h-2.35zM197.55 492.51h2.35v5.2h-2.35zM201.00 492.51h2.35v5.2h-2.35zM204.45 492.51h2.35v5.2h-2.35zM207.90 492.51h2.35v5.2h-2.35zM211.35 492.51h2.35v5.2h-2.35zM214.80 492.51h2.35v5.2h-2.35zM218.25 492.51h2.35v5.2h-2.35zM221.70 492.51h2.35v5.2h-2.35zM225.15 492.51h2.35v5.2h-2.35zM228.60 492.51h2.35v5.2h-2.35zM232.05 492.51h2.35v5.2h-2.35zM235.50 492.51h2.35v5.2h-2.35zM238.95 492.51h2.35v5.2h-2.35zM242.40 492.51h2.35v5.2h-2.35zM245.85 492.51h2.35v5.2h-2.35zM249.30 492.51h2.35v5.2h-2.35zM252.75 492.51h2.35v5.2h-2.35zM256.20 492.51h2.35v5.2h-2.35zM259.65 492.51h2.35v5.2h-2.35zM263.10 492.51h2.35v5.2h-2.35zM266.55 492.51h2.35v5.2h-2.35zM270.00 492.51h2.35v5.2h-2.35zM273.45 492.51h2.35v5.2h-2.35zM276.90 492.51h2.35v5.2h-2.35zM280.35 492.51h2.35v5.2h-2.35zM283.80 492.51h2.35v5.2h-2.35zM287.25 492.51h2.35v5.2h-2.35zM290.70 492.51h2.35v5.2h-2.35zM294.15 492.51h2.35v5.2h-2.35zM297.60 492.51h2.35v5.2h-2.35zM301.05 492.51h2.35v5.2h-2.35zM304.50 492.51h2.35v5.2h-2.35zM307.95 492.51h2.35v5.2h-2.35zM311.40 492.51h2.35v5.2h-2.35zM314.85 492.51h2.35v5.2h-2.35zM318.30 492.51h2.35v5.2h-2.35zM321.75 492.51h2.35v5.2h-2.35zM325.20 492.51h2.35v5.2h-2.35zM328.65 492.51h2.35v5.2h-2.35zM332.10 492.51h2.35v5.2h-2.35zM335.55 492.51h2.35v5.2h-2.35zM339.00 492.51h2.35v5.2h-2.35zM342.45 492.51h2.35v5.2h-2.35zM345.90 492.51h2.35v5.2h-2.35zM349.35 492.51h2.35v5.2h-2.35zM352.80 492.51h2.35v5.2h-2.35zM356.25 492.51h2.35v5.2h-2.35zM359.70 492.51h2.35v5.2h-2.35zM363.15 492.51h2.35v5.2h-2.35zM366.60 492.51h2.35v5.2h-2.35zM370.05 492.51h2.35v5.2h-2.35zM373.50 492.51h2.35v5.2h-2.35zM376.95 492.51h2.35v5.2h-2.35zM380.40 492.51h2.35v5.2h-2.35zM383.85 492.51h2.35v5.2h-2.35zM14.70 498.92h2.35v5.2h-2.35zM18.15 498.92h2.35v5.2h-2.35zM21.60 498.92h2.35v5.2h-2.35zM25.05 498.92h2.35v5.2h-2.35zM28.50 498.92h2.35v5.2h-2.35zM31.95 498.92h2.35v5.2h-2.35zM35.40 498.92h2.35v5.2h-2.35zM38.85 498.92h2.35v5.2h-2.35zM42.30 498.92h2.35v5.2h-2.35zM45.75 498.92h2.35v5.2h-2.35zM49.20 498.92h2.35v5.2h-2.35zM52.65 498.92h2.35v5.2h-2.35zM56.10 498.92h2.35v5.2h-2.35zM59.55 498.92h2.35v5.2h-2.35zM63.00 498.92h2.35v5.2h-2.35zM66.45 498.92h2.35v5.2h-2.35zM69.90 498.92h2.35v5.2h-2.35zM73.35 498.92h2.35v5.2h-2.35zM76.80 498.92h2.35v5.2h-2.35zM80.25 498.92h2.35v5.2h-2.35zM83.70 498.92h2.35v5.2h-2.35zM87.15 498.92h2.35v5.2h-2.35zM90.60 498.92h2.35v5.2h-2.35zM94.05 498.92h2.35v5.2h-2.35zM97.50 498.92h2.35v5.2h-2.35zM100.95 498.92h2.35v5.2h-2.35zM104.40 498.92h2.35v5.2h-2.35zM107.85 498.92h2.35v5.2h-2.35zM111.30 498.92h2.35v5.2h-2.35zM114.75 498.92h2.35v5.2h-2.35zM118.20 498.92h2.35v5.2h-2.35zM121.65 498.92h2.35v5.2h-2.35zM125.10 498.92h2.35v5.2h-2.35zM128.55 498.92h2.35v5.2h-2.35zM132.00 498.92h2.35v5.2h-2.35zM135.45 498.92h2.35v5.2h-2.35zM138.90 498.92h2.35v5.2h-2.35zM142.35 498.92h2.35v5.2h-2.35zM145.80 498.92h2.35v5.2h-2.35zM149.25 498.92h2.35v5.2h-2.35zM152.70 498.92h2.35v5.2h-2.35zM156.15 498.92h2.35v5.2h-2.35zM159.60 498.92h2.35v5.2h-2.35zM163.05 498.92h2.35v5.2h-2.35zM166.50 498.92h2.35v5.2h-2.35zM169.95 498.92h2.35v5.2h-2.35zM173.40 498.92h2.35v5.2h-2.35zM176.85 498.92h2.35v5.2h-2.35zM180.30 498.92h2.35v5.2h-2.35zM183.75 498.92h2.35v5.2h-2.35zM187.20 498.92h2.35v5.2h-2.35zM190.65 498.92h2.35v5.2h-2.35zM194.10 498.92h2.35v5.2h-2.35zM197.55 498.92h2.35v5.2h-2.35zM201.00 498.92h2.35v5.2h-2.35zM204.45 498.92h2.35v5.2h-2.35zM207.90 498.92h2.35v5.2h-2.35zM211.35 498.92h2.35v5.2h-2.35zM214.80 498.92h2.35v5.2h-2.35zM218.25 498.92h2.35v5.2h-2.35zM221.70 498.92h2.35v5.2h-2.35zM225.15 498.92h2.35v5.2h-2.35zM228.60 498.92h2.35v5.2h-2.35zM232.05 498.92h2.35v5.2h-2.35zM235.50 498.92h2.35v5.2h-2.35zM238.95 498.92h2.35v5.2h-2.35zM242.40 498.92h2.35v5.2h-2.35zM245.85 498.92h2.35v5.2h-2.35zM249.30 498.92h2.35v5.2h-2.35zM252.75 498.92h2.35v5.2h-2.35zM256.20 498.92h2.35v5.2h-2.35zM259.65 498.92h2.35v5.2h-2.35zM263.10 498.92h2.35v5.2h-2.35zM266.55 498.92h2.35v5.2h-2.35zM270.00 498.92h2.35v5.2h-2.35zM273.45 498.92h2.35v5.2h-2.35zM276.90 498.92h2.35v5.2h-2.35zM280.35 498.92h2.35v5.2h-2.35zM283.80 498.92h2.35v5.2h-2.35zM287.25 498.92h2.35v5.2h-2.35zM290.70 498.92h2.35v5.2h-2.35zM294.15 498.92h2.35v5.2h-2.35zM297.60 498.92h2.35v5.2h-2.35zM301.05 498.92h2.35v5.2h-2.35zM304.50 498.92h2.35v5.2h-2.35zM307.95 498.92h2.35v5.2h-2.35zM311.40 498.92h2.35v5.2h-2.35zM314.85 498.92h2.35v5.2h-2.35zM318.30 498.92h2.35v5.2h-2.35zM321.75 498.92h2.35v5.2h-2.35zM325.20 498.92h2.35v5.2h-2.35zM328.65 498.92h2.35v5.2h-2.35zM332.10 498.92h2.35v5.2h-2.35zM335.55 498.92h2.35v5.2h-2.35zM339.00 498.92h2.35v5.2h-2.35zM342.45 498.92h2.35v5.2h-2.35zM345.90 498.92h2.35v5.2h-2.35zM349.35 498.92h2.35v5.2h-2.35zM352.80 498.92h2.35v5.2h-2.35zM356.25 498.92h2.35v5.2h-2.35zM359.70 498.92h2.35v5.2h-2.35zM363.15 498.92h2.35v5.2h-2.35zM366.60 498.92h2.35v5.2h-2.35zM370.05 498.92h2.35v5.2h-2.35zM373.50 498.92h2.35v5.2h-2.35zM380.40 498.92h2.35v5.2h-2.35zM383.85 498.92h2.35v5.2h-2.35zM14.70 505.33h2.35v5.2h-2.35zM18.15 505.33h2.35v5.2h-2.35zM21.60 505.33h2.35v5.2h-2.35zM25.05 505.33h2.35v5.2h-2.35zM28.50 505.33h2.35v5.2h-2.35zM31.95 505.33h2.35v5.2h-2.35zM35.40 505.33h2.35v5.2h-2.35zM38.85 505.33h2.35v5.2h-2.35zM42.30 505.33h2.35v5.2h-2.35zM45.75 505.33h2.35v5.2h-2.35zM49.20 505.33h2.35v5.2h-2.35zM52.65 505.33h2.35v5.2h-2.35zM56.10 505.33h2.35v5.2h-2.35zM59.55 505.33h2.35v5.2h-2.35zM63.00 505.33h2.35v5.2h-2.35zM66.45 505.33h2.35v5.2h-2.35zM69.90 505.33h2.35v5.2h-2.35zM73.35 505.33h2.35v5.2h-2.35zM76.80 505.33h2.35v5.2h-2.35zM80.25 505.33h2.35v5.2h-2.35zM83.70 505.33h2.35v5.2h-2.35zM87.15 505.33h2.35v5.2h-2.35zM90.60 505.33h2.35v5.2h-2.35zM94.05 505.33h2.35v5.2h-2.35zM97.50 505.33h2.35v5.2h-2.35zM100.95 505.33h2.35v5.2h-2.35zM104.40 505.33h2.35v5.2h-2.35zM107.85 505.33h2.35v5.2h-2.35zM111.30 505.33h2.35v5.2h-2.35zM114.75 505.33h2.35v5.2h-2.35zM118.20 505.33h2.35v5.2h-2.35zM121.65 505.33h2.35v5.2h-2.35zM125.10 505.33h2.35v5.2h-2.35zM128.55 505.33h2.35v5.2h-2.35zM132.00 505.33h2.35v5.2h-2.35zM135.45 505.33h2.35v5.2h-2.35zM138.90 505.33h2.35v5.2h-2.35zM142.35 505.33h2.35v5.2h-2.35zM145.80 505.33h2.35v5.2h-2.35zM149.25 505.33h2.35v5.2h-2.35zM152.70 505.33h2.35v5.2h-2.35zM156.15 505.33h2.35v5.2h-2.35zM159.60 505.33h2.35v5.2h-2.35zM163.05 505.33h2.35v5.2h-2.35zM166.50 505.33h2.35v5.2h-2.35zM169.95 505.33h2.35v5.2h-2.35zM173.40 505.33h2.35v5.2h-2.35zM176.85 505.33h2.35v5.2h-2.35zM180.30 505.33h2.35v5.2h-2.35zM183.75 505.33h2.35v5.2h-2.35zM187.20 505.33h2.35v5.2h-2.35zM190.65 505.33h2.35v5.2h-2.35zM194.10 505.33h2.35v5.2h-2.35zM197.55 505.33h2.35v5.2h-2.35zM201.00 505.33h2.35v5.2h-2.35zM204.45 505.33h2.35v5.2h-2.35zM207.90 505.33h2.35v5.2h-2.35zM211.35 505.33h2.35v5.2h-2.35zM214.80 505.33h2.35v5.2h-2.35zM218.25 505.33h2.35v5.2h-2.35zM221.70 505.33h2.35v5.2h-2.35zM225.15 505.33h2.35v5.2h-2.35zM228.60 505.33h2.35v5.2h-2.35zM232.05 505.33h2.35v5.2h-2.35zM235.50 505.33h2.35v5.2h-2.35zM238.95 505.33h2.35v5.2h-2.35zM242.40 505.33h2.35v5.2h-2.35zM245.85 505.33h2.35v5.2h-2.35zM249.30 505.33h2.35v5.2h-2.35zM252.75 505.33h2.35v5.2h-2.35zM256.20 505.33h2.35v5.2h-2.35zM259.65 505.33h2.35v5.2h-2.35zM263.10 505.33h2.35v5.2h-2.35zM266.55 505.33h2.35v5.2h-2.35zM270.00 505.33h2.35v5.2h-2.35zM273.45 505.33h2.35v5.2h-2.35zM276.90 505.33h2.35v5.2h-2.35zM280.35 505.33h2.35v5.2h-2.35zM283.80 505.33h2.35v5.2h-2.35zM290.70 505.33h2.35v5.2h-2.35zM294.15 505.33h2.35v5.2h-2.35zM297.60 505.33h2.35v5.2h-2.35zM301.05 505.33h2.35v5.2h-2.35zM304.50 505.33h2.35v5.2h-2.35zM307.95 505.33h2.35v5.2h-2.35zM311.40 505.33h2.35v5.2h-2.35zM314.85 505.33h2.35v5.2h-2.35zM318.30 505.33h2.35v5.2h-2.35zM321.75 505.33h2.35v5.2h-2.35zM325.20 505.33h2.35v5.2h-2.35zM328.65 505.33h2.35v5.2h-2.35zM335.55 505.33h2.35v5.2h-2.35zM339.00 505.33h2.35v5.2h-2.35zM342.45 505.33h2.35v5.2h-2.35zM345.90 505.33h2.35v5.2h-2.35zM349.35 505.33h2.35v5.2h-2.35zM352.80 505.33h2.35v5.2h-2.35zM356.25 505.33h2.35v5.2h-2.35zM359.70 505.33h2.35v5.2h-2.35zM363.15 505.33h2.35v5.2h-2.35zM366.60 505.33h2.35v5.2h-2.35zM370.05 505.33h2.35v5.2h-2.35zM373.50 505.33h2.35v5.2h-2.35zM376.95 505.33h2.35v5.2h-2.35zM380.40 505.33h2.35v5.2h-2.35zM383.85 505.33h2.35v5.2h-2.35zM14.70 511.74h2.35v5.2h-2.35zM18.15 511.74h2.35v5.2h-2.35zM21.60 511.74h2.35v5.2h-2.35zM25.05 511.74h2.35v5.2h-2.35zM31.95 511.74h2.35v5.2h-2.35zM35.40 511.74h2.35v5.2h-2.35zM38.85 511.74h2.35v5.2h-2.35zM42.30 511.74h2.35v5.2h-2.35zM45.75 511.74h2.35v5.2h-2.35zM49.20 511.74h2.35v5.2h-2.35zM52.65 511.74h2.35v5.2h-2.35zM56.10 511.74h2.35v5.2h-2.35zM59.55 511.74h2.35v5.2h-2.35zM63.00 511.74h2.35v5.2h-2.35zM66.45 511.74h2.35v5.2h-2.35zM69.90 511.74h2.35v5.2h-2.35zM73.35 511.74h2.35v5.2h-2.35zM76.80 511.74h2.35v5.2h-2.35zM80.25 511.74h2.35v5.2h-2.35zM83.70 511.74h2.35v5.2h-2.35zM87.15 511.74h2.35v5.2h-2.35zM94.05 511.74h2.35v5.2h-2.35zM97.50 511.74h2.35v5.2h-2.35zM100.95 511.74h2.35v5.2h-2.35zM104.40 511.74h2.35v5.2h-2.35zM107.85 511.74h2.35v5.2h-2.35zM111.30 511.74h2.35v5.2h-2.35zM114.75 511.74h2.35v5.2h-2.35zM118.20 511.74h2.35v5.2h-2.35zM121.65 511.74h2.35v5.2h-2.35zM125.10 511.74h2.35v5.2h-2.35zM128.55 511.74h2.35v5.2h-2.35zM132.00 511.74h2.35v5.2h-2.35zM138.90 511.74h2.35v5.2h-2.35zM142.35 511.74h2.35v5.2h-2.35zM145.80 511.74h2.35v5.2h-2.35zM149.25 511.74h2.35v5.2h-2.35zM152.70 511.74h2.35v5.2h-2.35zM156.15 511.74h2.35v5.2h-2.35zM159.60 511.74h2.35v5.2h-2.35zM163.05 511.74h2.35v5.2h-2.35zM166.50 511.74h2.35v5.2h-2.35zM169.95 511.74h2.35v5.2h-2.35zM173.40 511.74h2.35v5.2h-2.35zM176.85 511.74h2.35v5.2h-2.35zM180.30 511.74h2.35v5.2h-2.35zM183.75 511.74h2.35v5.2h-2.35zM187.20 511.74h2.35v5.2h-2.35zM190.65 511.74h2.35v5.2h-2.35zM194.10 511.74h2.35v5.2h-2.35zM201.00 511.74h2.35v5.2h-2.35zM204.45 511.74h2.35v5.2h-2.35zM207.90 511.74h2.35v5.2h-2.35zM211.35 511.74h2.35v5.2h-2.35zM214.80 511.74h2.35v5.2h-2.35zM218.25 511.74h2.35v5.2h-2.35zM221.70 511.74h2.35v5.2h-2.35zM225.15 511.74h2.35v5.2h-2.35zM228.60 511.74h2.35v5.2h-2.35zM232.05 511.74h2.35v5.2h-2.35zM235.50 511.74h2.35v5.2h-2.35zM238.95 511.74h2.35v5.2h-2.35zM242.40 511.74h2.35v5.2h-2.35zM245.85 511.74h2.35v5.2h-2.35zM249.30 511.74h2.35v5.2h-2.35zM252.75 511.74h2.35v5.2h-2.35zM256.20 511.74h2.35v5.2h-2.35zM259.65 511.74h2.35v5.2h-2.35zM263.10 511.74h2.35v5.2h-2.35zM266.55 511.74h2.35v5.2h-2.35zM270.00 511.74h2.35v5.2h-2.35zM273.45 511.74h2.35v5.2h-2.35zM276.90 511.74h2.35v5.2h-2.35zM280.35 511.74h2.35v5.2h-2.35zM283.80 511.74h2.35v5.2h-2.35zM287.25 511.74h2.35v5.2h-2.35zM290.70 511.74h2.35v5.2h-2.35zM294.15 511.74h2.35v5.2h-2.35zM297.60 511.74h2.35v5.2h-2.35zM301.05 511.74h2.35v5.2h-2.35zM304.50 511.74h2.35v5.2h-2.35zM307.95 511.74h2.35v5.2h-2.35zM311.40 511.74h2.35v5.2h-2.35zM314.85 511.74h2.35v5.2h-2.35zM318.30 511.74h2.35v5.2h-2.35zM321.75 511.74h2.35v5.2h-2.35zM325.20 511.74h2.35v5.2h-2.35zM328.65 511.74h2.35v5.2h-2.35zM335.55 511.74h2.35v5.2h-2.35zM339.00 511.74h2.35v5.2h-2.35zM342.45 511.74h2.35v5.2h-2.35zM345.90 511.74h2.35v5.2h-2.35zM356.25 511.74h2.35v5.2h-2.35zM359.70 511.74h2.35v5.2h-2.35zM363.15 511.74h2.35v5.2h-2.35zM366.60 511.74h2.35v5.2h-2.35zM370.05 511.74h2.35v5.2h-2.35zM373.50 511.74h2.35v5.2h-2.35zM380.40 511.74h2.35v5.2h-2.35zM383.85 511.74h2.35v5.2h-2.35z"/>
<path fill="#0d0d0d" d="M18.05 357.70h2.55v5.6h-2.55zM21.50 357.70h2.55v5.6h-2.55zM49.10 357.70h2.55v5.6h-2.55zM52.55 357.70h2.55v5.6h-2.55zM56.00 357.70h2.55v5.6h-2.55zM59.45 357.70h2.55v5.6h-2.55zM66.35 357.70h2.55v5.6h-2.55zM73.25 357.70h2.55v5.6h-2.55zM76.70 357.70h2.55v5.6h-2.55zM80.15 357.70h2.55v5.6h-2.55zM97.40 357.70h2.55v5.6h-2.55zM100.85 357.70h2.55v5.6h-2.55zM104.30 357.70h2.55v5.6h-2.55zM114.65 357.70h2.55v5.6h-2.55zM125.00 357.70h2.55v5.6h-2.55zM128.45 357.70h2.55v5.6h-2.55zM131.90 357.70h2.55v5.6h-2.55zM135.35 357.70h2.55v5.6h-2.55zM142.25 357.70h2.55v5.6h-2.55zM162.95 357.70h2.55v5.6h-2.55zM383.75 357.70h2.55v5.6h-2.55zM90.50 364.11h2.55v5.6h-2.55zM131.90 370.52h2.55v5.6h-2.55zM18.05 376.93h2.55v5.6h-2.55zM69.80 376.93h2.55v5.6h-2.55zM111.20 376.93h2.55v5.6h-2.55zM118.10 376.93h2.55v5.6h-2.55zM190.55 376.93h2.55v5.6h-2.55zM73.25 383.34h2.55v5.6h-2.55zM325.10 383.34h2.55v5.6h-2.55zM59.45 389.75h2.55v5.6h-2.55zM69.80 389.75h2.55v5.6h-2.55zM249.20 389.75h2.55v5.6h-2.55zM294.05 389.75h2.55v5.6h-2.55zM56.00 396.16h2.55v5.6h-2.55zM59.45 396.16h2.55v5.6h-2.55zM69.80 396.16h2.55v5.6h-2.55zM197.45 396.16h2.55v5.6h-2.55zM249.20 396.16h2.55v5.6h-2.55zM294.05 396.16h2.55v5.6h-2.55zM18.05 402.57h2.55v5.6h-2.55zM24.95 402.57h2.55v5.6h-2.55zM38.75 402.57h2.55v5.6h-2.55zM42.20 402.57h2.55v5.6h-2.55zM52.55 402.57h2.55v5.6h-2.55zM56.00 402.57h2.55v5.6h-2.55zM80.15 402.57h2.55v5.6h-2.55zM83.60 402.57h2.55v5.6h-2.55zM87.05 402.57h2.55v5.6h-2.55zM97.40 402.57h2.55v5.6h-2.55zM100.85 402.57h2.55v5.6h-2.55zM118.10 402.57h2.55v5.6h-2.55zM131.90 402.57h2.55v5.6h-2.55zM142.25 402.57h2.55v5.6h-2.55zM145.70 402.57h2.55v5.6h-2.55zM156.05 402.57h2.55v5.6h-2.55zM169.85 402.57h2.55v5.6h-2.55zM190.55 402.57h2.55v5.6h-2.55zM225.05 402.57h2.55v5.6h-2.55zM259.55 402.57h2.55v5.6h-2.55zM269.90 402.57h2.55v5.6h-2.55zM307.85 402.57h2.55v5.6h-2.55zM325.10 402.57h2.55v5.6h-2.55zM328.55 402.57h2.55v5.6h-2.55zM345.80 402.57h2.55v5.6h-2.55zM156.05 408.98h2.55v5.6h-2.55zM242.30 408.98h2.55v5.6h-2.55zM325.10 408.98h2.55v5.6h-2.55zM42.20 415.39h2.55v5.6h-2.55zM56.00 415.39h2.55v5.6h-2.55zM80.15 415.39h2.55v5.6h-2.55zM93.95 415.39h2.55v5.6h-2.55zM135.35 415.39h2.55v5.6h-2.55zM187.10 415.39h2.55v5.6h-2.55zM194.00 415.39h2.55v5.6h-2.55zM200.90 415.39h2.55v5.6h-2.55zM218.15 415.39h2.55v5.6h-2.55zM318.20 415.39h2.55v5.6h-2.55zM335.45 415.39h2.55v5.6h-2.55zM380.30 415.39h2.55v5.6h-2.55zM24.95 421.80h2.55v5.6h-2.55zM80.15 421.80h2.55v5.6h-2.55zM87.05 421.80h2.55v5.6h-2.55zM114.65 421.80h2.55v5.6h-2.55zM118.10 421.80h2.55v5.6h-2.55zM135.35 421.80h2.55v5.6h-2.55zM159.50 421.80h2.55v5.6h-2.55zM176.75 421.80h2.55v5.6h-2.55zM190.55 421.80h2.55v5.6h-2.55zM228.50 421.80h2.55v5.6h-2.55zM238.85 421.80h2.55v5.6h-2.55zM249.20 421.80h2.55v5.6h-2.55zM266.45 421.80h2.55v5.6h-2.55zM273.35 421.80h2.55v5.6h-2.55zM283.70 421.80h2.55v5.6h-2.55zM328.55 421.80h2.55v5.6h-2.55zM345.80 421.80h2.55v5.6h-2.55zM93.95 428.21h2.55v5.6h-2.55zM383.75 428.21h2.55v5.6h-2.55zM328.55 434.62h2.55v5.6h-2.55zM376.85 434.62h2.55v5.6h-2.55zM138.80 441.03h2.55v5.6h-2.55zM338.90 441.03h2.55v5.6h-2.55zM152.60 447.44h2.55v5.6h-2.55zM266.45 447.44h2.55v5.6h-2.55zM297.50 447.44h2.55v5.6h-2.55zM131.90 453.85h2.55v5.6h-2.55zM135.35 453.85h2.55v5.6h-2.55zM197.45 453.85h2.55v5.6h-2.55zM235.40 453.85h2.55v5.6h-2.55zM311.30 453.85h2.55v5.6h-2.55zM173.30 460.26h2.55v5.6h-2.55zM204.35 460.26h2.55v5.6h-2.55zM24.95 466.67h2.55v5.6h-2.55zM38.75 466.67h2.55v5.6h-2.55zM173.30 466.67h2.55v5.6h-2.55zM204.35 466.67h2.55v5.6h-2.55zM211.25 466.67h2.55v5.6h-2.55zM269.90 466.67h2.55v5.6h-2.55zM304.40 473.08h2.55v5.6h-2.55zM345.80 473.08h2.55v5.6h-2.55zM349.25 473.08h2.55v5.6h-2.55zM197.45 479.49h2.55v5.6h-2.55zM256.10 485.90h2.55v5.6h-2.55zM183.65 492.31h2.55v5.6h-2.55zM376.85 498.72h2.55v5.6h-2.55zM287.15 505.13h2.55v5.6h-2.55zM332.00 505.13h2.55v5.6h-2.55zM28.40 511.54h2.55v5.6h-2.55zM90.50 511.54h2.55v5.6h-2.55zM135.35 511.54h2.55v5.6h-2.55zM197.45 511.54h2.55v5.6h-2.55zM332.00 511.54h2.55v5.6h-2.55zM349.25 511.54h2.55v5.6h-2.55zM352.70 511.54h2.55v5.6h-2.55zM376.85 511.54h2.55v5.6h-2.55z"/>
<path fill="#dedede" d="M14.70 524.56h2.35v5.2h-2.35zM18.15 524.56h2.35v5.2h-2.35zM21.60 524.56h2.35v5.2h-2.35zM25.05 524.56h2.35v5.2h-2.35zM28.50 524.56h2.35v5.2h-2.35zM31.95 524.56h2.35v5.2h-2.35zM35.40 524.56h2.35v5.2h-2.35zM38.85 524.56h2.35v5.2h-2.35zM42.30 524.56h2.35v5.2h-2.35zM45.75 524.56h2.35v5.2h-2.35zM49.20 524.56h2.35v5.2h-2.35zM52.65 524.56h2.35v5.2h-2.35zM56.10 524.56h2.35v5.2h-2.35zM59.55 524.56h2.35v5.2h-2.35zM63.00 524.56h2.35v5.2h-2.35zM66.45 524.56h2.35v5.2h-2.35zM69.90 524.56h2.35v5.2h-2.35zM73.35 524.56h2.35v5.2h-2.35zM80.25 524.56h2.35v5.2h-2.35zM87.15 524.56h2.35v5.2h-2.35zM90.60 524.56h2.35v5.2h-2.35zM97.50 524.56h2.35v5.2h-2.35zM100.95 524.56h2.35v5.2h-2.35zM104.40 524.56h2.35v5.2h-2.35zM107.85 524.56h2.35v5.2h-2.35zM111.30 524.56h2.35v5.2h-2.35zM121.65 524.56h2.35v5.2h-2.35zM125.10 524.56h2.35v5.2h-2.35zM128.55 524.56h2.35v5.2h-2.35zM132.00 524.56h2.35v5.2h-2.35zM135.45 524.56h2.35v5.2h-2.35zM142.35 524.56h2.35v5.2h-2.35zM149.25 524.56h2.35v5.2h-2.35zM152.70 524.56h2.35v5.2h-2.35zM156.15 524.56h2.35v5.2h-2.35zM166.50 524.56h2.35v5.2h-2.35zM169.95 524.56h2.35v5.2h-2.35zM176.85 524.56h2.35v5.2h-2.35zM180.30 524.56h2.35v5.2h-2.35zM194.10 524.56h2.35v5.2h-2.35zM197.55 524.56h2.35v5.2h-2.35zM207.90 524.56h2.35v5.2h-2.35zM218.25 524.56h2.35v5.2h-2.35zM221.70 524.56h2.35v5.2h-2.35zM225.15 524.56h2.35v5.2h-2.35zM228.60 524.56h2.35v5.2h-2.35zM238.95 524.56h2.35v5.2h-2.35zM249.30 524.56h2.35v5.2h-2.35zM259.65 524.56h2.35v5.2h-2.35zM270.00 524.56h2.35v5.2h-2.35zM283.80 524.56h2.35v5.2h-2.35zM290.70 524.56h2.35v5.2h-2.35zM294.15 524.56h2.35v5.2h-2.35zM307.95 524.56h2.35v5.2h-2.35zM314.85 524.56h2.35v5.2h-2.35zM318.30 524.56h2.35v5.2h-2.35zM325.20 524.56h2.35v5.2h-2.35zM349.35 524.56h2.35v5.2h-2.35zM352.80 524.56h2.35v5.2h-2.35zM359.70 524.56h2.35v5.2h-2.35zM363.15 524.56h2.35v5.2h-2.35zM370.05 524.56h2.35v5.2h-2.35zM14.70 530.97h2.35v5.2h-2.35zM31.95 530.97h2.35v5.2h-2.35zM38.85 530.97h2.35v5.2h-2.35zM45.75 530.97h2.35v5.2h-2.35zM52.65 530.97h2.35v5.2h-2.35zM56.10 530.97h2.35v5.2h-2.35zM66.45 530.97h2.35v5.2h-2.35zM76.80 530.97h2.35v5.2h-2.35zM80.25 530.97h2.35v5.2h-2.35zM94.05 530.97h2.35v5.2h-2.35zM104.40 530.97h2.35v5.2h-2.35zM107.85 530.97h2.35v5.2h-2.35zM111.30 530.97h2.35v5.2h-2.35zM121.65 530.97h2.35v5.2h-2.35zM125.10 530.97h2.35v5.2h-2.35zM135.45 530.97h2.35v5.2h-2.35zM145.80 530.97h2.35v5.2h-2.35zM156.15 530.97h2.35v5.2h-2.35zM173.40 530.97h2.35v5.2h-2.35zM180.30 530.97h2.35v5.2h-2.35zM183.75 530.97h2.35v5.2h-2.35zM190.65 530.97h2.35v5.2h-2.35zM197.55 530.97h2.35v5.2h-2.35zM204.45 530.97h2.35v5.2h-2.35zM211.35 530.97h2.35v5.2h-2.35zM214.80 530.97h2.35v5.2h-2.35zM242.40 530.97h2.35v5.2h-2.35zM256.20 530.97h2.35v5.2h-2.35zM270.00 530.97h2.35v5.2h-2.35zM287.25 530.97h2.35v5.2h-2.35zM294.15 530.97h2.35v5.2h-2.35zM307.95 530.97h2.35v5.2h-2.35zM311.40 530.97h2.35v5.2h-2.35zM325.20 530.97h2.35v5.2h-2.35zM332.10 530.97h2.35v5.2h-2.35zM335.55 530.97h2.35v5.2h-2.35zM339.00 530.97h2.35v5.2h-2.35zM356.25 530.97h2.35v5.2h-2.35zM363.15 530.97h2.35v5.2h-2.35zM14.70 537.38h2.35v5.2h-2.35zM18.15 537.38h2.35v5.2h-2.35zM21.60 537.38h2.35v5.2h-2.35zM25.05 537.38h2.35v5.2h-2.35zM28.50 537.38h2.35v5.2h-2.35zM31.95 537.38h2.35v5.2h-2.35zM35.40 537.38h2.35v5.2h-2.35zM38.85 537.38h2.35v5.2h-2.35zM42.30 537.38h2.35v5.2h-2.35zM45.75 537.38h2.35v5.2h-2.35zM49.20 537.38h2.35v5.2h-2.35zM52.65 537.38h2.35v5.2h-2.35zM56.10 537.38h2.35v5.2h-2.35zM59.55 537.38h2.35v5.2h-2.35zM63.00 537.38h2.35v5.2h-2.35zM66.45 537.38h2.35v5.2h-2.35zM69.90 537.38h2.35v5.2h-2.35zM73.35 537.38h2.35v5.2h-2.35zM76.80 537.38h2.35v5.2h-2.35zM80.25 537.38h2.35v5.2h-2.35zM83.70 537.38h2.35v5.2h-2.35zM87.15 537.38h2.35v5.2h-2.35zM90.60 537.38h2.35v5.2h-2.35zM94.05 537.38h2.35v5.2h-2.35zM97.50 537.38h2.35v5.2h-2.35zM100.95 537.38h2.35v5.2h-2.35zM104.40 537.38h2.35v5.2h-2.35zM107.85 537.38h2.35v5.2h-2.35zM111.30 537.38h2.35v5.2h-2.35zM114.75 537.38h2.35v5.2h-2.35zM118.20 537.38h2.35v5.2h-2.35zM121.65 537.38h2.35v5.2h-2.35zM125.10 537.38h2.35v5.2h-2.35zM128.55 537.38h2.35v5.2h-2.35zM132.00 537.38h2.35v5.2h-2.35zM135.45 537.38h2.35v5.2h-2.35zM138.90 537.38h2.35v5.2h-2.35zM142.35 537.38h2.35v5.2h-2.35zM145.80 537.38h2.35v5.2h-2.35zM149.25 537.38h2.35v5.2h-2.35zM152.70 537.38h2.35v5.2h-2.35zM156.15 537.38h2.35v5.2h-2.35zM159.60 537.38h2.35v5.2h-2.35zM163.05 537.38h2.35v5.2h-2.35zM166.50 537.38h2.35v5.2h-2.35zM169.95 537.38h2.35v5.2h-2.35zM173.40 537.38h2.35v5.2h-2.35zM187.20 537.38h2.35v5.2h-2.35zM190.65 537.38h2.35v5.2h-2.35zM197.55 537.38h2.35v5.2h-2.35zM201.00 537.38h2.35v5.2h-2.35zM204.45 537.38h2.35v5.2h-2.35zM207.90 537.38h2.35v5.2h-2.35zM211.35 537.38h2.35v5.2h-2.35zM214.80 537.38h2.35v5.2h-2.35zM221.70 537.38h2.35v5.2h-2.35zM225.15 537.38h2.35v5.2h-2.35zM228.60 537.38h2.35v5.2h-2.35zM235.50 537.38h2.35v5.2h-2.35zM238.95 537.38h2.35v5.2h-2.35zM242.40 537.38h2.35v5.2h-2.35zM245.85 537.38h2.35v5.2h-2.35zM249.30 537.38h2.35v5.2h-2.35zM252.75 537.38h2.35v5.2h-2.35zM259.65 537.38h2.35v5.2h-2.35zM263.10 537.38h2.35v5.2h-2.35zM266.55 537.38h2.35v5.2h-2.35zM273.45 537.38h2.35v5.2h-2.35zM276.90 537.38h2.35v5.2h-2.35zM280.35 537.38h2.35v5.2h-2.35zM283.80 537.38h2.35v5.2h-2.35zM287.25 537.38h2.35v5.2h-2.35zM290.70 537.38h2.35v5.2h-2.35zM294.15 537.38h2.35v5.2h-2.35zM297.60 537.38h2.35v5.2h-2.35zM307.95 537.38h2.35v5.2h-2.35zM311.40 537.38h2.35v5.2h-2.35zM314.85 537.38h2.35v5.2h-2.35zM318.30 537.38h2.35v5.2h-2.35zM321.75 537.38h2.35v5.2h-2.35zM328.65 537.38h2.35v5.2h-2.35zM335.55 537.38h2.35v5.2h-2.35zM342.45 537.38h2.35v5.2h-2.35zM349.35 537.38h2.35v5.2h-2.35zM352.80 537.38h2.35v5.2h-2.35zM359.70 537.38h2.35v5.2h-2.35zM366.60 537.38h2.35v5.2h-2.35zM373.50 537.38h2.35v5.2h-2.35zM376.95 537.38h2.35v5.2h-2.35zM380.40 537.38h2.35v5.2h-2.35zM14.70 543.79h2.35v5.2h-2.35zM18.15 543.79h2.35v5.2h-2.35zM21.60 543.79h2.35v5.2h-2.35zM25.05 543.79h2.35v5.2h-2.35zM28.50 543.79h2.35v5.2h-2.35zM35.40 543.79h2.35v5.2h-2.35zM38.85 543.79h2.35v5.2h-2.35zM42.30 543.79h2.35v5.2h-2.35zM45.75 543.79h2.35v5.2h-2.35zM49.20 543.79h2.35v5.2h-2.35zM52.65 543.79h2.35v5.2h-2.35zM56.10 543.79h2.35v5.2h-2.35zM59.55 543.79h2.35v5.2h-2.35zM69.90 543.79h2.35v5.2h-2.35zM73.35 543.79h2.35v5.2h-2.35zM80.25 543.79h2.35v5.2h-2.35zM83.70 543.79h2.35v5.2h-2.35zM87.15 543.79h2.35v5.2h-2.35zM97.50 543.79h2.35v5.2h-2.35zM100.95 543.79h2.35v5.2h-2.35zM104.40 543.79h2.35v5.2h-2.35zM107.85 543.79h2.35v5.2h-2.35zM111.30 543.79h2.35v5.2h-2.35zM118.20 543.79h2.35v5.2h-2.35zM121.65 543.79h2.35v5.2h-2.35zM125.10 543.79h2.35v5.2h-2.35zM128.55 543.79h2.35v5.2h-2.35zM132.00 543.79h2.35v5.2h-2.35zM135.45 543.79h2.35v5.2h-2.35zM138.90 543.79h2.35v5.2h-2.35zM149.25 543.79h2.35v5.2h-2.35zM152.70 543.79h2.35v5.2h-2.35zM156.15 543.79h2.35v5.2h-2.35zM166.50 543.79h2.35v5.2h-2.35zM169.95 543.79h2.35v5.2h-2.35zM173.40 543.79h2.35v5.2h-2.35zM187.20 543.79h2.35v5.2h-2.35zM201.00 543.79h2.35v5.2h-2.35zM204.45 543.79h2.35v5.2h-2.35zM207.90 543.79h2.35v5.2h-2.35zM221.70 543.79h2.35v5.2h-2.35zM228.60 543.79h2.35v5.2h-2.35zM235.50 543.79h2.35v5.2h-2.35zM238.95 543.79h2.35v5.2h-2.35zM242.40 543.79h2.35v5.2h-2.35zM249.30 543.79h2.35v5.2h-2.35zM259.65 543.79h2.35v5.2h-2.35zM273.45 543.79h2.35v5.2h-2.35zM276.90 543.79h2.35v5.2h-2.35zM280.35 543.79h2.35v5.2h-2.35zM283.80 543.79h2.35v5.2h-2.35zM290.70 543.79h2.35v5.2h-2.35zM294.15 543.79h2.35v5.2h-2.35zM307.95 543.79h2.35v5.2h-2.35zM311.40 543.79h2.35v5.2h-2.35zM325.20 543.79h2.35v5.2h-2.35zM335.55 543.79h2.35v5.2h-2.35zM342.45 543.79h2.35v5.2h-2.35zM349.35 543.79h2.35v5.2h-2.35zM366.60 543.79h2.35v5.2h-2.35zM373.50 543.79h2.35v5.2h-2.35zM376.95 543.79h2.35v5.2h-2.35zM380.40 543.79h2.35v5.2h-2.35z"/>
<path fill="#0b5096" d="M76.70 524.36h2.55v5.6h-2.55zM83.60 524.36h2.55v5.6h-2.55zM93.95 524.36h2.55v5.6h-2.55zM114.65 524.36h2.55v5.6h-2.55zM118.10 524.36h2.55v5.6h-2.55zM138.80 524.36h2.55v5.6h-2.55zM145.70 524.36h2.55v5.6h-2.55zM159.50 524.36h2.55v5.6h-2.55zM162.95 524.36h2.55v5.6h-2.55zM173.30 524.36h2.55v5.6h-2.55zM183.65 524.36h2.55v5.6h-2.55zM187.10 524.36h2.55v5.6h-2.55zM190.55 524.36h2.55v5.6h-2.55zM200.90 524.36h2.55v5.6h-2.55zM204.35 524.36h2.55v5.6h-2.55zM211.25 524.36h2.55v5.6h-2.55zM214.70 524.36h2.55v5.6h-2.55zM231.95 524.36h2.55v5.6h-2.55zM235.40 524.36h2.55v5.6h-2.55zM242.30 524.36h2.55v5.6h-2.55zM245.75 524.36h2.55v5.6h-2.55zM252.65 524.36h2.55v5.6h-2.55zM256.10 524.36h2.55v5.6h-2.55zM263.00 524.36h2.55v5.6h-2.55zM266.45 524.36h2.55v5.6h-2.55zM273.35 524.36h2.55v5.6h-2.55zM276.80 524.36h2.55v5.6h-2.55zM280.25 524.36h2.55v5.6h-2.55zM287.15 524.36h2.55v5.6h-2.55zM297.50 524.36h2.55v5.6h-2.55zM300.95 524.36h2.55v5.6h-2.55zM304.40 524.36h2.55v5.6h-2.55zM311.30 524.36h2.55v5.6h-2.55zM321.65 524.36h2.55v5.6h-2.55zM328.55 524.36h2.55v5.6h-2.55zM332.00 524.36h2.55v5.6h-2.55zM335.45 524.36h2.55v5.6h-2.55zM338.90 524.36h2.55v5.6h-2.55zM342.35 524.36h2.55v5.6h-2.55zM345.80 524.36h2.55v5.6h-2.55zM356.15 524.36h2.55v5.6h-2.55zM366.50 524.36h2.55v5.6h-2.55zM373.40 524.36h2.55v5.6h-2.55zM376.85 524.36h2.55v5.6h-2.55zM380.30 524.36h2.55v5.6h-2.55zM383.75 524.36h2.55v5.6h-2.55zM18.05 530.77h2.55v5.6h-2.55zM21.50 530.77h2.55v5.6h-2.55zM24.95 530.77h2.55v5.6h-2.55zM28.40 530.77h2.55v5.6h-2.55zM35.30 530.77h2.55v5.6h-2.55zM42.20 530.77h2.55v5.6h-2.55zM49.10 530.77h2.55v5.6h-2.55zM59.45 530.77h2.55v5.6h-2.55zM62.90 530.77h2.55v5.6h-2.55zM69.80 530.77h2.55v5.6h-2.55zM73.25 530.77h2.55v5.6h-2.55zM83.60 530.77h2.55v5.6h-2.55zM87.05 530.77h2.55v5.6h-2.55zM90.50 530.77h2.55v5.6h-2.55zM97.40 530.77h2.55v5.6h-2.55zM100.85 530.77h2.55v5.6h-2.55zM114.65 530.77h2.55v5.6h-2.55zM118.10 530.77h2.55v5.6h-2.55zM128.45 530.77h2.55v5.6h-2.55zM131.90 530.77h2.55v5.6h-2.55zM138.80 530.77h2.55v5.6h-2.55zM142.25 530.77h2.55v5.6h-2.55zM149.15 530.77h2.55v5.6h-2.55zM152.60 530.77h2.55v5.6h-2.55zM159.50 530.77h2.55v5.6h-2.55zM162.95 530.77h2.55v5.6h-2.55zM166.40 530.77h2.55v5.6h-2.55zM169.85 530.77h2.55v5.6h-2.55zM176.75 530.77h2.55v5.6h-2.55zM187.10 530.77h2.55v5.6h-2.55zM194.00 530.77h2.55v5.6h-2.55zM200.90 530.77h2.55v5.6h-2.55zM207.80 530.77h2.55v5.6h-2.55zM218.15 530.77h2.55v5.6h-2.55zM221.60 530.77h2.55v5.6h-2.55zM225.05 530.77h2.55v5.6h-2.55zM228.50 530.77h2.55v5.6h-2.55zM231.95 530.77h2.55v5.6h-2.55zM235.40 530.77h2.55v5.6h-2.55zM238.85 530.77h2.55v5.6h-2.55zM245.75 530.77h2.55v5.6h-2.55zM249.20 530.77h2.55v5.6h-2.55zM252.65 530.77h2.55v5.6h-2.55zM259.55 530.77h2.55v5.6h-2.55zM263.00 530.77h2.55v5.6h-2.55zM266.45 530.77h2.55v5.6h-2.55zM273.35 530.77h2.55v5.6h-2.55zM276.80 530.77h2.55v5.6h-2.55zM280.25 530.77h2.55v5.6h-2.55zM283.70 530.77h2.55v5.6h-2.55zM290.60 530.77h2.55v5.6h-2.55zM297.50 530.77h2.55v5.6h-2.55zM300.95 530.77h2.55v5.6h-2.55zM304.40 530.77h2.55v5.6h-2.55zM314.75 530.77h2.55v5.6h-2.55zM318.20 530.77h2.55v5.6h-2.55zM321.65 530.77h2.55v5.6h-2.55zM328.55 530.77h2.55v5.6h-2.55zM342.35 530.77h2.55v5.6h-2.55zM345.80 530.77h2.55v5.6h-2.55zM349.25 530.77h2.55v5.6h-2.55zM352.70 530.77h2.55v5.6h-2.55zM359.60 530.77h2.55v5.6h-2.55zM366.50 530.77h2.55v5.6h-2.55zM369.95 530.77h2.55v5.6h-2.55zM373.40 530.77h2.55v5.6h-2.55zM376.85 530.77h2.55v5.6h-2.55zM380.30 530.77h2.55v5.6h-2.55zM383.75 530.77h2.55v5.6h-2.55zM176.75 537.18h2.55v5.6h-2.55zM180.20 537.18h2.55v5.6h-2.55zM183.65 537.18h2.55v5.6h-2.55zM194.00 537.18h2.55v5.6h-2.55zM218.15 537.18h2.55v5.6h-2.55zM231.95 537.18h2.55v5.6h-2.55zM256.10 537.18h2.55v5.6h-2.55zM269.90 537.18h2.55v5.6h-2.55zM300.95 537.18h2.55v5.6h-2.55zM304.40 537.18h2.55v5.6h-2.55zM325.10 537.18h2.55v5.6h-2.55zM332.00 537.18h2.55v5.6h-2.55zM338.90 537.18h2.55v5.6h-2.55zM345.80 537.18h2.55v5.6h-2.55zM356.15 537.18h2.55v5.6h-2.55zM363.05 537.18h2.55v5.6h-2.55zM369.95 537.18h2.55v5.6h-2.55zM383.75 537.18h2.55v5.6h-2.55zM31.85 543.59h2.55v5.6h-2.55zM62.90 543.59h2.55v5.6h-2.55zM66.35 543.59h2.55v5.6h-2.55zM76.70 543.59h2.55v5.6h-2.55zM90.50 543.59h2.55v5.6h-2.55zM93.95 543.59h2.55v5.6h-2.55zM114.65 543.59h2.55v5.6h-2.55zM142.25 543.59h2.55v5.6h-2.55zM145.70 543.59h2.55v5.6h-2.55zM159.50 543.59h2.55v5.6h-2.55zM162.95 543.59h2.55v5.6h-2.55zM176.75 543.59h2.55v5.6h-2.55zM180.20 543.59h2.55v5.6h-2.55zM183.65 543.59h2.55v5.6h-2.55zM190.55 543.59h2.55v5.6h-2.55zM194.00 543.59h2.55v5.6h-2.55zM197.45 543.59h2.55v5.6h-2.55zM211.25 543.59h2.55v5.6h-2.55zM214.70 543.59h2.55v5.6h-2.55zM218.15 543.59h2.55v5.6h-2.55zM225.05 543.59h2.55v5.6h-2.55zM231.95 543.59h2.55v5.6h-2.55zM245.75 543.59h2.55v5.6h-2.55zM252.65 543.59h2.55v5.6h-2.55zM256.10 543.59h2.55v5.6h-2.55zM263.00 543.59h2.55v5.6h-2.55zM266.45 543.59h2.55v5.6h-2.55zM269.90 543.59h2.55v5.6h-2.55zM287.15 543.59h2.55v5.6h-2.55zM297.50 543.59h2.55v5.6h-2.55zM300.95 543.59h2.55v5.6h-2.55zM304.40 543.59h2.55v5.6h-2.55zM314.75 543.59h2.55v5.6h-2.55zM318.20 543.59h2.55v5.6h-2.55zM321.65 543.59h2.55v5.6h-2.55zM328.55 543.59h2.55v5.6h-2.55zM332.00 543.59h2.55v5.6h-2.55zM338.90 543.59h2.55v5.6h-2.55zM345.80 543.59h2.55v5.6h-2.55zM352.70 543.59h2.55v5.6h-2.55zM356.15 543.59h2.55v5.6h-2.55zM359.60 543.59h2.55v5.6h-2.55zM363.05 543.59h2.55v5.6h-2.55zM369.95 543.59h2.55v5.6h-2.55zM383.75 543.59h2.55v5.6h-2.55z"/>
<text x="390.00" y="329.60" font-size="6.6" fill="#333" text-anchor="start" textLength="27.10" lengthAdjust="spacingAndGlyphs">Outcome</text>
<text x="390.00" y="338.90" font-size="6.6" fill="#333" text-anchor="start" textLength="17.00" lengthAdjust="spacingAndGlyphs">Death</text>
<text x="390.00" y="347.70" font-size="6.6" fill="#333" text-anchor="start" textLength="15.00" lengthAdjust="spacingAndGlyphs">CIMP</text>
<text x="390.00" y="356.20" font-size="6.6" fill="#333" text-anchor="start" textLength="21.20" lengthAdjust="spacingAndGlyphs">Fusions</text>
<text x="390.00" y="362.85" font-size="6.6" fill="#333" text-anchor="start" textLength="28.90" lengthAdjust="spacingAndGlyphs">STIL_TAL1</text>
<text x="390.00" y="369.26" font-size="6.6" fill="#333" text-anchor="start" textLength="14.20" lengthAdjust="spacingAndGlyphs">TAL2</text>
<text x="390.00" y="375.67" font-size="6.6" fill="#333" text-anchor="start" textLength="17.30" lengthAdjust="spacingAndGlyphs">LMO1</text>
<text x="390.00" y="382.08" font-size="6.6" fill="#333" text-anchor="start" textLength="17.70" lengthAdjust="spacingAndGlyphs">LMO2</text>
<text x="390.00" y="388.49" font-size="6.6" fill="#333" text-anchor="start" textLength="25.80" lengthAdjust="spacingAndGlyphs">NOTCH1</text>
<text x="390.00" y="394.90" font-size="6.6" fill="#333" text-anchor="start" textLength="24.60" lengthAdjust="spacingAndGlyphs">BCL2L11</text>
<text x="390.00" y="401.31" font-size="6.6" fill="#333" text-anchor="start" textLength="38.70" lengthAdjust="spacingAndGlyphs">BCL1L_11_14</text>
<text x="390.00" y="407.72" font-size="6.6" fill="#333" text-anchor="start" textLength="50.20" lengthAdjust="spacingAndGlyphs">MLLT11_GABPB2</text>
<text x="390.00" y="414.13" font-size="6.6" fill="#333" text-anchor="start" textLength="38.10" lengthAdjust="spacingAndGlyphs">SET_NUP214</text>
<text x="390.00" y="420.54" font-size="6.6" fill="#333" text-anchor="start" textLength="33.00" lengthAdjust="spacingAndGlyphs">Other_NUP</text>
<text x="390.00" y="426.95" font-size="6.6" fill="#333" text-anchor="start" textLength="7.10" lengthAdjust="spacingAndGlyphs">TR</text>
<text x="390.00" y="433.36" font-size="6.6" fill="#333" text-anchor="start" textLength="24.90" lengthAdjust="spacingAndGlyphs">TLX1_TR</text>
<text x="390.00" y="439.77" font-size="6.6" fill="#333" text-anchor="start" textLength="23.30" lengthAdjust="spacingAndGlyphs">TLX1NB</text>
<text x="390.00" y="446.18" font-size="6.6" fill="#333" text-anchor="start" textLength="14.10" lengthAdjust="spacingAndGlyphs">TLX3</text>
<text x="390.00" y="452.59" font-size="6.6" fill="#333" text-anchor="start" textLength="21.20" lengthAdjust="spacingAndGlyphs">KMT2A</text>
<text x="390.00" y="459.00" font-size="6.6" fill="#333" text-anchor="start" textLength="21.20" lengthAdjust="spacingAndGlyphs">KMT5A</text>
<text x="390.00" y="465.41" font-size="6.6" fill="#333" text-anchor="start" textLength="42.10" lengthAdjust="spacingAndGlyphs">RUNX1_HOXA</text>
<text x="390.00" y="471.82" font-size="6.6" fill="#333" text-anchor="start" textLength="40.40" lengthAdjust="spacingAndGlyphs">Other_RUNX1</text>
<text x="390.00" y="478.23" font-size="6.6" fill="#333" text-anchor="start" textLength="33.80" lengthAdjust="spacingAndGlyphs">NKX2_1_TR</text>
<text x="390.00" y="484.64" font-size="6.6" fill="#333" text-anchor="start" textLength="42.70" lengthAdjust="spacingAndGlyphs">Other_NKX2_1</text>
<text x="390.00" y="491.05" font-size="6.6" fill="#333" text-anchor="start" textLength="36.40" lengthAdjust="spacingAndGlyphs">HOXA10_TR</text>
<text x="390.00" y="497.46" font-size="6.6" fill="#333" text-anchor="start" textLength="43.30" lengthAdjust="spacingAndGlyphs">HOX11A_ETV6</text>
<text x="390.00" y="503.87" font-size="6.6" fill="#333" text-anchor="start" textLength="33.50" lengthAdjust="spacingAndGlyphs">ART4_ETV6</text>
<text x="390.00" y="510.28" font-size="6.6" fill="#333" text-anchor="start" textLength="31.20" lengthAdjust="spacingAndGlyphs">LMMLLT10</text>
<text x="390.00" y="516.69" font-size="6.6" fill="#333" text-anchor="start" textLength="16.50" lengthAdjust="spacingAndGlyphs">Other</text>
<text x="390.00" y="523.10" font-size="6.6" fill="#333" text-anchor="start" textLength="13.00" lengthAdjust="spacingAndGlyphs">CNV</text>
<text x="390.00" y="529.51" font-size="6.6" fill="#333" text-anchor="start" textLength="80.00" lengthAdjust="spacingAndGlyphs">chr5:140725000-141445000</text>
<text x="390.00" y="535.92" font-size="6.6" fill="#333" text-anchor="start" textLength="73.40" lengthAdjust="spacingAndGlyphs">chr9:21961000-21999000</text>
<text x="390.00" y="542.33" font-size="6.6" fill="#333" text-anchor="start" textLength="77.00" lengthAdjust="spacingAndGlyphs">chr16:33552000-33914000</text>
<text x="390.00" y="548.74" font-size="6.6" fill="#333" text-anchor="start" textLength="77.00" lengthAdjust="spacingAndGlyphs">chr16:34132000-35212000</text>
<text x="466.30" y="340.60" font-size="6.6" fill="#333" text-anchor="start" textLength="26.40" lengthAdjust="spacingAndGlyphs">Outcome</text>
<rect x="466.30" y="343.80" width="5.90" height="5.70" fill="#1a8db4"/>
<text x="475.50" y="348.80" font-size="6.6" fill="#333" text-anchor="start" textLength="8.40" lengthAdjust="spacingAndGlyphs">CR</text>
<rect x="466.30" y="352.40" width="5.90" height="5.70" fill="#55952e"/>
<text x="475.50" y="357.40" font-size="6.6" fill="#333" text-anchor="start" textLength="12.80" lengthAdjust="spacingAndGlyphs">DCR</text>
<rect x="466.30" y="361.00" width="5.90" height="5.70" fill="#a3a3a3"/>
<text x="475.50" y="366.00" font-size="6.6" fill="#333" text-anchor="start" textLength="4.60" lengthAdjust="spacingAndGlyphs">IF</text>
<rect x="466.30" y="369.20" width="5.90" height="5.70" fill="#d0281a"/>
<text x="475.50" y="374.20" font-size="6.6" fill="#333" text-anchor="start" textLength="22.20" lengthAdjust="spacingAndGlyphs">Relapse</text>
<text x="466.30" y="387.10" font-size="6.6" fill="#333" text-anchor="start" textLength="17.60" lengthAdjust="spacingAndGlyphs">Death</text>
<rect x="466.30" y="390.60" width="5.90" height="5.70" fill="#35b6c6"/>
<text x="475.50" y="395.60" font-size="6.6" fill="#333" text-anchor="start" textLength="12.80" lengthAdjust="spacingAndGlyphs">alive</text>
<rect x="466.30" y="399.10" width="5.90" height="5.70" fill="#e490c8"/>
<text x="475.50" y="404.10" font-size="6.6" fill="#333" text-anchor="start" textLength="27.30" lengthAdjust="spacingAndGlyphs">deceased</text>
<text x="466.30" y="417.00" font-size="6.6" fill="#333" text-anchor="start" textLength="15.70" lengthAdjust="spacingAndGlyphs">CIMP</text>
<rect x="466.30" y="420.20" width="5.90" height="5.70" fill="#c8102e"/>
<text x="475.50" y="425.20" font-size="6.6" fill="#333" text-anchor="start" textLength="29.50" lengthAdjust="spacingAndGlyphs">CIMP high</text>
<rect x="466.30" y="428.70" width="5.90" height="5.70" fill="#1a72a8"/>
<text x="475.50" y="433.70" font-size="6.6" fill="#333" text-anchor="start" textLength="27.30" lengthAdjust="spacingAndGlyphs">CIMP low</text>
<rect x="466.30" y="451.00" width="5.90" height="5.70" fill="#111"/>
<text x="475.50" y="456.00" font-size="6.6" fill="#333" text-anchor="start" textLength="21.00" lengthAdjust="spacingAndGlyphs">Fusions</text>
<rect x="466.30" y="459.50" width="5.90" height="5.70" fill="#ef6a1e"/>
<text x="475.50" y="464.50" font-size="6.6" fill="#333" text-anchor="start" textLength="15.70" lengthAdjust="spacingAndGlyphs">Gains</text>
<rect x="466.30" y="467.90" width="5.90" height="5.70" fill="#1360b0"/>
<text x="475.50" y="472.90" font-size="6.6" fill="#333" text-anchor="start" textLength="27.00" lengthAdjust="spacingAndGlyphs">Deletions</text>
<rect x="466.30" y="476.20" width="5.90" height="5.70" fill="#dadada"/>
<text x="475.50" y="481.20" font-size="6.6" fill="#333" text-anchor="start" textLength="37.50" lengthAdjust="spacingAndGlyphs">No alteration</text>
<rect x="0.5" y="0.5" width="519" height="556" fill="none" stroke="#5e5e5e" stroke-width="1"/>
</svg></body></html>
